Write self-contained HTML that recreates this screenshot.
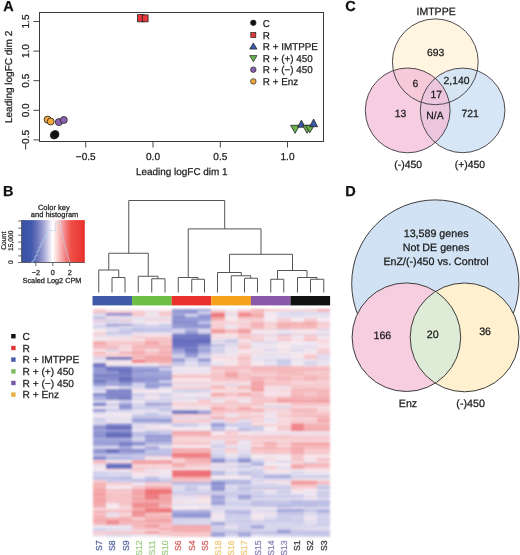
<!DOCTYPE html>
<html><head><meta charset="utf-8">
<style>
html,body{margin:0;padding:0;background:#fff;}
svg{filter:blur(0.4px);text-rendering:geometricPrecision;display:block;font-family:"Liberation Sans",sans-serif;will-change:transform;}
text{stroke-width:0.25px;}
</style></head><body>
<svg width="520" height="555" viewBox="0 0 520 555">
<rect width="520" height="555" fill="#fff"/>
<!-- ===== Panel A ===== -->
<g id="panelA">
<text x="3.2" y="10.6" font-size="14.5" font-weight="bold" fill="#111" stroke="#111">A</text>
<rect x="39.5" y="12.5" width="284" height="129" fill="none" stroke="#3a3a3a" stroke-width="1"/>
<g stroke="#444" stroke-width="1">
<line x1="33.5" y1="21.5" x2="39.5" y2="21.5"/>
<line x1="33.5" y1="51.1" x2="39.5" y2="51.1"/>
<line x1="33.5" y1="80.7" x2="39.5" y2="80.7"/>
<line x1="33.5" y1="110.3" x2="39.5" y2="110.3"/>
<line x1="33.5" y1="139.9" x2="39.5" y2="139.9"/>
<line x1="85.75" y1="141" x2="85.75" y2="147.5"/>
<line x1="153" y1="141" x2="153" y2="147.5"/>
<line x1="220.3" y1="141" x2="220.3" y2="147.5"/>
<line x1="287.5" y1="141" x2="287.5" y2="147.5"/>
</g>
<g font-size="10.1" fill="#222" text-anchor="middle" stroke="#222">
<text transform="translate(28.7,21.5) rotate(-90)">1.5</text>
<text transform="translate(28.7,51.1) rotate(-90)">1.0</text>
<text transform="translate(28.7,80.7) rotate(-90)">0.5</text>
<text transform="translate(28.7,110.3) rotate(-90)">0.0</text>
<text transform="translate(28.7,139.9) rotate(-90)">−0.5</text>
<text x="85.75" y="160">−0.5</text>
<text x="153" y="160">0.0</text>
<text x="220.3" y="160">0.5</text>
<text x="287.5" y="160">1.0</text>
</g>
<text x="181.8" y="174.5" font-size="9.95" fill="#222" text-anchor="middle" stroke="#222">Leading logFC dim 1</text>
<text transform="translate(12.1,76.9) rotate(-90)" font-size="10" fill="#222" text-anchor="middle" stroke="#222">Leading logFC dim 2</text>
<!-- points -->
<g stroke="#222" stroke-width="0.8">
<rect x="137.6" y="14.6" width="6.6" height="7.2" fill="#e8353a"/>
<rect x="142.3" y="14.9" width="5.8" height="6.9" fill="#e8353a"/>
<circle cx="47.6" cy="119.6" r="3.5" fill="#f2a83a"/>
<circle cx="50.7" cy="121.5" r="3.5" fill="#f2a83a"/>
<circle cx="58.8" cy="122.1" r="3.5" fill="#8a60b0"/>
<circle cx="63.8" cy="120" r="3.5" fill="#8a60b0"/>
<circle cx="54.1" cy="135.2" r="3.8" fill="#111"/>
<circle cx="55.2" cy="134.3" r="3.8" fill="#111"/>
<polygon points="290.6,125.3 299.6,125.3 295.1,133.3" fill="#6ab04c"/>
<polygon points="297.6,127.2 305.2,127.2 301.4,120.2" fill="#3a5aa8"/>
<polygon points="302.6,125.3 311.4,125.3 307,133.3" fill="#6ab04c"/>
<polygon points="305.4,125.3 314.2,125.3 309.8,132.8" fill="#6ab04c"/>
<polygon points="309.6,126.7 317.6,126.7 313.6,119" fill="#3a5aa8"/>
</g>
<!-- legend -->
<g stroke="#222" stroke-width="0.7">
<circle cx="253.3" cy="22.8" r="2.75" fill="#111"/>
<rect x="250.8" y="32.6" width="5" height="5" fill="#e0383a"/>
<polygon points="249.7,49.1 257,49.1 253.35,42.9" fill="#3a5aa8"/>
<polygon points="249.7,55.6 257,55.6 253.35,61.8" fill="#6ab04c"/>
<circle cx="253.3" cy="69.7" r="2.75" fill="#8a60b0"/>
<circle cx="253.3" cy="81.4" r="2.75" fill="#f2a83a"/>
</g>
<g font-size="9.9" fill="#222" stroke="#222">
<text x="262.8" y="26.6">C</text>
<text x="262.8" y="38.7">R</text>
<text x="262.8" y="49.9">R + IMTPPE</text>
<text x="262.8" y="62.1">R + (+) 450</text>
<text x="262.8" y="73.3">R + (−) 450</text>
<text x="262.8" y="85.1">R + Enz</text>
</g>
</g>

<!-- ===== Panel C ===== -->
<g id="panelC">
<text x="345.3" y="10.6" font-size="14.5" font-weight="bold" fill="#111" stroke="#111">C</text>
<text x="436.1" y="15.4" font-size="10.5" fill="#1a1a1a" text-anchor="middle" stroke="#1a1a1a">IMTPPE</text>
<circle cx="435.3" cy="61.8" r="42.9" fill="#fff5e0"/>
<circle cx="462.6" cy="110.4" r="42.3" fill="#d0e2f4" fill-opacity="0.85"/>
<circle cx="407.7" cy="110.4" r="42.4" fill="#f4bad5" fill-opacity="0.72"/>
<g fill="none" stroke="#454048" stroke-width="0.95">
<circle cx="435.3" cy="61.8" r="42.9"/>
<circle cx="462.6" cy="110.4" r="42.3"/>
<circle cx="407.7" cy="110.4" r="42.4"/>
</g>
<g font-size="10.4" fill="#1a1a1a" text-anchor="middle" stroke="#1a1a1a">
<text x="435.6" y="55.8">693</text>
<text x="415.4" y="87.3">6</text>
<text x="456.6" y="84">2,140</text>
<text x="436.2" y="97.6">17</text>
<text x="400.5" y="116.5">13</text>
<text x="435" y="118.5">N/A</text>
<text x="470.2" y="116.5">721</text>
<text x="408.2" y="168">(-)450</text>
<text x="469.9" y="168">(+)450</text>
</g>
</g>

<!-- ===== Panel D ===== -->
<g id="panelD">
<defs><clipPath id="clipP"><circle cx="406.4" cy="337.2" r="54.3"/></clipPath></defs>
<text x="345.3" y="195.8" font-size="14.5" font-weight="bold" fill="#111" stroke="#111">D</text>
<circle cx="435.3" cy="283.5" r="83.6" fill="#d0e2f3" stroke="#3d3d3d" stroke-width="1"/>
<circle cx="406.4" cy="337.2" r="54.3" fill="#f7cde0"/>
<circle cx="464.6" cy="337.4" r="54.4" fill="#fff0cf"/>
<circle cx="464.6" cy="337.4" r="54.4" fill="#deebd6" clip-path="url(#clipP)"/>
<circle cx="406.4" cy="337.2" r="54.3" fill="none" stroke="#3d3d3d" stroke-width="1"/>
<circle cx="464.6" cy="337.4" r="54.4" fill="none" stroke="#3d3d3d" stroke-width="1"/>
<g font-size="10.7" fill="#1a1a1a" text-anchor="middle" stroke="#1a1a1a">
<text x="436.1" y="237.3">13,589 genes</text>
<text x="436" y="251.2">Not DE genes</text>
<text x="436" y="265">EnZ/(-)450 vs. Control</text>
<text x="382.4" y="338.5">166</text>
<text x="432.7" y="337.7">20</text>
<text x="485.1" y="334.6">36</text>
<text x="408" y="407.1">Enz</text>
<text x="470.6" y="407.2">(-)450</text>
</g>
</g>

<!-- ===== Panel B ===== -->
<g id="panelB">
<text x="3.0" y="195.8" font-size="14.5" font-weight="bold" fill="#111" stroke="#111">B</text>
<!-- color key -->
<defs>
<linearGradient id="ck" x1="0" x2="1" y1="0" y2="0">
<stop offset="0" stop-color="#3a52a6"/>
<stop offset="0.15" stop-color="#4058a9"/>
<stop offset="0.25" stop-color="#6c76bc"/>
<stop offset="0.35" stop-color="#a4a6d6"/>
<stop offset="0.43" stop-color="#dcd8ee"/>
<stop offset="0.49" stop-color="#ffffff"/>
<stop offset="0.55" stop-color="#fcdcdc"/>
<stop offset="0.62" stop-color="#f8b0b0"/>
<stop offset="0.70" stop-color="#f27c7c"/>
<stop offset="0.78" stop-color="#ee5048"/>
<stop offset="1" stop-color="#e8302a"/>
</linearGradient>
<filter id="hblur" x="-2%" y="-2%" width="104%" height="104%"><feGaussianBlur stdDeviation="0.8"/></filter>
</defs>
<rect x="21.6" y="220.1" width="63.2" height="42.4" fill="url(#ck)"/>
<path d="M21.6,220.1 V262.5 H84.8" fill="none" stroke="#444" stroke-width="0.8"/>
<polyline points="31,262.3 33,262.3 33,260 35,260 35,256 37,256 37,251 39,251 39,247 41,247 41,243 43,243 43,239 45,239 45,236 47,236 47,230.5 55.6,230.5 55.6,222.8 60.6,222.8 61.5,231 63,238 65,246 67,253 69,260 70,262.3" fill="none" stroke="#b4dcee" stroke-width="0.6"/>
<g stroke="#444" stroke-width="0.8">
<line x1="18.2" y1="221" x2="21.6" y2="221"/>
<line x1="18.2" y1="228.2" x2="21.6" y2="228.2"/>
<line x1="18.2" y1="235.2" x2="21.6" y2="235.2"/>
<line x1="18.2" y1="242.1" x2="21.6" y2="242.1"/>
<line x1="18.2" y1="249" x2="21.6" y2="249"/>
<line x1="18.2" y1="255.9" x2="21.6" y2="255.9"/>
<line x1="18.2" y1="262.5" x2="21.6" y2="262.5"/>
<line x1="35.8" y1="262.5" x2="35.8" y2="266"/>
<line x1="52.8" y1="262.5" x2="52.8" y2="266"/>
<line x1="69.7" y1="262.5" x2="69.7" y2="266"/>
</g>
<g font-size="7.3" fill="#222" text-anchor="middle" stroke="#222">
<text x="53.8" y="209.5" font-size="7.5">Color key</text>
<text x="54.6" y="217" font-size="7.5">and histogram</text>
<text x="35.8" y="274.5">−2</text>
<text x="52.8" y="274.5">0</text>
<text x="69.7" y="274.5">2</text>
<text x="52" y="282.5">Scaled Log2 CPM</text>
<text transform="translate(12.8,262.2) rotate(-90)" font-size="6.7">0</text>
<text transform="translate(12.8,240.8) rotate(-90)" font-size="6.7">15,000</text>
<text transform="translate(5.6,240.8) rotate(-90)" font-size="6.8">Count</text>
</g>
<!-- legend -->
<g>
<rect x="11.2" y="334" width="4.4" height="4.4" fill="#111"/>
<rect x="11.2" y="345.8" width="4.4" height="4.4" fill="#e0383a"/>
<rect x="11.2" y="357.4" width="4.4" height="4.4" fill="#4a5ca8"/>
<rect x="11.2" y="369.2" width="4.4" height="4.4" fill="#7cbc64"/>
<rect x="11.2" y="380.8" width="4.4" height="4.4" fill="#7a5aa8"/>
<rect x="11.2" y="392.4" width="4.4" height="4.4" fill="#e8b040"/>
</g>
<g font-size="10.2" fill="#222" stroke="#222">
<text x="22.5" y="339.8">C</text>
<text x="22.5" y="351.6">R</text>
<text x="22.5" y="363.2">R + IMTPPE</text>
<text x="22.5" y="375">R + (+) 450</text>
<text x="22.5" y="386.6">R + (−) 450</text>
<text x="22.5" y="398.2">R + Enz</text>
</g>
<!-- dendrogram -->
<g fill="none" stroke="#555" stroke-width="1">
<path d="M128.75,253.25 V200.5 H224.7 V228.9"/>
<path d="M108.75,270 V253.25 H148.25 V276.25"/>
<path d="M98.75,292.5 V270 H118.75 V277.5"/>
<path d="M112,292.5 V277.5 H125 V292.5"/>
<path d="M138.25,292.5 V276.25 H158 V278.75"/>
<path d="M151.75,292.5 V278.75 H165 V292.5"/>
<path d="M188.25,277.5 V228.9 H261 V254.3"/>
<path d="M178.25,292.5 V277.5 H198 V279.25"/>
<path d="M191.75,292.5 V279.25 H204.5 V292.5"/>
<path d="M229.5,272.5 V254.3 H292.5 V270.5"/>
<path d="M217.5,292.5 V272.5 H241.25 V275.75"/>
<path d="M231.25,292.5 V275.75 H250.75 V278.25"/>
<path d="M244.5,292.5 V278.25 H257.5 V292.5"/>
<path d="M277.5,279.25 V270.5 H307 V277.5"/>
<path d="M270.75,292.5 V279.25 H283.75 V292.5"/>
<path d="M297.5,292.5 V277.5 H317 V279.25"/>
<path d="M310.5,292.5 V279.25 H323.75 V292.5"/>
</g>
<!-- group color bar -->
<rect x="92.5" y="296" width="39.6" height="9.4" fill="#3f5aa8"/>
<rect x="132.1" y="296" width="39.6" height="9.4" fill="#6cbe45"/>
<rect x="171.7" y="296" width="39.6" height="9.4" fill="#e8312a"/>
<rect x="211.3" y="296" width="39.6" height="9.4" fill="#f7a21b"/>
<rect x="250.9" y="296" width="39.6" height="9.4" fill="#8a5aa8"/>
<rect x="290.5" y="296" width="39.6" height="9.4" fill="#111"/>
<!-- heatmap -->
<g id="heat" shape-rendering="crispEdges" filter="url(#hblur)">
<rect x="92.5" y="309.00" width="13.25" height="1.05" fill="#f6ccd0"/>
<rect x="105.7" y="309.00" width="13.25" height="1.05" fill="#f6ebf1"/>
<rect x="118.9" y="309.00" width="13.25" height="1.05" fill="#f5ebf2"/>
<rect x="132.1" y="309.00" width="13.25" height="1.05" fill="#f6ebf1"/>
<rect x="145.3" y="309.00" width="13.25" height="1.05" fill="#f5ebf2"/>
<rect x="158.5" y="309.00" width="13.25" height="1.05" fill="#f6ebf1"/>
<rect x="92.5" y="310.00" width="13.25" height="1.05" fill="#f6c6ca"/>
<rect x="105.7" y="310.00" width="13.25" height="1.05" fill="#f6eaf0"/>
<rect x="118.9" y="310.00" width="13.25" height="1.05" fill="#f6e3e8"/>
<rect x="132.1" y="310.00" width="13.25" height="1.05" fill="#f6e3e9"/>
<rect x="145.3" y="310.00" width="13.25" height="1.05" fill="#f6eaf0"/>
<rect x="158.5" y="310.00" width="13.25" height="1.05" fill="#f6eaf0"/>
<rect x="92.5" y="311.00" width="13.25" height="1.20" fill="#f6d7dc"/>
<rect x="105.7" y="311.00" width="13.25" height="1.20" fill="#f6d8dd"/>
<rect x="118.9" y="311.00" width="13.25" height="1.20" fill="#f6d6db"/>
<rect x="132.1" y="311.00" width="13.25" height="1.20" fill="#f6d8dd"/>
<rect x="145.3" y="311.00" width="13.25" height="1.20" fill="#eae3f0"/>
<rect x="158.5" y="311.00" width="13.25" height="1.20" fill="#f6dbe0"/>
<rect x="92.5" y="312.15" width="13.25" height="1.20" fill="#f4b3b5"/>
<rect x="105.7" y="312.15" width="13.25" height="1.20" fill="#f5b8bb"/>
<rect x="118.9" y="312.15" width="13.25" height="1.20" fill="#f5b8bb"/>
<rect x="132.1" y="312.15" width="13.25" height="1.20" fill="#f5bbbf"/>
<rect x="145.3" y="312.15" width="13.25" height="1.20" fill="#f6d8dd"/>
<rect x="158.5" y="312.15" width="13.25" height="1.20" fill="#f5babd"/>
<rect x="92.5" y="313.30" width="13.25" height="1.40" fill="#d8d6ed"/>
<rect x="105.7" y="313.30" width="13.25" height="1.40" fill="#9195d2"/>
<rect x="118.9" y="313.30" width="13.25" height="1.40" fill="#8a8fcf"/>
<rect x="132.1" y="313.30" width="13.25" height="1.40" fill="#f6ced2"/>
<rect x="145.3" y="313.30" width="13.25" height="1.40" fill="#efe7f1"/>
<rect x="158.5" y="313.30" width="13.25" height="1.40" fill="#f6cfd3"/>
<rect x="92.5" y="314.65" width="13.25" height="1.40" fill="#e8e2f0"/>
<rect x="105.7" y="314.65" width="13.25" height="1.40" fill="#9ca0d8"/>
<rect x="118.9" y="314.65" width="13.25" height="1.40" fill="#999dd7"/>
<rect x="132.1" y="314.65" width="13.25" height="1.40" fill="#f5bbbe"/>
<rect x="145.3" y="314.65" width="13.25" height="1.40" fill="#f6dee3"/>
<rect x="158.5" y="314.65" width="13.25" height="1.40" fill="#f5b8bc"/>
<rect x="92.5" y="316.00" width="13.25" height="1.30" fill="#e1ddef"/>
<rect x="105.7" y="316.00" width="13.25" height="1.30" fill="#f6dde2"/>
<rect x="118.9" y="316.00" width="13.25" height="1.30" fill="#f6dee3"/>
<rect x="132.1" y="316.00" width="13.25" height="1.30" fill="#f6e8ee"/>
<rect x="145.3" y="316.00" width="13.25" height="1.30" fill="#f6ecf2"/>
<rect x="158.5" y="316.00" width="13.25" height="1.30" fill="#f6ebf1"/>
<rect x="92.5" y="317.25" width="13.25" height="1.30" fill="#b1b4e0"/>
<rect x="105.7" y="317.25" width="13.25" height="1.30" fill="#e6e0ef"/>
<rect x="118.9" y="317.25" width="13.25" height="1.30" fill="#dbd8ee"/>
<rect x="132.1" y="317.25" width="13.25" height="1.30" fill="#e0dcee"/>
<rect x="145.3" y="317.25" width="13.25" height="1.30" fill="#e4dfef"/>
<rect x="158.5" y="317.25" width="13.25" height="1.30" fill="#e1dcee"/>
<rect x="92.5" y="318.50" width="13.25" height="1.45" fill="#f5ebf2"/>
<rect x="105.7" y="318.50" width="13.25" height="1.45" fill="#ceceeb"/>
<rect x="118.9" y="318.50" width="13.25" height="1.45" fill="#f0e8f1"/>
<rect x="132.1" y="318.50" width="13.25" height="1.45" fill="#eae3f0"/>
<rect x="145.3" y="318.50" width="13.25" height="1.45" fill="#f6dadf"/>
<rect x="158.5" y="318.50" width="13.25" height="1.45" fill="#f6dadf"/>
<rect x="92.5" y="319.90" width="13.25" height="1.45" fill="#f5bdc0"/>
<rect x="105.7" y="319.90" width="13.25" height="1.45" fill="#f6dbe0"/>
<rect x="118.9" y="319.90" width="13.25" height="1.45" fill="#f5bdc0"/>
<rect x="132.1" y="319.90" width="13.25" height="1.45" fill="#f6eaf0"/>
<rect x="145.3" y="319.90" width="13.25" height="1.45" fill="#f6cdd1"/>
<rect x="158.5" y="319.90" width="13.25" height="1.45" fill="#f6ced2"/>
<rect x="92.5" y="321.30" width="13.25" height="1.20" fill="#cbcceb"/>
<rect x="105.7" y="321.30" width="13.25" height="1.20" fill="#c0c2e6"/>
<rect x="118.9" y="321.30" width="13.25" height="1.20" fill="#c7c8e9"/>
<rect x="132.1" y="321.30" width="13.25" height="1.20" fill="#e1ddef"/>
<rect x="145.3" y="321.30" width="13.25" height="1.20" fill="#ebe4f0"/>
<rect x="158.5" y="321.30" width="13.25" height="1.20" fill="#e8e1f0"/>
<rect x="92.5" y="322.45" width="13.25" height="1.20" fill="#e8e1f0"/>
<rect x="105.7" y="322.45" width="13.25" height="1.20" fill="#e6e0ef"/>
<rect x="118.9" y="322.45" width="13.25" height="1.20" fill="#e9e3f0"/>
<rect x="132.1" y="322.45" width="13.25" height="1.20" fill="#f1e8f1"/>
<rect x="145.3" y="322.45" width="13.25" height="1.20" fill="#f6ecf2"/>
<rect x="158.5" y="322.45" width="13.25" height="1.20" fill="#f2e9f1"/>
<rect x="92.5" y="323.60" width="13.25" height="1.25" fill="#e5dfef"/>
<rect x="105.7" y="323.60" width="13.25" height="1.25" fill="#9296d3"/>
<rect x="118.9" y="323.60" width="13.25" height="1.25" fill="#8f93d1"/>
<rect x="132.1" y="323.60" width="13.25" height="1.25" fill="#bfc1e6"/>
<rect x="145.3" y="323.60" width="13.25" height="1.25" fill="#d8d6ed"/>
<rect x="158.5" y="323.60" width="13.25" height="1.25" fill="#c6c7e8"/>
<rect x="92.5" y="324.80" width="13.25" height="1.25" fill="#dcd9ee"/>
<rect x="105.7" y="324.80" width="13.25" height="1.25" fill="#9195d2"/>
<rect x="118.9" y="324.80" width="13.25" height="1.25" fill="#9599d5"/>
<rect x="132.1" y="324.80" width="13.25" height="1.25" fill="#cbcceb"/>
<rect x="145.3" y="324.80" width="13.25" height="1.25" fill="#e1dcee"/>
<rect x="158.5" y="324.80" width="13.25" height="1.25" fill="#c8c9e9"/>
<rect x="92.5" y="326.00" width="13.25" height="1.15" fill="#d3d2ec"/>
<rect x="105.7" y="326.00" width="13.25" height="1.15" fill="#d5d3ec"/>
<rect x="118.9" y="326.00" width="13.25" height="1.15" fill="#ede5f0"/>
<rect x="132.1" y="326.00" width="13.25" height="1.15" fill="#d3d2ec"/>
<rect x="145.3" y="326.00" width="13.25" height="1.15" fill="#d2d1ec"/>
<rect x="158.5" y="326.00" width="13.25" height="1.15" fill="#d7d5ed"/>
<rect x="92.5" y="327.10" width="13.25" height="1.15" fill="#cecfeb"/>
<rect x="105.7" y="327.10" width="13.25" height="1.15" fill="#cfd0ec"/>
<rect x="118.9" y="327.10" width="13.25" height="1.15" fill="#eae3f0"/>
<rect x="132.1" y="327.10" width="13.25" height="1.15" fill="#d1d1ec"/>
<rect x="145.3" y="327.10" width="13.25" height="1.15" fill="#d6d5ed"/>
<rect x="158.5" y="327.10" width="13.25" height="1.15" fill="#c6c8e9"/>
<rect x="92.5" y="328.20" width="13.25" height="1.32" fill="#ede5f0"/>
<rect x="105.7" y="328.20" width="13.25" height="1.32" fill="#d9d7ed"/>
<rect x="118.9" y="328.20" width="13.25" height="1.32" fill="#bdbfe5"/>
<rect x="132.1" y="328.20" width="13.25" height="1.32" fill="#c3c5e8"/>
<rect x="145.3" y="328.20" width="13.25" height="1.32" fill="#c0c2e6"/>
<rect x="158.5" y="328.20" width="13.25" height="1.32" fill="#cccdeb"/>
<rect x="92.5" y="329.47" width="13.25" height="1.32" fill="#f6eaf0"/>
<rect x="105.7" y="329.47" width="13.25" height="1.32" fill="#e5e0ef"/>
<rect x="118.9" y="329.47" width="13.25" height="1.32" fill="#cfcfeb"/>
<rect x="132.1" y="329.47" width="13.25" height="1.32" fill="#bdbfe5"/>
<rect x="145.3" y="329.47" width="13.25" height="1.32" fill="#c3c5e7"/>
<rect x="158.5" y="329.47" width="13.25" height="1.32" fill="#babce4"/>
<rect x="92.5" y="330.73" width="13.25" height="1.32" fill="#f6e3e9"/>
<rect x="105.7" y="330.73" width="13.25" height="1.32" fill="#efe7f1"/>
<rect x="118.9" y="330.73" width="13.25" height="1.32" fill="#ceceeb"/>
<rect x="132.1" y="330.73" width="13.25" height="1.32" fill="#c9cbea"/>
<rect x="145.3" y="330.73" width="13.25" height="1.32" fill="#cdceeb"/>
<rect x="158.5" y="330.73" width="13.25" height="1.32" fill="#cfcfeb"/>
<rect x="92.5" y="332.00" width="13.25" height="1.12" fill="#f6e7ed"/>
<rect x="105.7" y="332.00" width="13.25" height="1.12" fill="#b0b3e0"/>
<rect x="118.9" y="332.00" width="13.25" height="1.12" fill="#a7aadc"/>
<rect x="132.1" y="332.00" width="13.25" height="1.12" fill="#dbd8ee"/>
<rect x="145.3" y="332.00" width="13.25" height="1.12" fill="#d7d5ed"/>
<rect x="158.5" y="332.00" width="13.25" height="1.12" fill="#d8d6ed"/>
<rect x="92.5" y="333.07" width="13.25" height="1.12" fill="#f6c2c6"/>
<rect x="105.7" y="333.07" width="13.25" height="1.12" fill="#dedaee"/>
<rect x="118.9" y="333.07" width="13.25" height="1.12" fill="#ddd9ee"/>
<rect x="132.1" y="333.07" width="13.25" height="1.12" fill="#f6dbe0"/>
<rect x="145.3" y="333.07" width="13.25" height="1.12" fill="#f6e6ec"/>
<rect x="158.5" y="333.07" width="13.25" height="1.12" fill="#f6e1e6"/>
<rect x="92.5" y="334.13" width="13.25" height="1.12" fill="#f6ccd0"/>
<rect x="105.7" y="334.13" width="13.25" height="1.12" fill="#cccdeb"/>
<rect x="118.9" y="334.13" width="13.25" height="1.12" fill="#ceceeb"/>
<rect x="132.1" y="334.13" width="13.25" height="1.12" fill="#e6e0ef"/>
<rect x="145.3" y="334.13" width="13.25" height="1.12" fill="#ede6f1"/>
<rect x="158.5" y="334.13" width="13.25" height="1.12" fill="#e8e2f0"/>
<rect x="92.5" y="335.20" width="13.25" height="1.55" fill="#e6e0ef"/>
<rect x="105.7" y="335.20" width="13.25" height="1.55" fill="#e4dfef"/>
<rect x="118.9" y="335.20" width="13.25" height="1.55" fill="#e7e1ef"/>
<rect x="132.1" y="335.20" width="13.25" height="1.55" fill="#f6dce1"/>
<rect x="145.3" y="335.20" width="13.25" height="1.55" fill="#f6dfe4"/>
<rect x="158.5" y="335.20" width="13.25" height="1.55" fill="#f6dadf"/>
<rect x="92.5" y="336.70" width="13.25" height="1.55" fill="#f6d9de"/>
<rect x="105.7" y="336.70" width="13.25" height="1.55" fill="#f6dbe0"/>
<rect x="118.9" y="336.70" width="13.25" height="1.55" fill="#f6dee4"/>
<rect x="132.1" y="336.70" width="13.25" height="1.55" fill="#f5c1c5"/>
<rect x="145.3" y="336.70" width="13.25" height="1.55" fill="#f6c5c9"/>
<rect x="158.5" y="336.70" width="13.25" height="1.55" fill="#f6c7cb"/>
<rect x="92.5" y="338.20" width="13.25" height="1.60" fill="#f2e9f1"/>
<rect x="105.7" y="338.20" width="13.25" height="1.60" fill="#f6e7ec"/>
<rect x="118.9" y="338.20" width="13.25" height="1.60" fill="#f6e0e6"/>
<rect x="132.1" y="338.20" width="13.25" height="1.60" fill="#f6dadf"/>
<rect x="145.3" y="338.20" width="13.25" height="1.60" fill="#f5c0c3"/>
<rect x="158.5" y="338.20" width="13.25" height="1.60" fill="#f5c1c5"/>
<rect x="92.5" y="339.75" width="13.25" height="1.60" fill="#f3eaf2"/>
<rect x="105.7" y="339.75" width="13.25" height="1.60" fill="#f6dae0"/>
<rect x="118.9" y="339.75" width="13.25" height="1.60" fill="#f6dfe5"/>
<rect x="132.1" y="339.75" width="13.25" height="1.60" fill="#f5ebf2"/>
<rect x="145.3" y="339.75" width="13.25" height="1.60" fill="#f6d2d7"/>
<rect x="158.5" y="339.75" width="13.25" height="1.60" fill="#f6cbcf"/>
<rect x="92.5" y="341.30" width="13.25" height="1.35" fill="#f4afb1"/>
<rect x="105.7" y="341.30" width="13.25" height="1.35" fill="#f6c9cd"/>
<rect x="118.9" y="341.30" width="13.25" height="1.35" fill="#f6cbcf"/>
<rect x="132.1" y="341.30" width="13.25" height="1.35" fill="#f5c1c5"/>
<rect x="145.3" y="341.30" width="13.25" height="1.35" fill="#f3a0a2"/>
<rect x="158.5" y="341.30" width="13.25" height="1.35" fill="#f5bdc0"/>
<rect x="92.5" y="342.60" width="13.25" height="1.35" fill="#f29c9e"/>
<rect x="105.7" y="342.60" width="13.25" height="1.35" fill="#f6c3c7"/>
<rect x="118.9" y="342.60" width="13.25" height="1.35" fill="#f5c1c5"/>
<rect x="132.1" y="342.60" width="13.25" height="1.35" fill="#f5c2c5"/>
<rect x="145.3" y="342.60" width="13.25" height="1.35" fill="#f4acae"/>
<rect x="158.5" y="342.60" width="13.25" height="1.35" fill="#f6c5c9"/>
<rect x="92.5" y="343.90" width="13.25" height="1.35" fill="#f4b3b6"/>
<rect x="105.7" y="343.90" width="13.25" height="1.35" fill="#f6cdd1"/>
<rect x="118.9" y="343.90" width="13.25" height="1.35" fill="#f6c9cd"/>
<rect x="132.1" y="343.90" width="13.25" height="1.35" fill="#f6ccd0"/>
<rect x="145.3" y="343.90" width="13.25" height="1.35" fill="#f4aeb0"/>
<rect x="158.5" y="343.90" width="13.25" height="1.35" fill="#f6ced2"/>
<rect x="92.5" y="345.20" width="13.25" height="1.42" fill="#f5bcc0"/>
<rect x="105.7" y="345.20" width="13.25" height="1.42" fill="#f6c4c8"/>
<rect x="118.9" y="345.20" width="13.25" height="1.42" fill="#f6dee3"/>
<rect x="132.1" y="345.20" width="13.25" height="1.42" fill="#f4b5b8"/>
<rect x="145.3" y="345.20" width="13.25" height="1.42" fill="#f5b7ba"/>
<rect x="158.5" y="345.20" width="13.25" height="1.42" fill="#f4b5b8"/>
<rect x="92.5" y="346.57" width="13.25" height="1.42" fill="#f5b8bb"/>
<rect x="105.7" y="346.57" width="13.25" height="1.42" fill="#f4b5b8"/>
<rect x="118.9" y="346.57" width="13.25" height="1.42" fill="#f6ced2"/>
<rect x="132.1" y="346.57" width="13.25" height="1.42" fill="#f4b3b5"/>
<rect x="145.3" y="346.57" width="13.25" height="1.42" fill="#f4b2b5"/>
<rect x="158.5" y="346.57" width="13.25" height="1.42" fill="#f4b4b7"/>
<rect x="92.5" y="347.93" width="13.25" height="1.42" fill="#f4b5b8"/>
<rect x="105.7" y="347.93" width="13.25" height="1.42" fill="#f5bdc1"/>
<rect x="118.9" y="347.93" width="13.25" height="1.42" fill="#f6d2d7"/>
<rect x="132.1" y="347.93" width="13.25" height="1.42" fill="#f5b9bc"/>
<rect x="145.3" y="347.93" width="13.25" height="1.42" fill="#f4b1b4"/>
<rect x="158.5" y="347.93" width="13.25" height="1.42" fill="#f4b4b7"/>
<rect x="92.5" y="349.30" width="13.25" height="1.48" fill="#f6e8ed"/>
<rect x="105.7" y="349.30" width="13.25" height="1.48" fill="#d5d4ec"/>
<rect x="118.9" y="349.30" width="13.25" height="1.48" fill="#f6e6ec"/>
<rect x="132.1" y="349.30" width="13.25" height="1.48" fill="#f5c1c5"/>
<rect x="145.3" y="349.30" width="13.25" height="1.48" fill="#f6dfe4"/>
<rect x="158.5" y="349.30" width="13.25" height="1.48" fill="#f5bfc3"/>
<rect x="92.5" y="350.73" width="13.25" height="1.48" fill="#f6c8cc"/>
<rect x="105.7" y="350.73" width="13.25" height="1.48" fill="#f6dee3"/>
<rect x="118.9" y="350.73" width="13.25" height="1.48" fill="#f5bec2"/>
<rect x="132.1" y="350.73" width="13.25" height="1.48" fill="#f4abad"/>
<rect x="145.3" y="350.73" width="13.25" height="1.48" fill="#f5c0c4"/>
<rect x="158.5" y="350.73" width="13.25" height="1.48" fill="#f4aeb1"/>
<rect x="92.5" y="352.17" width="13.25" height="1.48" fill="#f5bcbf"/>
<rect x="105.7" y="352.17" width="13.25" height="1.48" fill="#f6d6db"/>
<rect x="118.9" y="352.17" width="13.25" height="1.48" fill="#f4b4b7"/>
<rect x="132.1" y="352.17" width="13.25" height="1.48" fill="#f3a9ab"/>
<rect x="145.3" y="352.17" width="13.25" height="1.48" fill="#f6c5c8"/>
<rect x="158.5" y="352.17" width="13.25" height="1.48" fill="#f4adaf"/>
<rect x="92.5" y="353.60" width="13.25" height="1.18" fill="#f6c9cd"/>
<rect x="105.7" y="353.60" width="13.25" height="1.18" fill="#f6cbcf"/>
<rect x="118.9" y="353.60" width="13.25" height="1.18" fill="#f6ccd0"/>
<rect x="132.1" y="353.60" width="13.25" height="1.18" fill="#f5b6b9"/>
<rect x="145.3" y="353.60" width="13.25" height="1.18" fill="#f4b3b5"/>
<rect x="158.5" y="353.60" width="13.25" height="1.18" fill="#f4b5b8"/>
<rect x="92.5" y="354.73" width="13.25" height="1.18" fill="#f6d2d6"/>
<rect x="105.7" y="354.73" width="13.25" height="1.18" fill="#f6d6db"/>
<rect x="118.9" y="354.73" width="13.25" height="1.18" fill="#f6d8dc"/>
<rect x="132.1" y="354.73" width="13.25" height="1.18" fill="#f6c4c8"/>
<rect x="145.3" y="354.73" width="13.25" height="1.18" fill="#f6c5c8"/>
<rect x="158.5" y="354.73" width="13.25" height="1.18" fill="#f5c1c5"/>
<rect x="92.5" y="355.87" width="13.25" height="1.18" fill="#f6c6ca"/>
<rect x="105.7" y="355.87" width="13.25" height="1.18" fill="#f6cdd1"/>
<rect x="118.9" y="355.87" width="13.25" height="1.18" fill="#f6c4c8"/>
<rect x="132.1" y="355.87" width="13.25" height="1.18" fill="#f4aaad"/>
<rect x="145.3" y="355.87" width="13.25" height="1.18" fill="#f3a5a7"/>
<rect x="158.5" y="355.87" width="13.25" height="1.18" fill="#f3a3a5"/>
<rect x="92.5" y="357.00" width="13.25" height="1.45" fill="#d0d0ec"/>
<rect x="105.7" y="357.00" width="13.25" height="1.45" fill="#6068b8"/>
<rect x="118.9" y="357.00" width="13.25" height="1.45" fill="#6068b8"/>
<rect x="132.1" y="357.00" width="13.25" height="1.45" fill="#f5bdc0"/>
<rect x="145.3" y="357.00" width="13.25" height="1.45" fill="#f29ea0"/>
<rect x="158.5" y="357.00" width="13.25" height="1.45" fill="#f3a6a8"/>
<rect x="92.5" y="358.40" width="13.25" height="1.45" fill="#e2ddef"/>
<rect x="105.7" y="358.40" width="13.25" height="1.45" fill="#7076c2"/>
<rect x="118.9" y="358.40" width="13.25" height="1.45" fill="#6d74c0"/>
<rect x="132.1" y="358.40" width="13.25" height="1.45" fill="#f5c1c5"/>
<rect x="145.3" y="358.40" width="13.25" height="1.45" fill="#f3a8aa"/>
<rect x="158.5" y="358.40" width="13.25" height="1.45" fill="#f3a4a6"/>
<rect x="92.5" y="359.80" width="13.25" height="1.55" fill="#e5e0ef"/>
<rect x="105.7" y="359.80" width="13.25" height="1.55" fill="#f6e8ee"/>
<rect x="118.9" y="359.80" width="13.25" height="1.55" fill="#f6e7ec"/>
<rect x="132.1" y="359.80" width="13.25" height="1.55" fill="#f08084"/>
<rect x="145.3" y="359.80" width="13.25" height="1.55" fill="#f4adaf"/>
<rect x="158.5" y="359.80" width="13.25" height="1.55" fill="#f4aeb1"/>
<rect x="92.5" y="361.30" width="13.25" height="1.55" fill="#ede5f0"/>
<rect x="105.7" y="361.30" width="13.25" height="1.55" fill="#f6e3e9"/>
<rect x="118.9" y="361.30" width="13.25" height="1.55" fill="#f6e1e7"/>
<rect x="132.1" y="361.30" width="13.25" height="1.55" fill="#ef797c"/>
<rect x="145.3" y="361.30" width="13.25" height="1.55" fill="#f3a7a9"/>
<rect x="158.5" y="361.30" width="13.25" height="1.55" fill="#f3a6a8"/>
<rect x="92.5" y="362.80" width="13.25" height="1.12" fill="#6a71be"/>
<rect x="105.7" y="362.80" width="13.25" height="1.12" fill="#f2e9f1"/>
<rect x="118.9" y="362.80" width="13.25" height="1.12" fill="#f0e8f1"/>
<rect x="132.1" y="362.80" width="13.25" height="1.12" fill="#f6ebf1"/>
<rect x="145.3" y="362.80" width="13.25" height="1.12" fill="#f2e9f1"/>
<rect x="158.5" y="362.80" width="13.25" height="1.12" fill="#f6d4d8"/>
<rect x="92.5" y="363.87" width="13.25" height="1.12" fill="#6e74c1"/>
<rect x="105.7" y="363.87" width="13.25" height="1.12" fill="#efe7f1"/>
<rect x="118.9" y="363.87" width="13.25" height="1.12" fill="#eae3f0"/>
<rect x="132.1" y="363.87" width="13.25" height="1.12" fill="#f6ebf1"/>
<rect x="145.3" y="363.87" width="13.25" height="1.12" fill="#f1e8f1"/>
<rect x="158.5" y="363.87" width="13.25" height="1.12" fill="#f6d5d9"/>
<rect x="92.5" y="364.93" width="13.25" height="1.12" fill="#6c73c0"/>
<rect x="105.7" y="364.93" width="13.25" height="1.12" fill="#f2e9f1"/>
<rect x="118.9" y="364.93" width="13.25" height="1.12" fill="#f6ebf1"/>
<rect x="132.1" y="364.93" width="13.25" height="1.12" fill="#f3eaf1"/>
<rect x="145.3" y="364.93" width="13.25" height="1.12" fill="#f5ebf2"/>
<rect x="158.5" y="364.93" width="13.25" height="1.12" fill="#f6cbcf"/>
<rect x="92.5" y="366.00" width="13.25" height="1.20" fill="#7e84c9"/>
<rect x="105.7" y="366.00" width="13.25" height="1.20" fill="#8186cb"/>
<rect x="118.9" y="366.00" width="13.25" height="1.20" fill="#8489cc"/>
<rect x="132.1" y="366.00" width="13.25" height="1.20" fill="#a9acdd"/>
<rect x="145.3" y="366.00" width="13.25" height="1.20" fill="#a7aadc"/>
<rect x="158.5" y="366.00" width="13.25" height="1.20" fill="#a9acdd"/>
<rect x="92.5" y="367.15" width="13.25" height="1.20" fill="#8186ca"/>
<rect x="105.7" y="367.15" width="13.25" height="1.20" fill="#7c81c8"/>
<rect x="118.9" y="367.15" width="13.25" height="1.20" fill="#7d82c9"/>
<rect x="132.1" y="367.15" width="13.25" height="1.20" fill="#a8abdc"/>
<rect x="145.3" y="367.15" width="13.25" height="1.20" fill="#adafde"/>
<rect x="158.5" y="367.15" width="13.25" height="1.20" fill="#adb0de"/>
<rect x="92.5" y="368.30" width="13.25" height="1.20" fill="#9296d3"/>
<rect x="105.7" y="368.30" width="13.25" height="1.20" fill="#6b72bf"/>
<rect x="118.9" y="368.30" width="13.25" height="1.20" fill="#6d74c0"/>
<rect x="132.1" y="368.30" width="13.25" height="1.20" fill="#9ea2d9"/>
<rect x="145.3" y="368.30" width="13.25" height="1.20" fill="#a2a5da"/>
<rect x="158.5" y="368.30" width="13.25" height="1.20" fill="#d5d4ec"/>
<rect x="92.5" y="369.45" width="13.25" height="1.20" fill="#9b9ed7"/>
<rect x="105.7" y="369.45" width="13.25" height="1.20" fill="#757bc4"/>
<rect x="118.9" y="369.45" width="13.25" height="1.20" fill="#7076c2"/>
<rect x="132.1" y="369.45" width="13.25" height="1.20" fill="#979bd5"/>
<rect x="145.3" y="369.45" width="13.25" height="1.20" fill="#9296d3"/>
<rect x="158.5" y="369.45" width="13.25" height="1.20" fill="#cbcceb"/>
<rect x="92.5" y="370.60" width="13.25" height="1.60" fill="#7e83c9"/>
<rect x="105.7" y="370.60" width="13.25" height="1.60" fill="#7e83c9"/>
<rect x="118.9" y="370.60" width="13.25" height="1.60" fill="#6068b8"/>
<rect x="132.1" y="370.60" width="13.25" height="1.60" fill="#7a7fc7"/>
<rect x="145.3" y="370.60" width="13.25" height="1.60" fill="#8489cc"/>
<rect x="158.5" y="370.60" width="13.25" height="1.60" fill="#8085ca"/>
<rect x="92.5" y="372.15" width="13.25" height="1.60" fill="#a1a5da"/>
<rect x="105.7" y="372.15" width="13.25" height="1.60" fill="#9b9ed7"/>
<rect x="118.9" y="372.15" width="13.25" height="1.60" fill="#7a80c7"/>
<rect x="132.1" y="372.15" width="13.25" height="1.60" fill="#a8acdd"/>
<rect x="145.3" y="372.15" width="13.25" height="1.60" fill="#b0b3e0"/>
<rect x="158.5" y="372.15" width="13.25" height="1.60" fill="#b3b5e1"/>
<rect x="92.5" y="373.70" width="13.25" height="1.60" fill="#6068b8"/>
<rect x="105.7" y="373.70" width="13.25" height="1.60" fill="#6068b8"/>
<rect x="118.9" y="373.70" width="13.25" height="1.60" fill="#6068b8"/>
<rect x="132.1" y="373.70" width="13.25" height="1.60" fill="#8489cc"/>
<rect x="145.3" y="373.70" width="13.25" height="1.60" fill="#858acd"/>
<rect x="158.5" y="373.70" width="13.25" height="1.60" fill="#858acd"/>
<rect x="92.5" y="375.25" width="13.25" height="1.60" fill="#858acc"/>
<rect x="105.7" y="375.25" width="13.25" height="1.60" fill="#878cce"/>
<rect x="118.9" y="375.25" width="13.25" height="1.60" fill="#868bcd"/>
<rect x="132.1" y="375.25" width="13.25" height="1.60" fill="#a7aadc"/>
<rect x="145.3" y="375.25" width="13.25" height="1.60" fill="#a7aadc"/>
<rect x="158.5" y="375.25" width="13.25" height="1.60" fill="#a9acdd"/>
<rect x="92.5" y="376.80" width="13.25" height="1.55" fill="#7d83c9"/>
<rect x="105.7" y="376.80" width="13.25" height="1.55" fill="#7d82c8"/>
<rect x="118.9" y="376.80" width="13.25" height="1.55" fill="#6068b8"/>
<rect x="132.1" y="376.80" width="13.25" height="1.55" fill="#8287cb"/>
<rect x="145.3" y="376.80" width="13.25" height="1.55" fill="#878ccd"/>
<rect x="158.5" y="376.80" width="13.25" height="1.55" fill="#868bcd"/>
<rect x="92.5" y="378.30" width="13.25" height="1.55" fill="#9297d3"/>
<rect x="105.7" y="378.30" width="13.25" height="1.55" fill="#8a8fcf"/>
<rect x="118.9" y="378.30" width="13.25" height="1.55" fill="#6970be"/>
<rect x="132.1" y="378.30" width="13.25" height="1.55" fill="#9297d3"/>
<rect x="145.3" y="378.30" width="13.25" height="1.55" fill="#989cd6"/>
<rect x="158.5" y="378.30" width="13.25" height="1.55" fill="#989cd6"/>
<rect x="92.5" y="379.80" width="13.25" height="1.60" fill="#6169b8"/>
<rect x="105.7" y="379.80" width="13.25" height="1.60" fill="#878cce"/>
<rect x="118.9" y="379.80" width="13.25" height="1.60" fill="#636bba"/>
<rect x="132.1" y="379.80" width="13.25" height="1.60" fill="#858acc"/>
<rect x="145.3" y="379.80" width="13.25" height="1.60" fill="#878ccd"/>
<rect x="158.5" y="379.80" width="13.25" height="1.60" fill="#b9bbe3"/>
<rect x="92.5" y="381.35" width="13.25" height="1.60" fill="#787ec6"/>
<rect x="105.7" y="381.35" width="13.25" height="1.60" fill="#a0a4d9"/>
<rect x="118.9" y="381.35" width="13.25" height="1.60" fill="#797fc7"/>
<rect x="132.1" y="381.35" width="13.25" height="1.60" fill="#999dd6"/>
<rect x="145.3" y="381.35" width="13.25" height="1.60" fill="#9da1d8"/>
<rect x="158.5" y="381.35" width="13.25" height="1.60" fill="#d1d1ec"/>
<rect x="92.5" y="382.90" width="13.25" height="1.60" fill="#9ca0d8"/>
<rect x="105.7" y="382.90" width="13.25" height="1.60" fill="#a7abdc"/>
<rect x="118.9" y="382.90" width="13.25" height="1.60" fill="#9ca0d8"/>
<rect x="132.1" y="382.90" width="13.25" height="1.60" fill="#d7d5ed"/>
<rect x="145.3" y="382.90" width="13.25" height="1.60" fill="#a7aadc"/>
<rect x="158.5" y="382.90" width="13.25" height="1.60" fill="#989cd6"/>
<rect x="92.5" y="384.45" width="13.25" height="1.60" fill="#9297d3"/>
<rect x="105.7" y="384.45" width="13.25" height="1.60" fill="#989cd6"/>
<rect x="118.9" y="384.45" width="13.25" height="1.60" fill="#9196d3"/>
<rect x="132.1" y="384.45" width="13.25" height="1.60" fill="#cfcfec"/>
<rect x="145.3" y="384.45" width="13.25" height="1.60" fill="#9a9ed7"/>
<rect x="158.5" y="384.45" width="13.25" height="1.60" fill="#989cd6"/>
<rect x="92.5" y="386.00" width="13.25" height="1.55" fill="#cccdeb"/>
<rect x="105.7" y="386.00" width="13.25" height="1.55" fill="#eae3f0"/>
<rect x="118.9" y="386.00" width="13.25" height="1.55" fill="#cccdeb"/>
<rect x="132.1" y="386.00" width="13.25" height="1.55" fill="#d5d4ec"/>
<rect x="145.3" y="386.00" width="13.25" height="1.55" fill="#979bd5"/>
<rect x="158.5" y="386.00" width="13.25" height="1.55" fill="#ceceeb"/>
<rect x="92.5" y="387.50" width="13.25" height="1.55" fill="#dad7ed"/>
<rect x="105.7" y="387.50" width="13.25" height="1.55" fill="#f5ebf2"/>
<rect x="118.9" y="387.50" width="13.25" height="1.55" fill="#dfdbee"/>
<rect x="132.1" y="387.50" width="13.25" height="1.55" fill="#dfdbee"/>
<rect x="145.3" y="387.50" width="13.25" height="1.55" fill="#b7b9e3"/>
<rect x="158.5" y="387.50" width="13.25" height="1.55" fill="#e7e1ef"/>
<rect x="92.5" y="389.00" width="13.25" height="1.35" fill="#cfcfeb"/>
<rect x="105.7" y="389.00" width="13.25" height="1.35" fill="#767cc5"/>
<rect x="118.9" y="389.00" width="13.25" height="1.35" fill="#7076c2"/>
<rect x="132.1" y="389.00" width="13.25" height="1.35" fill="#e8e2f0"/>
<rect x="145.3" y="389.00" width="13.25" height="1.35" fill="#e7e1f0"/>
<rect x="158.5" y="389.00" width="13.25" height="1.35" fill="#ece5f0"/>
<rect x="92.5" y="390.30" width="13.25" height="1.35" fill="#ddd9ee"/>
<rect x="105.7" y="390.30" width="13.25" height="1.35" fill="#8388cb"/>
<rect x="118.9" y="390.30" width="13.25" height="1.35" fill="#8085ca"/>
<rect x="132.1" y="390.30" width="13.25" height="1.35" fill="#f6e6ec"/>
<rect x="145.3" y="390.30" width="13.25" height="1.35" fill="#f6e7ed"/>
<rect x="158.5" y="390.30" width="13.25" height="1.35" fill="#f6ecf2"/>
<rect x="92.5" y="391.60" width="13.25" height="1.35" fill="#eee6f1"/>
<rect x="105.7" y="391.60" width="13.25" height="1.35" fill="#898ecf"/>
<rect x="118.9" y="391.60" width="13.25" height="1.35" fill="#8b90d0"/>
<rect x="132.1" y="391.60" width="13.25" height="1.35" fill="#f6e6ec"/>
<rect x="145.3" y="391.60" width="13.25" height="1.35" fill="#f6e7ed"/>
<rect x="158.5" y="391.60" width="13.25" height="1.35" fill="#f3eaf1"/>
<rect x="92.5" y="392.90" width="13.25" height="1.60" fill="#8085ca"/>
<rect x="105.7" y="392.90" width="13.25" height="1.60" fill="#7b80c7"/>
<rect x="118.9" y="392.90" width="13.25" height="1.60" fill="#7c81c8"/>
<rect x="132.1" y="392.90" width="13.25" height="1.60" fill="#d0d0ec"/>
<rect x="145.3" y="392.90" width="13.25" height="1.60" fill="#e0dbee"/>
<rect x="158.5" y="392.90" width="13.25" height="1.60" fill="#d0d0ec"/>
<rect x="92.5" y="394.45" width="13.25" height="1.60" fill="#878cce"/>
<rect x="105.7" y="394.45" width="13.25" height="1.60" fill="#888dce"/>
<rect x="118.9" y="394.45" width="13.25" height="1.60" fill="#868acd"/>
<rect x="132.1" y="394.45" width="13.25" height="1.60" fill="#ceceeb"/>
<rect x="145.3" y="394.45" width="13.25" height="1.60" fill="#dfdbee"/>
<rect x="158.5" y="394.45" width="13.25" height="1.60" fill="#d3d2ec"/>
<rect x="92.5" y="396.00" width="13.25" height="1.32" fill="#a1a5da"/>
<rect x="105.7" y="396.00" width="13.25" height="1.32" fill="#767cc5"/>
<rect x="118.9" y="396.00" width="13.25" height="1.32" fill="#767bc5"/>
<rect x="132.1" y="396.00" width="13.25" height="1.32" fill="#d7d5ed"/>
<rect x="145.3" y="396.00" width="13.25" height="1.32" fill="#eee6f1"/>
<rect x="158.5" y="396.00" width="13.25" height="1.32" fill="#d7d5ed"/>
<rect x="92.5" y="397.27" width="13.25" height="1.32" fill="#b3b6e1"/>
<rect x="105.7" y="397.27" width="13.25" height="1.32" fill="#8e92d1"/>
<rect x="118.9" y="397.27" width="13.25" height="1.32" fill="#7f84c9"/>
<rect x="132.1" y="397.27" width="13.25" height="1.32" fill="#e6e0ef"/>
<rect x="145.3" y="397.27" width="13.25" height="1.32" fill="#f6e6ec"/>
<rect x="158.5" y="397.27" width="13.25" height="1.32" fill="#e7e1ef"/>
<rect x="92.5" y="398.53" width="13.25" height="1.32" fill="#989cd6"/>
<rect x="105.7" y="398.53" width="13.25" height="1.32" fill="#7278c3"/>
<rect x="118.9" y="398.53" width="13.25" height="1.32" fill="#6b71bf"/>
<rect x="132.1" y="398.53" width="13.25" height="1.32" fill="#c4c5e8"/>
<rect x="145.3" y="398.53" width="13.25" height="1.32" fill="#d9d7ed"/>
<rect x="158.5" y="398.53" width="13.25" height="1.32" fill="#c0c1e6"/>
<rect x="92.5" y="399.80" width="13.25" height="1.60" fill="#d4d3ec"/>
<rect x="105.7" y="399.80" width="13.25" height="1.60" fill="#ece4f0"/>
<rect x="118.9" y="399.80" width="13.25" height="1.60" fill="#d3d2ec"/>
<rect x="132.1" y="399.80" width="13.25" height="1.60" fill="#f0e8f1"/>
<rect x="145.3" y="399.80" width="13.25" height="1.60" fill="#d4d3ec"/>
<rect x="158.5" y="399.80" width="13.25" height="1.60" fill="#d9d7ed"/>
<rect x="92.5" y="401.35" width="13.25" height="1.60" fill="#d0d0ec"/>
<rect x="105.7" y="401.35" width="13.25" height="1.60" fill="#eae3f0"/>
<rect x="118.9" y="401.35" width="13.25" height="1.60" fill="#ceceeb"/>
<rect x="132.1" y="401.35" width="13.25" height="1.60" fill="#f5ebf2"/>
<rect x="145.3" y="401.35" width="13.25" height="1.60" fill="#d6d4ed"/>
<rect x="158.5" y="401.35" width="13.25" height="1.60" fill="#d8d6ed"/>
<rect x="92.5" y="402.90" width="13.25" height="1.60" fill="#787ec6"/>
<rect x="105.7" y="402.90" width="13.25" height="1.60" fill="#d9d7ed"/>
<rect x="118.9" y="402.90" width="13.25" height="1.60" fill="#9fa2d9"/>
<rect x="132.1" y="402.90" width="13.25" height="1.60" fill="#cccdeb"/>
<rect x="145.3" y="402.90" width="13.25" height="1.60" fill="#9095d2"/>
<rect x="158.5" y="402.90" width="13.25" height="1.60" fill="#9c9fd7"/>
<rect x="92.5" y="404.45" width="13.25" height="1.60" fill="#7379c3"/>
<rect x="105.7" y="404.45" width="13.25" height="1.60" fill="#ceceeb"/>
<rect x="118.9" y="404.45" width="13.25" height="1.60" fill="#9a9ed7"/>
<rect x="132.1" y="404.45" width="13.25" height="1.60" fill="#d7d5ed"/>
<rect x="145.3" y="404.45" width="13.25" height="1.60" fill="#a8abdc"/>
<rect x="158.5" y="404.45" width="13.25" height="1.60" fill="#afb2df"/>
<rect x="92.5" y="406.00" width="13.25" height="1.60" fill="#e6e0ef"/>
<rect x="105.7" y="406.00" width="13.25" height="1.60" fill="#e6e0ef"/>
<rect x="118.9" y="406.00" width="13.25" height="1.60" fill="#8c91d0"/>
<rect x="132.1" y="406.00" width="13.25" height="1.60" fill="#d3d2ec"/>
<rect x="145.3" y="406.00" width="13.25" height="1.60" fill="#d2d2ec"/>
<rect x="158.5" y="406.00" width="13.25" height="1.60" fill="#d9d7ed"/>
<rect x="92.5" y="407.55" width="13.25" height="1.60" fill="#efe7f1"/>
<rect x="105.7" y="407.55" width="13.25" height="1.60" fill="#efe7f1"/>
<rect x="118.9" y="407.55" width="13.25" height="1.60" fill="#8a8fcf"/>
<rect x="132.1" y="407.55" width="13.25" height="1.60" fill="#bfc0e6"/>
<rect x="145.3" y="407.55" width="13.25" height="1.60" fill="#bec0e6"/>
<rect x="158.5" y="407.55" width="13.25" height="1.60" fill="#b8bae3"/>
<rect x="92.5" y="409.10" width="13.25" height="1.60" fill="#9498d4"/>
<rect x="105.7" y="409.10" width="13.25" height="1.60" fill="#c7c8e9"/>
<rect x="118.9" y="409.10" width="13.25" height="1.60" fill="#c7c8e9"/>
<rect x="132.1" y="409.10" width="13.25" height="1.60" fill="#e4dfef"/>
<rect x="145.3" y="409.10" width="13.25" height="1.60" fill="#e5e0ef"/>
<rect x="158.5" y="409.10" width="13.25" height="1.60" fill="#c7c8e9"/>
<rect x="92.5" y="410.65" width="13.25" height="1.60" fill="#a0a3d9"/>
<rect x="105.7" y="410.65" width="13.25" height="1.60" fill="#d7d5ed"/>
<rect x="118.9" y="410.65" width="13.25" height="1.60" fill="#d9d7ed"/>
<rect x="132.1" y="410.65" width="13.25" height="1.60" fill="#ede6f1"/>
<rect x="145.3" y="410.65" width="13.25" height="1.60" fill="#eee6f1"/>
<rect x="158.5" y="410.65" width="13.25" height="1.60" fill="#d1d1ec"/>
<rect x="92.5" y="412.20" width="13.25" height="1.55" fill="#e2deef"/>
<rect x="105.7" y="412.20" width="13.25" height="1.55" fill="#f0e8f1"/>
<rect x="118.9" y="412.20" width="13.25" height="1.55" fill="#ede6f1"/>
<rect x="132.1" y="412.20" width="13.25" height="1.55" fill="#e7e1ef"/>
<rect x="145.3" y="412.20" width="13.25" height="1.55" fill="#cdceeb"/>
<rect x="158.5" y="412.20" width="13.25" height="1.55" fill="#e9e2f0"/>
<rect x="92.5" y="413.70" width="13.25" height="1.55" fill="#e0dbee"/>
<rect x="105.7" y="413.70" width="13.25" height="1.55" fill="#ece4f0"/>
<rect x="118.9" y="413.70" width="13.25" height="1.55" fill="#efe7f1"/>
<rect x="132.1" y="413.70" width="13.25" height="1.55" fill="#e4dfef"/>
<rect x="145.3" y="413.70" width="13.25" height="1.55" fill="#c9cbea"/>
<rect x="158.5" y="413.70" width="13.25" height="1.55" fill="#e3deef"/>
<rect x="92.5" y="415.20" width="13.25" height="1.60" fill="#f6ebf1"/>
<rect x="105.7" y="415.20" width="13.25" height="1.60" fill="#efe7f1"/>
<rect x="118.9" y="415.20" width="13.25" height="1.60" fill="#f6e9ef"/>
<rect x="132.1" y="415.20" width="13.25" height="1.60" fill="#bfc1e6"/>
<rect x="145.3" y="415.20" width="13.25" height="1.60" fill="#c0c2e6"/>
<rect x="158.5" y="415.20" width="13.25" height="1.60" fill="#c4c5e8"/>
<rect x="92.5" y="416.75" width="13.25" height="1.60" fill="#dddaee"/>
<rect x="105.7" y="416.75" width="13.25" height="1.60" fill="#dedaee"/>
<rect x="118.9" y="416.75" width="13.25" height="1.60" fill="#dddaee"/>
<rect x="132.1" y="416.75" width="13.25" height="1.60" fill="#d0d0ec"/>
<rect x="145.3" y="416.75" width="13.25" height="1.60" fill="#d0d0ec"/>
<rect x="158.5" y="416.75" width="13.25" height="1.60" fill="#d2d2ec"/>
<rect x="92.5" y="418.30" width="13.25" height="1.22" fill="#d9d7ed"/>
<rect x="105.7" y="418.30" width="13.25" height="1.22" fill="#f3eaf2"/>
<rect x="118.9" y="418.30" width="13.25" height="1.22" fill="#e9e2f0"/>
<rect x="132.1" y="418.30" width="13.25" height="1.22" fill="#a3a6da"/>
<rect x="145.3" y="418.30" width="13.25" height="1.22" fill="#a8abdc"/>
<rect x="158.5" y="418.30" width="13.25" height="1.22" fill="#adb0df"/>
<rect x="92.5" y="419.48" width="13.25" height="1.22" fill="#caccea"/>
<rect x="105.7" y="419.48" width="13.25" height="1.22" fill="#e1dcee"/>
<rect x="118.9" y="419.48" width="13.25" height="1.22" fill="#e1ddef"/>
<rect x="132.1" y="419.48" width="13.25" height="1.22" fill="#9da1d8"/>
<rect x="145.3" y="419.48" width="13.25" height="1.22" fill="#9da1d8"/>
<rect x="158.5" y="419.48" width="13.25" height="1.22" fill="#9ca0d8"/>
<rect x="92.5" y="420.65" width="13.25" height="1.22" fill="#dcd9ee"/>
<rect x="105.7" y="420.65" width="13.25" height="1.22" fill="#f6ecf2"/>
<rect x="118.9" y="420.65" width="13.25" height="1.22" fill="#f3eaf2"/>
<rect x="132.1" y="420.65" width="13.25" height="1.22" fill="#a3a7db"/>
<rect x="145.3" y="420.65" width="13.25" height="1.22" fill="#9fa3d9"/>
<rect x="158.5" y="420.65" width="13.25" height="1.22" fill="#999dd7"/>
<rect x="92.5" y="421.82" width="13.25" height="1.22" fill="#d9d6ed"/>
<rect x="105.7" y="421.82" width="13.25" height="1.22" fill="#f6e8ee"/>
<rect x="118.9" y="421.82" width="13.25" height="1.22" fill="#f6ecf2"/>
<rect x="132.1" y="421.82" width="13.25" height="1.22" fill="#b1b3e0"/>
<rect x="145.3" y="421.82" width="13.25" height="1.22" fill="#afb2df"/>
<rect x="158.5" y="421.82" width="13.25" height="1.22" fill="#a9acdd"/>
<rect x="92.5" y="423.00" width="13.25" height="1.20" fill="#dad7ed"/>
<rect x="105.7" y="423.00" width="13.25" height="1.20" fill="#a9acdd"/>
<rect x="118.9" y="423.00" width="13.25" height="1.20" fill="#a8abdc"/>
<rect x="132.1" y="423.00" width="13.25" height="1.20" fill="#dddaee"/>
<rect x="145.3" y="423.00" width="13.25" height="1.20" fill="#dedbee"/>
<rect x="158.5" y="423.00" width="13.25" height="1.20" fill="#d7d5ed"/>
<rect x="92.5" y="424.15" width="13.25" height="1.20" fill="#d2d1ec"/>
<rect x="105.7" y="424.15" width="13.25" height="1.20" fill="#969ad5"/>
<rect x="118.9" y="424.15" width="13.25" height="1.20" fill="#979bd5"/>
<rect x="132.1" y="424.15" width="13.25" height="1.20" fill="#d2d1ec"/>
<rect x="145.3" y="424.15" width="13.25" height="1.20" fill="#d5d4ed"/>
<rect x="158.5" y="424.15" width="13.25" height="1.20" fill="#d8d6ed"/>
<rect x="92.5" y="425.30" width="13.25" height="1.20" fill="#9fa3d9"/>
<rect x="105.7" y="425.30" width="13.25" height="1.20" fill="#797ec6"/>
<rect x="118.9" y="425.30" width="13.25" height="1.20" fill="#787dc6"/>
<rect x="132.1" y="425.30" width="13.25" height="1.20" fill="#eae3f0"/>
<rect x="145.3" y="425.30" width="13.25" height="1.20" fill="#f6e2e8"/>
<rect x="158.5" y="425.30" width="13.25" height="1.20" fill="#f6ebf1"/>
<rect x="92.5" y="426.45" width="13.25" height="1.20" fill="#9195d2"/>
<rect x="105.7" y="426.45" width="13.25" height="1.20" fill="#6e74c1"/>
<rect x="118.9" y="426.45" width="13.25" height="1.20" fill="#6e75c1"/>
<rect x="132.1" y="426.45" width="13.25" height="1.20" fill="#dedaee"/>
<rect x="145.3" y="426.45" width="13.25" height="1.20" fill="#eae3f0"/>
<rect x="158.5" y="426.45" width="13.25" height="1.20" fill="#f2e9f1"/>
<rect x="92.5" y="427.60" width="13.25" height="1.20" fill="#8085ca"/>
<rect x="105.7" y="427.60" width="13.25" height="1.20" fill="#6068b8"/>
<rect x="118.9" y="427.60" width="13.25" height="1.20" fill="#6068b8"/>
<rect x="132.1" y="427.60" width="13.25" height="1.20" fill="#d1d1ec"/>
<rect x="145.3" y="427.60" width="13.25" height="1.20" fill="#e7e1ef"/>
<rect x="158.5" y="427.60" width="13.25" height="1.20" fill="#eae3f0"/>
<rect x="92.5" y="428.75" width="13.25" height="1.20" fill="#a0a4d9"/>
<rect x="105.7" y="428.75" width="13.25" height="1.20" fill="#7379c4"/>
<rect x="118.9" y="428.75" width="13.25" height="1.20" fill="#6f75c1"/>
<rect x="132.1" y="428.75" width="13.25" height="1.20" fill="#f6e7ec"/>
<rect x="145.3" y="428.75" width="13.25" height="1.20" fill="#f6e2e8"/>
<rect x="158.5" y="428.75" width="13.25" height="1.20" fill="#f6dde2"/>
<rect x="92.5" y="429.90" width="13.25" height="1.20" fill="#a9acdd"/>
<rect x="105.7" y="429.90" width="13.25" height="1.20" fill="#a5a8db"/>
<rect x="118.9" y="429.90" width="13.25" height="1.20" fill="#a2a5da"/>
<rect x="132.1" y="429.90" width="13.25" height="1.20" fill="#efe7f1"/>
<rect x="145.3" y="429.90" width="13.25" height="1.20" fill="#d0d0ec"/>
<rect x="158.5" y="429.90" width="13.25" height="1.20" fill="#d1d0ec"/>
<rect x="92.5" y="431.05" width="13.25" height="1.20" fill="#8b90d0"/>
<rect x="105.7" y="431.05" width="13.25" height="1.20" fill="#8b8fcf"/>
<rect x="118.9" y="431.05" width="13.25" height="1.20" fill="#8e92d1"/>
<rect x="132.1" y="431.05" width="13.25" height="1.20" fill="#dedaee"/>
<rect x="145.3" y="431.05" width="13.25" height="1.20" fill="#c7c8e9"/>
<rect x="158.5" y="431.05" width="13.25" height="1.20" fill="#c9caea"/>
<rect x="92.5" y="432.20" width="13.25" height="1.60" fill="#9297d3"/>
<rect x="105.7" y="432.20" width="13.25" height="1.60" fill="#6d73c0"/>
<rect x="118.9" y="432.20" width="13.25" height="1.60" fill="#6e74c1"/>
<rect x="132.1" y="432.20" width="13.25" height="1.60" fill="#bcbee5"/>
<rect x="145.3" y="432.20" width="13.25" height="1.60" fill="#b4b6e1"/>
<rect x="158.5" y="432.20" width="13.25" height="1.60" fill="#c6c7e9"/>
<rect x="92.5" y="433.75" width="13.25" height="1.60" fill="#9195d2"/>
<rect x="105.7" y="433.75" width="13.25" height="1.60" fill="#656dbb"/>
<rect x="118.9" y="433.75" width="13.25" height="1.60" fill="#6a71be"/>
<rect x="132.1" y="433.75" width="13.25" height="1.60" fill="#bbbde4"/>
<rect x="145.3" y="433.75" width="13.25" height="1.60" fill="#c4c6e8"/>
<rect x="158.5" y="433.75" width="13.25" height="1.60" fill="#c8c9e9"/>
<rect x="92.5" y="435.30" width="13.25" height="1.60" fill="#878cce"/>
<rect x="105.7" y="435.30" width="13.25" height="1.60" fill="#636bba"/>
<rect x="118.9" y="435.30" width="13.25" height="1.60" fill="#636bba"/>
<rect x="132.1" y="435.30" width="13.25" height="1.60" fill="#bbbde4"/>
<rect x="145.3" y="435.30" width="13.25" height="1.60" fill="#8c91d0"/>
<rect x="158.5" y="435.30" width="13.25" height="1.60" fill="#888dce"/>
<rect x="92.5" y="436.85" width="13.25" height="1.60" fill="#9da0d8"/>
<rect x="105.7" y="436.85" width="13.25" height="1.60" fill="#797fc7"/>
<rect x="118.9" y="436.85" width="13.25" height="1.60" fill="#757bc5"/>
<rect x="132.1" y="436.85" width="13.25" height="1.60" fill="#d2d2ec"/>
<rect x="145.3" y="436.85" width="13.25" height="1.60" fill="#9fa2d9"/>
<rect x="158.5" y="436.85" width="13.25" height="1.60" fill="#a3a6da"/>
<rect x="92.5" y="438.40" width="13.25" height="1.32" fill="#acafde"/>
<rect x="105.7" y="438.40" width="13.25" height="1.32" fill="#aaaddd"/>
<rect x="118.9" y="438.40" width="13.25" height="1.32" fill="#b0b2e0"/>
<rect x="132.1" y="438.40" width="13.25" height="1.32" fill="#d6d4ed"/>
<rect x="145.3" y="438.40" width="13.25" height="1.32" fill="#a7aadc"/>
<rect x="158.5" y="438.40" width="13.25" height="1.32" fill="#a4a7db"/>
<rect x="92.5" y="439.67" width="13.25" height="1.32" fill="#9095d2"/>
<rect x="105.7" y="439.67" width="13.25" height="1.32" fill="#9397d4"/>
<rect x="118.9" y="439.67" width="13.25" height="1.32" fill="#9297d3"/>
<rect x="132.1" y="439.67" width="13.25" height="1.32" fill="#c3c4e7"/>
<rect x="145.3" y="439.67" width="13.25" height="1.32" fill="#8e92d1"/>
<rect x="158.5" y="439.67" width="13.25" height="1.32" fill="#8a8fcf"/>
<rect x="92.5" y="440.93" width="13.25" height="1.32" fill="#a0a4d9"/>
<rect x="105.7" y="440.93" width="13.25" height="1.32" fill="#a5a8db"/>
<rect x="118.9" y="440.93" width="13.25" height="1.32" fill="#a7aadc"/>
<rect x="132.1" y="440.93" width="13.25" height="1.32" fill="#d5d4ec"/>
<rect x="145.3" y="440.93" width="13.25" height="1.32" fill="#9b9fd7"/>
<rect x="158.5" y="440.93" width="13.25" height="1.32" fill="#a8abdd"/>
<rect x="92.5" y="442.20" width="13.25" height="1.32" fill="#979bd6"/>
<rect x="105.7" y="442.20" width="13.25" height="1.32" fill="#9da1d8"/>
<rect x="118.9" y="442.20" width="13.25" height="1.32" fill="#787ec6"/>
<rect x="132.1" y="442.20" width="13.25" height="1.32" fill="#8187cb"/>
<rect x="145.3" y="442.20" width="13.25" height="1.32" fill="#b5b7e2"/>
<rect x="158.5" y="442.20" width="13.25" height="1.32" fill="#b3b5e1"/>
<rect x="92.5" y="443.47" width="13.25" height="1.32" fill="#9fa2d9"/>
<rect x="105.7" y="443.47" width="13.25" height="1.32" fill="#989cd6"/>
<rect x="118.9" y="443.47" width="13.25" height="1.32" fill="#787dc6"/>
<rect x="132.1" y="443.47" width="13.25" height="1.32" fill="#898ecf"/>
<rect x="145.3" y="443.47" width="13.25" height="1.32" fill="#b4b7e1"/>
<rect x="158.5" y="443.47" width="13.25" height="1.32" fill="#b7bae3"/>
<rect x="92.5" y="444.73" width="13.25" height="1.32" fill="#a7aadc"/>
<rect x="105.7" y="444.73" width="13.25" height="1.32" fill="#a6a9db"/>
<rect x="118.9" y="444.73" width="13.25" height="1.32" fill="#8489cc"/>
<rect x="132.1" y="444.73" width="13.25" height="1.32" fill="#aeb1df"/>
<rect x="145.3" y="444.73" width="13.25" height="1.32" fill="#e6e0ef"/>
<rect x="158.5" y="444.73" width="13.25" height="1.32" fill="#e4dfef"/>
<rect x="92.5" y="446.00" width="13.25" height="1.12" fill="#c6c7e9"/>
<rect x="105.7" y="446.00" width="13.25" height="1.12" fill="#cbcceb"/>
<rect x="118.9" y="446.00" width="13.25" height="1.12" fill="#9599d4"/>
<rect x="132.1" y="446.00" width="13.25" height="1.12" fill="#d4d3ec"/>
<rect x="145.3" y="446.00" width="13.25" height="1.12" fill="#aaaddd"/>
<rect x="158.5" y="446.00" width="13.25" height="1.12" fill="#dddaee"/>
<rect x="92.5" y="447.07" width="13.25" height="1.12" fill="#e7e1f0"/>
<rect x="105.7" y="447.07" width="13.25" height="1.12" fill="#e8e2f0"/>
<rect x="118.9" y="447.07" width="13.25" height="1.12" fill="#bcbee5"/>
<rect x="132.1" y="447.07" width="13.25" height="1.12" fill="#efe7f1"/>
<rect x="145.3" y="447.07" width="13.25" height="1.12" fill="#b9bbe3"/>
<rect x="158.5" y="447.07" width="13.25" height="1.12" fill="#ece5f0"/>
<rect x="92.5" y="448.13" width="13.25" height="1.12" fill="#c5c6e8"/>
<rect x="105.7" y="448.13" width="13.25" height="1.12" fill="#c1c3e7"/>
<rect x="118.9" y="448.13" width="13.25" height="1.12" fill="#969ad5"/>
<rect x="132.1" y="448.13" width="13.25" height="1.12" fill="#c6c8e9"/>
<rect x="145.3" y="448.13" width="13.25" height="1.12" fill="#9498d4"/>
<rect x="158.5" y="448.13" width="13.25" height="1.12" fill="#cdceeb"/>
<rect x="92.5" y="449.20" width="13.25" height="1.32" fill="#8d92d1"/>
<rect x="105.7" y="449.20" width="13.25" height="1.32" fill="#676fbd"/>
<rect x="118.9" y="449.20" width="13.25" height="1.32" fill="#8b8fcf"/>
<rect x="132.1" y="449.20" width="13.25" height="1.32" fill="#8489cc"/>
<rect x="145.3" y="449.20" width="13.25" height="1.32" fill="#b0b3e0"/>
<rect x="158.5" y="449.20" width="13.25" height="1.32" fill="#afb2df"/>
<rect x="92.5" y="450.47" width="13.25" height="1.32" fill="#9599d4"/>
<rect x="105.7" y="450.47" width="13.25" height="1.32" fill="#6c72bf"/>
<rect x="118.9" y="450.47" width="13.25" height="1.32" fill="#9498d4"/>
<rect x="132.1" y="450.47" width="13.25" height="1.32" fill="#8f94d2"/>
<rect x="145.3" y="450.47" width="13.25" height="1.32" fill="#c1c2e6"/>
<rect x="158.5" y="450.47" width="13.25" height="1.32" fill="#c8c9e9"/>
<rect x="92.5" y="451.73" width="13.25" height="1.32" fill="#898ece"/>
<rect x="105.7" y="451.73" width="13.25" height="1.32" fill="#676fbd"/>
<rect x="118.9" y="451.73" width="13.25" height="1.32" fill="#9195d2"/>
<rect x="132.1" y="451.73" width="13.25" height="1.32" fill="#878cce"/>
<rect x="145.3" y="451.73" width="13.25" height="1.32" fill="#bcbee5"/>
<rect x="158.5" y="451.73" width="13.25" height="1.32" fill="#bcbee5"/>
<rect x="92.5" y="453.00" width="13.25" height="1.60" fill="#afb2df"/>
<rect x="105.7" y="453.00" width="13.25" height="1.60" fill="#adb0de"/>
<rect x="118.9" y="453.00" width="13.25" height="1.60" fill="#afb2df"/>
<rect x="132.1" y="453.00" width="13.25" height="1.60" fill="#bcbee5"/>
<rect x="145.3" y="453.00" width="13.25" height="1.60" fill="#bdbfe5"/>
<rect x="158.5" y="453.00" width="13.25" height="1.60" fill="#bcbee4"/>
<rect x="92.5" y="454.55" width="13.25" height="1.60" fill="#c9caea"/>
<rect x="105.7" y="454.55" width="13.25" height="1.60" fill="#c9caea"/>
<rect x="118.9" y="454.55" width="13.25" height="1.60" fill="#c9caea"/>
<rect x="132.1" y="454.55" width="13.25" height="1.60" fill="#bbbde4"/>
<rect x="145.3" y="454.55" width="13.25" height="1.60" fill="#bdbee5"/>
<rect x="158.5" y="454.55" width="13.25" height="1.60" fill="#b9bbe3"/>
<rect x="92.5" y="456.10" width="13.25" height="1.32" fill="#9b9fd7"/>
<rect x="105.7" y="456.10" width="13.25" height="1.32" fill="#d8d6ed"/>
<rect x="118.9" y="456.10" width="13.25" height="1.32" fill="#c7c9e9"/>
<rect x="132.1" y="456.10" width="13.25" height="1.32" fill="#dddaee"/>
<rect x="145.3" y="456.10" width="13.25" height="1.32" fill="#f6cace"/>
<rect x="158.5" y="456.10" width="13.25" height="1.32" fill="#f6c5c9"/>
<rect x="92.5" y="457.37" width="13.25" height="1.32" fill="#7c82c8"/>
<rect x="105.7" y="457.37" width="13.25" height="1.32" fill="#a7aadc"/>
<rect x="118.9" y="457.37" width="13.25" height="1.32" fill="#abaede"/>
<rect x="132.1" y="457.37" width="13.25" height="1.32" fill="#b6b8e2"/>
<rect x="145.3" y="457.37" width="13.25" height="1.32" fill="#efe7f1"/>
<rect x="158.5" y="457.37" width="13.25" height="1.32" fill="#eee6f1"/>
<rect x="92.5" y="458.63" width="13.25" height="1.32" fill="#9397d4"/>
<rect x="105.7" y="458.63" width="13.25" height="1.32" fill="#cbcceb"/>
<rect x="118.9" y="458.63" width="13.25" height="1.32" fill="#c8caea"/>
<rect x="132.1" y="458.63" width="13.25" height="1.32" fill="#d0d0ec"/>
<rect x="145.3" y="458.63" width="13.25" height="1.32" fill="#f6dde3"/>
<rect x="158.5" y="458.63" width="13.25" height="1.32" fill="#f6dce1"/>
<rect x="92.5" y="459.90" width="13.25" height="1.60" fill="#f6d3d8"/>
<rect x="105.7" y="459.90" width="13.25" height="1.60" fill="#ede6f1"/>
<rect x="118.9" y="459.90" width="13.25" height="1.60" fill="#f1e8f1"/>
<rect x="132.1" y="459.90" width="13.25" height="1.60" fill="#f4b0b3"/>
<rect x="145.3" y="459.90" width="13.25" height="1.60" fill="#f4b3b6"/>
<rect x="158.5" y="459.90" width="13.25" height="1.60" fill="#f4abad"/>
<rect x="92.5" y="461.45" width="13.25" height="1.60" fill="#f4b4b7"/>
<rect x="105.7" y="461.45" width="13.25" height="1.60" fill="#f6d6db"/>
<rect x="118.9" y="461.45" width="13.25" height="1.60" fill="#f6d7dc"/>
<rect x="132.1" y="461.45" width="13.25" height="1.60" fill="#f2999b"/>
<rect x="145.3" y="461.45" width="13.25" height="1.60" fill="#f29c9f"/>
<rect x="158.5" y="461.45" width="13.25" height="1.60" fill="#f2999b"/>
<rect x="92.5" y="463.00" width="13.25" height="1.29" fill="#f6c7cb"/>
<rect x="105.7" y="463.00" width="13.25" height="1.29" fill="#979bd6"/>
<rect x="118.9" y="463.00" width="13.25" height="1.29" fill="#9b9fd7"/>
<rect x="132.1" y="463.00" width="13.25" height="1.29" fill="#f4b1b4"/>
<rect x="145.3" y="463.00" width="13.25" height="1.29" fill="#f4b5b8"/>
<rect x="158.5" y="463.00" width="13.25" height="1.29" fill="#f5b8bb"/>
<rect x="92.5" y="464.24" width="13.25" height="1.29" fill="#f6dfe4"/>
<rect x="105.7" y="464.24" width="13.25" height="1.29" fill="#7c82c8"/>
<rect x="118.9" y="464.24" width="13.25" height="1.29" fill="#7b81c8"/>
<rect x="132.1" y="464.24" width="13.25" height="1.29" fill="#f5bec1"/>
<rect x="145.3" y="464.24" width="13.25" height="1.29" fill="#f5c1c5"/>
<rect x="158.5" y="464.24" width="13.25" height="1.29" fill="#f6c2c6"/>
<rect x="92.5" y="465.48" width="13.25" height="1.29" fill="#e3deef"/>
<rect x="105.7" y="465.48" width="13.25" height="1.29" fill="#6068b8"/>
<rect x="118.9" y="465.48" width="13.25" height="1.29" fill="#6269b9"/>
<rect x="132.1" y="465.48" width="13.25" height="1.29" fill="#f6dbe0"/>
<rect x="145.3" y="465.48" width="13.25" height="1.29" fill="#f6dbe0"/>
<rect x="158.5" y="465.48" width="13.25" height="1.29" fill="#f6dfe4"/>
<rect x="92.5" y="466.72" width="13.25" height="1.29" fill="#f6e8ee"/>
<rect x="105.7" y="466.72" width="13.25" height="1.29" fill="#7076c2"/>
<rect x="118.9" y="466.72" width="13.25" height="1.29" fill="#7076c2"/>
<rect x="132.1" y="466.72" width="13.25" height="1.29" fill="#f6c8cc"/>
<rect x="145.3" y="466.72" width="13.25" height="1.29" fill="#f6c6ca"/>
<rect x="158.5" y="466.72" width="13.25" height="1.29" fill="#f6c7cb"/>
<rect x="92.5" y="467.96" width="13.25" height="1.29" fill="#f6e2e8"/>
<rect x="105.7" y="467.96" width="13.25" height="1.29" fill="#797fc7"/>
<rect x="118.9" y="467.96" width="13.25" height="1.29" fill="#787dc6"/>
<rect x="132.1" y="467.96" width="13.25" height="1.29" fill="#f6c9cd"/>
<rect x="145.3" y="467.96" width="13.25" height="1.29" fill="#f6c9cd"/>
<rect x="158.5" y="467.96" width="13.25" height="1.29" fill="#f6ced2"/>
<rect x="92.5" y="469.20" width="13.25" height="1.55" fill="#f6ecf2"/>
<rect x="105.7" y="469.20" width="13.25" height="1.55" fill="#f6dadf"/>
<rect x="118.9" y="469.20" width="13.25" height="1.55" fill="#f6e1e7"/>
<rect x="132.1" y="469.20" width="13.25" height="1.55" fill="#f6c8cc"/>
<rect x="145.3" y="469.20" width="13.25" height="1.55" fill="#ede5f1"/>
<rect x="158.5" y="469.20" width="13.25" height="1.55" fill="#f6e7ed"/>
<rect x="92.5" y="470.70" width="13.25" height="1.55" fill="#d6d4ed"/>
<rect x="105.7" y="470.70" width="13.25" height="1.55" fill="#e8e2f0"/>
<rect x="118.9" y="470.70" width="13.25" height="1.55" fill="#f0e8f1"/>
<rect x="132.1" y="470.70" width="13.25" height="1.55" fill="#f6d8dd"/>
<rect x="145.3" y="470.70" width="13.25" height="1.55" fill="#dedaee"/>
<rect x="158.5" y="470.70" width="13.25" height="1.55" fill="#ede6f1"/>
<rect x="92.5" y="472.20" width="13.25" height="1.35" fill="#d0d0ec"/>
<rect x="105.7" y="472.20" width="13.25" height="1.35" fill="#d4d3ec"/>
<rect x="118.9" y="472.20" width="13.25" height="1.35" fill="#d1d0ec"/>
<rect x="132.1" y="472.20" width="13.25" height="1.35" fill="#f6dfe5"/>
<rect x="145.3" y="472.20" width="13.25" height="1.35" fill="#f6dee4"/>
<rect x="158.5" y="472.20" width="13.25" height="1.35" fill="#f1e8f1"/>
<rect x="92.5" y="473.50" width="13.25" height="1.35" fill="#d7d5ed"/>
<rect x="105.7" y="473.50" width="13.25" height="1.35" fill="#dbd8ee"/>
<rect x="118.9" y="473.50" width="13.25" height="1.35" fill="#dcd9ee"/>
<rect x="132.1" y="473.50" width="13.25" height="1.35" fill="#f6eaef"/>
<rect x="145.3" y="473.50" width="13.25" height="1.35" fill="#f6e6ec"/>
<rect x="158.5" y="473.50" width="13.25" height="1.35" fill="#eee6f1"/>
<rect x="92.5" y="474.80" width="13.25" height="1.35" fill="#d3d2ec"/>
<rect x="105.7" y="474.80" width="13.25" height="1.35" fill="#dfdbee"/>
<rect x="118.9" y="474.80" width="13.25" height="1.35" fill="#d8d6ed"/>
<rect x="132.1" y="474.80" width="13.25" height="1.35" fill="#f6e7ed"/>
<rect x="145.3" y="474.80" width="13.25" height="1.35" fill="#f6e4e9"/>
<rect x="158.5" y="474.80" width="13.25" height="1.35" fill="#e9e3f0"/>
<rect x="92.5" y="476.10" width="13.25" height="1.35" fill="#d2d1ec"/>
<rect x="105.7" y="476.10" width="13.25" height="1.35" fill="#d3d2ec"/>
<rect x="118.9" y="476.10" width="13.25" height="1.35" fill="#cfcfec"/>
<rect x="132.1" y="476.10" width="13.25" height="1.35" fill="#ede5f0"/>
<rect x="145.3" y="476.10" width="13.25" height="1.35" fill="#d2d1ec"/>
<rect x="158.5" y="476.10" width="13.25" height="1.35" fill="#eee6f1"/>
<rect x="92.5" y="477.40" width="13.25" height="1.35" fill="#b9bbe3"/>
<rect x="105.7" y="477.40" width="13.25" height="1.35" fill="#bcbee5"/>
<rect x="118.9" y="477.40" width="13.25" height="1.35" fill="#b6b8e2"/>
<rect x="132.1" y="477.40" width="13.25" height="1.35" fill="#e0dbee"/>
<rect x="145.3" y="477.40" width="13.25" height="1.35" fill="#c4c6e8"/>
<rect x="158.5" y="477.40" width="13.25" height="1.35" fill="#dad7ed"/>
<rect x="92.5" y="478.70" width="13.25" height="1.35" fill="#cfcfeb"/>
<rect x="105.7" y="478.70" width="13.25" height="1.35" fill="#d1d1ec"/>
<rect x="118.9" y="478.70" width="13.25" height="1.35" fill="#cfcfeb"/>
<rect x="132.1" y="478.70" width="13.25" height="1.35" fill="#d8d6ed"/>
<rect x="145.3" y="478.70" width="13.25" height="1.35" fill="#babce4"/>
<rect x="158.5" y="478.70" width="13.25" height="1.35" fill="#dad7ed"/>
<rect x="92.5" y="480.00" width="13.25" height="1.85" fill="#f6cbcf"/>
<rect x="105.7" y="480.00" width="13.25" height="1.85" fill="#c2c3e7"/>
<rect x="118.9" y="480.00" width="13.25" height="1.85" fill="#c2c3e7"/>
<rect x="132.1" y="480.00" width="13.25" height="1.85" fill="#b0b3e0"/>
<rect x="145.3" y="480.00" width="13.25" height="1.85" fill="#b2b5e1"/>
<rect x="158.5" y="480.00" width="13.25" height="1.85" fill="#bcbee4"/>
<rect x="92.5" y="481.80" width="13.25" height="1.15" fill="#f6c4c8"/>
<rect x="105.7" y="481.80" width="13.25" height="1.15" fill="#f6dbe0"/>
<rect x="118.9" y="481.80" width="13.25" height="1.15" fill="#f6dfe4"/>
<rect x="132.1" y="481.80" width="13.25" height="1.15" fill="#efe7f1"/>
<rect x="145.3" y="481.80" width="13.25" height="1.15" fill="#f6d1d5"/>
<rect x="158.5" y="481.80" width="13.25" height="1.15" fill="#f6cfd3"/>
<rect x="92.5" y="482.90" width="13.25" height="1.15" fill="#f3a2a4"/>
<rect x="105.7" y="482.90" width="13.25" height="1.15" fill="#f5babe"/>
<rect x="118.9" y="482.90" width="13.25" height="1.15" fill="#f5bcbf"/>
<rect x="132.1" y="482.90" width="13.25" height="1.15" fill="#f6dfe5"/>
<rect x="145.3" y="482.90" width="13.25" height="1.15" fill="#f5c1c5"/>
<rect x="158.5" y="482.90" width="13.25" height="1.15" fill="#f5c2c6"/>
<rect x="92.5" y="484.00" width="13.25" height="1.15" fill="#f5bdc0"/>
<rect x="105.7" y="484.00" width="13.25" height="1.15" fill="#f6dde2"/>
<rect x="118.9" y="484.00" width="13.25" height="1.15" fill="#f6d5d9"/>
<rect x="132.1" y="484.00" width="13.25" height="1.15" fill="#f1e8f1"/>
<rect x="145.3" y="484.00" width="13.25" height="1.15" fill="#f6cace"/>
<rect x="158.5" y="484.00" width="13.25" height="1.15" fill="#f6ccd0"/>
<rect x="92.5" y="485.10" width="13.25" height="1.15" fill="#f5b7ba"/>
<rect x="105.7" y="485.10" width="13.25" height="1.15" fill="#f6d0d5"/>
<rect x="118.9" y="485.10" width="13.25" height="1.15" fill="#f6dadf"/>
<rect x="132.1" y="485.10" width="13.25" height="1.15" fill="#e5dfef"/>
<rect x="145.3" y="485.10" width="13.25" height="1.15" fill="#f6dde2"/>
<rect x="158.5" y="485.10" width="13.25" height="1.15" fill="#f6dde2"/>
<rect x="92.5" y="486.20" width="13.25" height="1.55" fill="#f4afb2"/>
<rect x="105.7" y="486.20" width="13.25" height="1.55" fill="#f6ebf1"/>
<rect x="118.9" y="486.20" width="13.25" height="1.55" fill="#f6e8ee"/>
<rect x="132.1" y="486.20" width="13.25" height="1.55" fill="#f6c2c6"/>
<rect x="145.3" y="486.20" width="13.25" height="1.55" fill="#f3a6a8"/>
<rect x="158.5" y="486.20" width="13.25" height="1.55" fill="#f3a7a9"/>
<rect x="92.5" y="487.70" width="13.25" height="1.55" fill="#f4b6b9"/>
<rect x="105.7" y="487.70" width="13.25" height="1.55" fill="#efe7f1"/>
<rect x="118.9" y="487.70" width="13.25" height="1.55" fill="#ede5f1"/>
<rect x="132.1" y="487.70" width="13.25" height="1.55" fill="#f6d0d5"/>
<rect x="145.3" y="487.70" width="13.25" height="1.55" fill="#f5babd"/>
<rect x="158.5" y="487.70" width="13.25" height="1.55" fill="#f4b6b9"/>
<rect x="92.5" y="489.20" width="13.25" height="1.20" fill="#f3a0a2"/>
<rect x="105.7" y="489.20" width="13.25" height="1.20" fill="#f6c4c8"/>
<rect x="118.9" y="489.20" width="13.25" height="1.20" fill="#f5bec1"/>
<rect x="132.1" y="489.20" width="13.25" height="1.20" fill="#f3a6a8"/>
<rect x="145.3" y="489.20" width="13.25" height="1.20" fill="#ee6f73"/>
<rect x="158.5" y="489.20" width="13.25" height="1.20" fill="#ee7579"/>
<rect x="92.5" y="490.35" width="13.25" height="1.20" fill="#f3a5a7"/>
<rect x="105.7" y="490.35" width="13.25" height="1.20" fill="#f5c1c4"/>
<rect x="118.9" y="490.35" width="13.25" height="1.20" fill="#f6c2c6"/>
<rect x="132.1" y="490.35" width="13.25" height="1.20" fill="#f3a0a2"/>
<rect x="145.3" y="490.35" width="13.25" height="1.20" fill="#ed6d71"/>
<rect x="158.5" y="490.35" width="13.25" height="1.20" fill="#ee6f73"/>
<rect x="92.5" y="491.50" width="13.25" height="1.20" fill="#f5b8bb"/>
<rect x="105.7" y="491.50" width="13.25" height="1.20" fill="#f6d8dd"/>
<rect x="118.9" y="491.50" width="13.25" height="1.20" fill="#f6dde3"/>
<rect x="132.1" y="491.50" width="13.25" height="1.20" fill="#f4abad"/>
<rect x="145.3" y="491.50" width="13.25" height="1.20" fill="#ef7c80"/>
<rect x="158.5" y="491.50" width="13.25" height="1.20" fill="#f08588"/>
<rect x="92.5" y="492.65" width="13.25" height="1.20" fill="#f19395"/>
<rect x="105.7" y="492.65" width="13.25" height="1.20" fill="#f5bcc0"/>
<rect x="118.9" y="492.65" width="13.25" height="1.20" fill="#f5babd"/>
<rect x="132.1" y="492.65" width="13.25" height="1.20" fill="#f3a3a5"/>
<rect x="145.3" y="492.65" width="13.25" height="1.20" fill="#ed6c71"/>
<rect x="158.5" y="492.65" width="13.25" height="1.20" fill="#ed6d71"/>
<rect x="92.5" y="493.80" width="13.25" height="1.22" fill="#f2979a"/>
<rect x="105.7" y="493.80" width="13.25" height="1.22" fill="#f5bbbe"/>
<rect x="118.9" y="493.80" width="13.25" height="1.22" fill="#f5b8bb"/>
<rect x="132.1" y="493.80" width="13.25" height="1.22" fill="#f3a4a6"/>
<rect x="145.3" y="493.80" width="13.25" height="1.22" fill="#ee7074"/>
<rect x="158.5" y="493.80" width="13.25" height="1.22" fill="#f3a0a2"/>
<rect x="92.5" y="494.98" width="13.25" height="1.22" fill="#f4b1b4"/>
<rect x="105.7" y="494.98" width="13.25" height="1.22" fill="#f6cdd1"/>
<rect x="118.9" y="494.98" width="13.25" height="1.22" fill="#f6cbd0"/>
<rect x="132.1" y="494.98" width="13.25" height="1.22" fill="#f4afb1"/>
<rect x="145.3" y="494.98" width="13.25" height="1.22" fill="#f0888b"/>
<rect x="158.5" y="494.98" width="13.25" height="1.22" fill="#f3a8ab"/>
<rect x="92.5" y="496.15" width="13.25" height="1.22" fill="#f4acaf"/>
<rect x="105.7" y="496.15" width="13.25" height="1.22" fill="#f6c5c9"/>
<rect x="118.9" y="496.15" width="13.25" height="1.22" fill="#f6c4c8"/>
<rect x="132.1" y="496.15" width="13.25" height="1.22" fill="#f5b7ba"/>
<rect x="145.3" y="496.15" width="13.25" height="1.22" fill="#f18b8e"/>
<rect x="158.5" y="496.15" width="13.25" height="1.22" fill="#f4b2b5"/>
<rect x="92.5" y="497.32" width="13.25" height="1.22" fill="#f3a6a8"/>
<rect x="105.7" y="497.32" width="13.25" height="1.22" fill="#f5bec1"/>
<rect x="118.9" y="497.32" width="13.25" height="1.22" fill="#f5bcc0"/>
<rect x="132.1" y="497.32" width="13.25" height="1.22" fill="#f29fa1"/>
<rect x="145.3" y="497.32" width="13.25" height="1.22" fill="#ec6a6e"/>
<rect x="158.5" y="497.32" width="13.25" height="1.22" fill="#f29698"/>
<rect x="92.5" y="498.50" width="13.25" height="1.18" fill="#f4abad"/>
<rect x="105.7" y="498.50" width="13.25" height="1.18" fill="#f6c6ca"/>
<rect x="118.9" y="498.50" width="13.25" height="1.18" fill="#f6cace"/>
<rect x="132.1" y="498.50" width="13.25" height="1.18" fill="#f4b2b5"/>
<rect x="145.3" y="498.50" width="13.25" height="1.18" fill="#f4b1b4"/>
<rect x="158.5" y="498.50" width="13.25" height="1.18" fill="#f4b3b6"/>
<rect x="92.5" y="499.62" width="13.25" height="1.18" fill="#f3a9ab"/>
<rect x="105.7" y="499.62" width="13.25" height="1.18" fill="#f6c6ca"/>
<rect x="118.9" y="499.62" width="13.25" height="1.18" fill="#f6c4c7"/>
<rect x="132.1" y="499.62" width="13.25" height="1.18" fill="#f29a9d"/>
<rect x="145.3" y="499.62" width="13.25" height="1.18" fill="#f19193"/>
<rect x="158.5" y="499.62" width="13.25" height="1.18" fill="#f19396"/>
<rect x="92.5" y="500.75" width="13.25" height="1.18" fill="#f29b9e"/>
<rect x="105.7" y="500.75" width="13.25" height="1.18" fill="#f5c0c4"/>
<rect x="118.9" y="500.75" width="13.25" height="1.18" fill="#f5c0c4"/>
<rect x="132.1" y="500.75" width="13.25" height="1.18" fill="#f4abad"/>
<rect x="145.3" y="500.75" width="13.25" height="1.18" fill="#f3a8aa"/>
<rect x="158.5" y="500.75" width="13.25" height="1.18" fill="#f4aaad"/>
<rect x="92.5" y="501.88" width="13.25" height="1.18" fill="#f4abad"/>
<rect x="105.7" y="501.88" width="13.25" height="1.18" fill="#f6ccd0"/>
<rect x="118.9" y="501.88" width="13.25" height="1.18" fill="#f6c5c9"/>
<rect x="132.1" y="501.88" width="13.25" height="1.18" fill="#f4b0b2"/>
<rect x="145.3" y="501.88" width="13.25" height="1.18" fill="#f4afb1"/>
<rect x="158.5" y="501.88" width="13.25" height="1.18" fill="#f4afb1"/>
<rect x="92.5" y="503.00" width="13.25" height="1.22" fill="#f3a4a6"/>
<rect x="105.7" y="503.00" width="13.25" height="1.22" fill="#f6d9de"/>
<rect x="118.9" y="503.00" width="13.25" height="1.22" fill="#f5babd"/>
<rect x="132.1" y="503.00" width="13.25" height="1.22" fill="#f08285"/>
<rect x="145.3" y="503.00" width="13.25" height="1.22" fill="#ef7f82"/>
<rect x="158.5" y="503.00" width="13.25" height="1.22" fill="#f4abad"/>
<rect x="92.5" y="504.18" width="13.25" height="1.22" fill="#f4b3b6"/>
<rect x="105.7" y="504.18" width="13.25" height="1.22" fill="#f6e8ee"/>
<rect x="118.9" y="504.18" width="13.25" height="1.22" fill="#f6ced3"/>
<rect x="132.1" y="504.18" width="13.25" height="1.22" fill="#ef7d81"/>
<rect x="145.3" y="504.18" width="13.25" height="1.22" fill="#ef7b7f"/>
<rect x="158.5" y="504.18" width="13.25" height="1.22" fill="#f3a9ab"/>
<rect x="92.5" y="505.35" width="13.25" height="1.22" fill="#f4abae"/>
<rect x="105.7" y="505.35" width="13.25" height="1.22" fill="#f6e7ed"/>
<rect x="118.9" y="505.35" width="13.25" height="1.22" fill="#f6cace"/>
<rect x="132.1" y="505.35" width="13.25" height="1.22" fill="#f29c9e"/>
<rect x="145.3" y="505.35" width="13.25" height="1.22" fill="#f29c9e"/>
<rect x="158.5" y="505.35" width="13.25" height="1.22" fill="#f5c0c3"/>
<rect x="92.5" y="506.52" width="13.25" height="1.22" fill="#f4afb2"/>
<rect x="105.7" y="506.52" width="13.25" height="1.22" fill="#f6ecf2"/>
<rect x="118.9" y="506.52" width="13.25" height="1.22" fill="#f6d0d4"/>
<rect x="132.1" y="506.52" width="13.25" height="1.22" fill="#ee7377"/>
<rect x="145.3" y="506.52" width="13.25" height="1.22" fill="#ef777b"/>
<rect x="158.5" y="506.52" width="13.25" height="1.22" fill="#f3a9ab"/>
<rect x="92.5" y="507.70" width="13.25" height="1.20" fill="#f6e4ea"/>
<rect x="105.7" y="507.70" width="13.25" height="1.20" fill="#f6e7ed"/>
<rect x="118.9" y="507.70" width="13.25" height="1.20" fill="#f6e5eb"/>
<rect x="132.1" y="507.70" width="13.25" height="1.20" fill="#f5c1c4"/>
<rect x="145.3" y="507.70" width="13.25" height="1.20" fill="#f3a5a7"/>
<rect x="158.5" y="507.70" width="13.25" height="1.20" fill="#f39fa1"/>
<rect x="92.5" y="508.85" width="13.25" height="1.20" fill="#f6cdd1"/>
<rect x="105.7" y="508.85" width="13.25" height="1.20" fill="#f6d0d4"/>
<rect x="118.9" y="508.85" width="13.25" height="1.20" fill="#f6ccd0"/>
<rect x="132.1" y="508.85" width="13.25" height="1.20" fill="#f3a6a9"/>
<rect x="145.3" y="508.85" width="13.25" height="1.20" fill="#ef7d80"/>
<rect x="158.5" y="508.85" width="13.25" height="1.20" fill="#ee6f73"/>
<rect x="92.5" y="510.00" width="13.25" height="1.20" fill="#f6c3c7"/>
<rect x="105.7" y="510.00" width="13.25" height="1.20" fill="#f5bdc0"/>
<rect x="118.9" y="510.00" width="13.25" height="1.20" fill="#f5babd"/>
<rect x="132.1" y="510.00" width="13.25" height="1.20" fill="#f39fa1"/>
<rect x="145.3" y="510.00" width="13.25" height="1.20" fill="#ee6f73"/>
<rect x="158.5" y="510.00" width="13.25" height="1.20" fill="#ee7074"/>
<rect x="92.5" y="511.15" width="13.25" height="1.20" fill="#f5bbbe"/>
<rect x="105.7" y="511.15" width="13.25" height="1.20" fill="#f5bfc3"/>
<rect x="118.9" y="511.15" width="13.25" height="1.20" fill="#f5b9bc"/>
<rect x="132.1" y="511.15" width="13.25" height="1.20" fill="#f3a5a7"/>
<rect x="145.3" y="511.15" width="13.25" height="1.20" fill="#ef787b"/>
<rect x="158.5" y="511.15" width="13.25" height="1.20" fill="#ee7276"/>
<rect x="92.5" y="512.30" width="13.25" height="1.23" fill="#f3a4a6"/>
<rect x="105.7" y="512.30" width="13.25" height="1.23" fill="#f6dbe0"/>
<rect x="118.9" y="512.30" width="13.25" height="1.23" fill="#f6c3c7"/>
<rect x="132.1" y="512.30" width="13.25" height="1.23" fill="#ed6c71"/>
<rect x="145.3" y="512.30" width="13.25" height="1.23" fill="#f2999c"/>
<rect x="158.5" y="512.30" width="13.25" height="1.23" fill="#f29c9f"/>
<rect x="92.5" y="513.47" width="13.25" height="1.23" fill="#f6c3c7"/>
<rect x="105.7" y="513.47" width="13.25" height="1.23" fill="#e1dcee"/>
<rect x="118.9" y="513.47" width="13.25" height="1.23" fill="#f6d9de"/>
<rect x="132.1" y="513.47" width="13.25" height="1.23" fill="#f29b9e"/>
<rect x="145.3" y="513.47" width="13.25" height="1.23" fill="#f5bfc3"/>
<rect x="158.5" y="513.47" width="13.25" height="1.23" fill="#f6c7ca"/>
<rect x="92.5" y="514.65" width="13.25" height="1.23" fill="#f5b8bb"/>
<rect x="105.7" y="514.65" width="13.25" height="1.23" fill="#eee6f1"/>
<rect x="118.9" y="514.65" width="13.25" height="1.23" fill="#f6d2d7"/>
<rect x="132.1" y="514.65" width="13.25" height="1.23" fill="#f29698"/>
<rect x="145.3" y="514.65" width="13.25" height="1.23" fill="#f5bec1"/>
<rect x="158.5" y="514.65" width="13.25" height="1.23" fill="#f5bec1"/>
<rect x="92.5" y="515.83" width="13.25" height="1.23" fill="#f4abae"/>
<rect x="105.7" y="515.83" width="13.25" height="1.23" fill="#f6e3e8"/>
<rect x="118.9" y="515.83" width="13.25" height="1.23" fill="#f6c9cd"/>
<rect x="132.1" y="515.83" width="13.25" height="1.23" fill="#ef7b7e"/>
<rect x="145.3" y="515.83" width="13.25" height="1.23" fill="#f4abad"/>
<rect x="158.5" y="515.83" width="13.25" height="1.23" fill="#f3a7a9"/>
<rect x="92.5" y="517.00" width="13.25" height="1.32" fill="#f5bbbe"/>
<rect x="105.7" y="517.00" width="13.25" height="1.32" fill="#f5bcbf"/>
<rect x="118.9" y="517.00" width="13.25" height="1.32" fill="#f4b4b7"/>
<rect x="132.1" y="517.00" width="13.25" height="1.32" fill="#f6d9de"/>
<rect x="145.3" y="517.00" width="13.25" height="1.32" fill="#f5bfc3"/>
<rect x="158.5" y="517.00" width="13.25" height="1.32" fill="#f5bdc0"/>
<rect x="92.5" y="518.27" width="13.25" height="1.32" fill="#f4afb1"/>
<rect x="105.7" y="518.27" width="13.25" height="1.32" fill="#f4b3b6"/>
<rect x="118.9" y="518.27" width="13.25" height="1.32" fill="#f4b3b6"/>
<rect x="132.1" y="518.27" width="13.25" height="1.32" fill="#f6c8cc"/>
<rect x="145.3" y="518.27" width="13.25" height="1.32" fill="#f4adb0"/>
<rect x="158.5" y="518.27" width="13.25" height="1.32" fill="#f4aeb0"/>
<rect x="92.5" y="519.53" width="13.25" height="1.32" fill="#f3a8aa"/>
<rect x="105.7" y="519.53" width="13.25" height="1.32" fill="#f3a3a5"/>
<rect x="118.9" y="519.53" width="13.25" height="1.32" fill="#f3a9ab"/>
<rect x="132.1" y="519.53" width="13.25" height="1.32" fill="#f5c0c4"/>
<rect x="145.3" y="519.53" width="13.25" height="1.32" fill="#f4aaad"/>
<rect x="158.5" y="519.53" width="13.25" height="1.32" fill="#f3a4a6"/>
<rect x="92.5" y="520.80" width="13.25" height="1.32" fill="#f3a5a8"/>
<rect x="105.7" y="520.80" width="13.25" height="1.32" fill="#ef777b"/>
<rect x="118.9" y="520.80" width="13.25" height="1.32" fill="#f3a8aa"/>
<rect x="132.1" y="520.80" width="13.25" height="1.32" fill="#f29b9e"/>
<rect x="145.3" y="520.80" width="13.25" height="1.32" fill="#f19194"/>
<rect x="158.5" y="520.80" width="13.25" height="1.32" fill="#f18d90"/>
<rect x="92.5" y="522.07" width="13.25" height="1.32" fill="#f6c7cb"/>
<rect x="105.7" y="522.07" width="13.25" height="1.32" fill="#f29d9f"/>
<rect x="118.9" y="522.07" width="13.25" height="1.32" fill="#f6c4c8"/>
<rect x="132.1" y="522.07" width="13.25" height="1.32" fill="#f5c2c5"/>
<rect x="145.3" y="522.07" width="13.25" height="1.32" fill="#f5c0c4"/>
<rect x="158.5" y="522.07" width="13.25" height="1.32" fill="#f6c3c6"/>
<rect x="92.5" y="523.33" width="13.25" height="1.32" fill="#f4b1b4"/>
<rect x="105.7" y="523.33" width="13.25" height="1.32" fill="#f18e91"/>
<rect x="118.9" y="523.33" width="13.25" height="1.32" fill="#f4b1b4"/>
<rect x="132.1" y="523.33" width="13.25" height="1.32" fill="#f5babe"/>
<rect x="145.3" y="523.33" width="13.25" height="1.32" fill="#f4b4b6"/>
<rect x="158.5" y="523.33" width="13.25" height="1.32" fill="#f5b9bc"/>
<rect x="92.5" y="524.60" width="13.25" height="1.60" fill="#e7e1ef"/>
<rect x="105.7" y="524.60" width="13.25" height="1.60" fill="#e4dfef"/>
<rect x="118.9" y="524.60" width="13.25" height="1.60" fill="#e7e1f0"/>
<rect x="132.1" y="524.60" width="13.25" height="1.60" fill="#f5b7ba"/>
<rect x="145.3" y="524.60" width="13.25" height="1.60" fill="#f19396"/>
<rect x="158.5" y="524.60" width="13.25" height="1.60" fill="#f5bbbe"/>
<rect x="92.5" y="526.15" width="13.25" height="1.60" fill="#f4eaf2"/>
<rect x="105.7" y="526.15" width="13.25" height="1.60" fill="#f0e7f1"/>
<rect x="118.9" y="526.15" width="13.25" height="1.60" fill="#ece5f0"/>
<rect x="132.1" y="526.15" width="13.25" height="1.60" fill="#f5bbbe"/>
<rect x="145.3" y="526.15" width="13.25" height="1.60" fill="#f3a5a7"/>
<rect x="158.5" y="526.15" width="13.25" height="1.60" fill="#f6c2c6"/>
<rect x="92.5" y="527.70" width="13.25" height="1.60" fill="#cfcfeb"/>
<rect x="105.7" y="527.70" width="13.25" height="1.60" fill="#e2ddef"/>
<rect x="118.9" y="527.70" width="13.25" height="1.60" fill="#e3deef"/>
<rect x="132.1" y="527.70" width="13.25" height="1.60" fill="#f6c2c6"/>
<rect x="145.3" y="527.70" width="13.25" height="1.60" fill="#f5bec1"/>
<rect x="158.5" y="527.70" width="13.25" height="1.60" fill="#f3a8ab"/>
<rect x="92.5" y="529.25" width="13.25" height="1.60" fill="#d0d0ec"/>
<rect x="105.7" y="529.25" width="13.25" height="1.60" fill="#e0dbee"/>
<rect x="118.9" y="529.25" width="13.25" height="1.60" fill="#e5e0ef"/>
<rect x="132.1" y="529.25" width="13.25" height="1.60" fill="#f6cfd3"/>
<rect x="145.3" y="529.25" width="13.25" height="1.60" fill="#f6cbcf"/>
<rect x="158.5" y="529.25" width="13.25" height="1.60" fill="#f4b2b5"/>
<rect x="92.5" y="530.80" width="13.25" height="1.55" fill="#f6dce1"/>
<rect x="105.7" y="530.80" width="13.25" height="1.55" fill="#f6d5d9"/>
<rect x="118.9" y="530.80" width="13.25" height="1.55" fill="#f6d7dc"/>
<rect x="132.1" y="530.80" width="13.25" height="1.55" fill="#f6dde3"/>
<rect x="145.3" y="530.80" width="13.25" height="1.55" fill="#f5bdc0"/>
<rect x="158.5" y="530.80" width="13.25" height="1.55" fill="#f6dde2"/>
<rect x="92.5" y="532.30" width="13.25" height="1.55" fill="#f6c8cc"/>
<rect x="105.7" y="532.30" width="13.25" height="1.55" fill="#f5c0c3"/>
<rect x="118.9" y="532.30" width="13.25" height="1.55" fill="#f6c3c7"/>
<rect x="132.1" y="532.30" width="13.25" height="1.55" fill="#f5bbbe"/>
<rect x="145.3" y="532.30" width="13.25" height="1.55" fill="#f29598"/>
<rect x="158.5" y="532.30" width="13.25" height="1.55" fill="#f5b8bb"/>
<rect x="92.5" y="533.80" width="13.25" height="1.12" fill="#f6e0e5"/>
<rect x="105.7" y="533.80" width="13.25" height="1.12" fill="#ebe4f0"/>
<rect x="118.9" y="533.80" width="13.25" height="1.12" fill="#eae3f0"/>
<rect x="132.1" y="533.80" width="13.25" height="1.12" fill="#f6e8ee"/>
<rect x="145.3" y="533.80" width="13.25" height="1.12" fill="#f4ebf2"/>
<rect x="158.5" y="533.80" width="13.25" height="1.12" fill="#f6d0d4"/>
<rect x="92.5" y="534.87" width="13.25" height="1.12" fill="#e5e0ef"/>
<rect x="105.7" y="534.87" width="13.25" height="1.12" fill="#d6d4ed"/>
<rect x="118.9" y="534.87" width="13.25" height="1.12" fill="#d4d3ec"/>
<rect x="132.1" y="534.87" width="13.25" height="1.12" fill="#e6e0ef"/>
<rect x="145.3" y="534.87" width="13.25" height="1.12" fill="#e9e2f0"/>
<rect x="158.5" y="534.87" width="13.25" height="1.12" fill="#f6dadf"/>
<rect x="92.5" y="535.93" width="13.25" height="1.12" fill="#f6e7ec"/>
<rect x="105.7" y="535.93" width="13.25" height="1.12" fill="#e1dcee"/>
<rect x="118.9" y="535.93" width="13.25" height="1.12" fill="#e6e0ef"/>
<rect x="132.1" y="535.93" width="13.25" height="1.12" fill="#f6ebf1"/>
<rect x="145.3" y="535.93" width="13.25" height="1.12" fill="#efe7f1"/>
<rect x="158.5" y="535.93" width="13.25" height="1.12" fill="#f6d1d5"/>
<rect x="171.7" y="309.00" width="13.25" height="1.55" fill="#969ad5"/>
<rect x="184.9" y="309.00" width="13.25" height="1.55" fill="#9195d3"/>
<rect x="198.1" y="309.00" width="13.25" height="1.55" fill="#969ad5"/>
<rect x="211.3" y="309.00" width="13.25" height="1.55" fill="#f6dce1"/>
<rect x="224.5" y="309.00" width="13.25" height="1.55" fill="#efe7f1"/>
<rect x="237.7" y="309.00" width="13.25" height="1.55" fill="#f6d5da"/>
<rect x="171.7" y="310.50" width="13.25" height="1.85" fill="#a3a6da"/>
<rect x="184.9" y="310.50" width="13.25" height="1.85" fill="#9c9fd7"/>
<rect x="198.1" y="310.50" width="13.25" height="1.85" fill="#d8d6ed"/>
<rect x="211.3" y="310.50" width="13.25" height="1.85" fill="#f6c6ca"/>
<rect x="224.5" y="310.50" width="13.25" height="1.85" fill="#f6e8ed"/>
<rect x="237.7" y="310.50" width="13.25" height="1.85" fill="#f6cfd3"/>
<rect x="171.7" y="312.30" width="13.25" height="1.35" fill="#8f93d1"/>
<rect x="184.9" y="312.30" width="13.25" height="1.35" fill="#8e93d1"/>
<rect x="198.1" y="312.30" width="13.25" height="1.35" fill="#c4c6e8"/>
<rect x="211.3" y="312.30" width="13.25" height="1.35" fill="#f29ea1"/>
<rect x="224.5" y="312.30" width="13.25" height="1.35" fill="#e6e0ef"/>
<rect x="237.7" y="312.30" width="13.25" height="1.35" fill="#f29c9e"/>
<rect x="171.7" y="313.60" width="13.25" height="1.60" fill="#b8bae3"/>
<rect x="184.9" y="313.60" width="13.25" height="1.60" fill="#e8e1f0"/>
<rect x="198.1" y="313.60" width="13.25" height="1.60" fill="#b7b9e3"/>
<rect x="211.3" y="313.60" width="13.25" height="1.60" fill="#e85a60"/>
<rect x="224.5" y="313.60" width="13.25" height="1.60" fill="#f6d4d8"/>
<rect x="237.7" y="313.60" width="13.25" height="1.60" fill="#ec696d"/>
<rect x="171.7" y="315.15" width="13.25" height="1.60" fill="#8d91d0"/>
<rect x="184.9" y="315.15" width="13.25" height="1.60" fill="#c9cbea"/>
<rect x="198.1" y="315.15" width="13.25" height="1.60" fill="#9195d2"/>
<rect x="211.3" y="315.15" width="13.25" height="1.60" fill="#ef777b"/>
<rect x="224.5" y="315.15" width="13.25" height="1.60" fill="#ece5f0"/>
<rect x="237.7" y="315.15" width="13.25" height="1.60" fill="#f29598"/>
<rect x="171.7" y="316.70" width="13.25" height="1.32" fill="#7d82c8"/>
<rect x="184.9" y="316.70" width="13.25" height="1.32" fill="#868bcd"/>
<rect x="198.1" y="316.70" width="13.25" height="1.32" fill="#8489cc"/>
<rect x="211.3" y="316.70" width="13.25" height="1.32" fill="#f4adaf"/>
<rect x="224.5" y="316.70" width="13.25" height="1.32" fill="#f6e8ee"/>
<rect x="237.7" y="316.70" width="13.25" height="1.32" fill="#f6c5c9"/>
<rect x="171.7" y="317.97" width="13.25" height="1.32" fill="#9a9ed7"/>
<rect x="184.9" y="317.97" width="13.25" height="1.32" fill="#999dd6"/>
<rect x="198.1" y="317.97" width="13.25" height="1.32" fill="#a2a5da"/>
<rect x="211.3" y="317.97" width="13.25" height="1.32" fill="#f3a3a5"/>
<rect x="224.5" y="317.97" width="13.25" height="1.32" fill="#f6e4ea"/>
<rect x="237.7" y="317.97" width="13.25" height="1.32" fill="#f6c5c8"/>
<rect x="171.7" y="319.23" width="13.25" height="1.32" fill="#8f93d1"/>
<rect x="184.9" y="319.23" width="13.25" height="1.32" fill="#9599d5"/>
<rect x="198.1" y="319.23" width="13.25" height="1.32" fill="#979bd5"/>
<rect x="211.3" y="319.23" width="13.25" height="1.32" fill="#f4b3b6"/>
<rect x="224.5" y="319.23" width="13.25" height="1.32" fill="#f6e9ef"/>
<rect x="237.7" y="319.23" width="13.25" height="1.32" fill="#f6d0d4"/>
<rect x="171.7" y="320.50" width="13.25" height="1.60" fill="#8b8fcf"/>
<rect x="184.9" y="320.50" width="13.25" height="1.60" fill="#8c91d0"/>
<rect x="198.1" y="320.50" width="13.25" height="1.60" fill="#b6b8e2"/>
<rect x="211.3" y="320.50" width="13.25" height="1.60" fill="#f6d9de"/>
<rect x="224.5" y="320.50" width="13.25" height="1.60" fill="#f6d1d5"/>
<rect x="237.7" y="320.50" width="13.25" height="1.60" fill="#f6d5da"/>
<rect x="171.7" y="322.05" width="13.25" height="1.60" fill="#858acc"/>
<rect x="184.9" y="322.05" width="13.25" height="1.60" fill="#8b8fcf"/>
<rect x="198.1" y="322.05" width="13.25" height="1.60" fill="#c0c2e6"/>
<rect x="211.3" y="322.05" width="13.25" height="1.60" fill="#f6d5da"/>
<rect x="224.5" y="322.05" width="13.25" height="1.60" fill="#f6d4d9"/>
<rect x="237.7" y="322.05" width="13.25" height="1.60" fill="#f6d8dd"/>
<rect x="171.7" y="323.60" width="13.25" height="1.40" fill="#a2a6da"/>
<rect x="184.9" y="323.60" width="13.25" height="1.40" fill="#979bd5"/>
<rect x="198.1" y="323.60" width="13.25" height="1.40" fill="#989cd6"/>
<rect x="211.3" y="323.60" width="13.25" height="1.40" fill="#f6c2c6"/>
<rect x="224.5" y="323.60" width="13.25" height="1.40" fill="#f6dde2"/>
<rect x="237.7" y="323.60" width="13.25" height="1.40" fill="#f5c0c4"/>
<rect x="171.7" y="324.95" width="13.25" height="1.40" fill="#9095d2"/>
<rect x="184.9" y="324.95" width="13.25" height="1.40" fill="#888cce"/>
<rect x="198.1" y="324.95" width="13.25" height="1.40" fill="#9398d4"/>
<rect x="211.3" y="324.95" width="13.25" height="1.40" fill="#f6d3d8"/>
<rect x="224.5" y="324.95" width="13.25" height="1.40" fill="#e6e0ef"/>
<rect x="237.7" y="324.95" width="13.25" height="1.40" fill="#f6d8dd"/>
<rect x="171.7" y="326.30" width="13.25" height="1.40" fill="#969ad5"/>
<rect x="184.9" y="326.30" width="13.25" height="1.40" fill="#979bd6"/>
<rect x="198.1" y="326.30" width="13.25" height="1.40" fill="#9498d4"/>
<rect x="211.3" y="326.30" width="13.25" height="1.40" fill="#f6d0d4"/>
<rect x="224.5" y="326.30" width="13.25" height="1.40" fill="#ede5f0"/>
<rect x="237.7" y="326.30" width="13.25" height="1.40" fill="#f6d2d7"/>
<rect x="171.7" y="327.65" width="13.25" height="1.40" fill="#afb2df"/>
<rect x="184.9" y="327.65" width="13.25" height="1.40" fill="#abaede"/>
<rect x="198.1" y="327.65" width="13.25" height="1.40" fill="#a7abdc"/>
<rect x="211.3" y="327.65" width="13.25" height="1.40" fill="#f6cdd1"/>
<rect x="224.5" y="327.65" width="13.25" height="1.40" fill="#f6e9ef"/>
<rect x="237.7" y="327.65" width="13.25" height="1.40" fill="#f6cbcf"/>
<rect x="171.7" y="329.00" width="13.25" height="1.20" fill="#e1ddef"/>
<rect x="184.9" y="329.00" width="13.25" height="1.20" fill="#bbbde4"/>
<rect x="198.1" y="329.00" width="13.25" height="1.20" fill="#e8e2f0"/>
<rect x="211.3" y="329.00" width="13.25" height="1.20" fill="#f29c9e"/>
<rect x="224.5" y="329.00" width="13.25" height="1.20" fill="#f5bec2"/>
<rect x="237.7" y="329.00" width="13.25" height="1.20" fill="#f29d9f"/>
<rect x="171.7" y="330.15" width="13.25" height="1.20" fill="#d0d0ec"/>
<rect x="184.9" y="330.15" width="13.25" height="1.20" fill="#a1a4da"/>
<rect x="198.1" y="330.15" width="13.25" height="1.20" fill="#d5d4ed"/>
<rect x="211.3" y="330.15" width="13.25" height="1.20" fill="#f29ea0"/>
<rect x="224.5" y="330.15" width="13.25" height="1.20" fill="#f5babe"/>
<rect x="237.7" y="330.15" width="13.25" height="1.20" fill="#f3a4a6"/>
<rect x="171.7" y="331.30" width="13.25" height="1.20" fill="#d7d5ed"/>
<rect x="184.9" y="331.30" width="13.25" height="1.20" fill="#a0a4d9"/>
<rect x="198.1" y="331.30" width="13.25" height="1.20" fill="#d5d4ed"/>
<rect x="211.3" y="331.30" width="13.25" height="1.20" fill="#f29d9f"/>
<rect x="224.5" y="331.30" width="13.25" height="1.20" fill="#f5b9bc"/>
<rect x="237.7" y="331.30" width="13.25" height="1.20" fill="#f2999c"/>
<rect x="171.7" y="332.45" width="13.25" height="1.20" fill="#c9caea"/>
<rect x="184.9" y="332.45" width="13.25" height="1.20" fill="#9599d4"/>
<rect x="198.1" y="332.45" width="13.25" height="1.20" fill="#cbcceb"/>
<rect x="211.3" y="332.45" width="13.25" height="1.20" fill="#f3a5a7"/>
<rect x="224.5" y="332.45" width="13.25" height="1.20" fill="#f6c8cc"/>
<rect x="237.7" y="332.45" width="13.25" height="1.20" fill="#f4abae"/>
<rect x="171.7" y="333.60" width="13.25" height="1.40" fill="#646bba"/>
<rect x="184.9" y="333.60" width="13.25" height="1.40" fill="#656cbb"/>
<rect x="198.1" y="333.60" width="13.25" height="1.40" fill="#6269b9"/>
<rect x="211.3" y="333.60" width="13.25" height="1.40" fill="#f6ecf2"/>
<rect x="224.5" y="333.60" width="13.25" height="1.40" fill="#f6e8ed"/>
<rect x="237.7" y="333.60" width="13.25" height="1.40" fill="#f6d3d8"/>
<rect x="171.7" y="334.95" width="13.25" height="1.40" fill="#7278c3"/>
<rect x="184.9" y="334.95" width="13.25" height="1.40" fill="#7479c4"/>
<rect x="198.1" y="334.95" width="13.25" height="1.40" fill="#7278c3"/>
<rect x="211.3" y="334.95" width="13.25" height="1.40" fill="#f3eaf1"/>
<rect x="224.5" y="334.95" width="13.25" height="1.40" fill="#f6ebf1"/>
<rect x="237.7" y="334.95" width="13.25" height="1.40" fill="#f6d2d6"/>
<rect x="171.7" y="336.30" width="13.25" height="1.40" fill="#797ec6"/>
<rect x="184.9" y="336.30" width="13.25" height="1.40" fill="#777cc5"/>
<rect x="198.1" y="336.30" width="13.25" height="1.40" fill="#787dc6"/>
<rect x="211.3" y="336.30" width="13.25" height="1.40" fill="#f6d4d9"/>
<rect x="224.5" y="336.30" width="13.25" height="1.40" fill="#f6dadf"/>
<rect x="237.7" y="336.30" width="13.25" height="1.40" fill="#f5b7ba"/>
<rect x="171.7" y="337.65" width="13.25" height="1.40" fill="#6068b8"/>
<rect x="184.9" y="337.65" width="13.25" height="1.40" fill="#6068b8"/>
<rect x="198.1" y="337.65" width="13.25" height="1.40" fill="#6068b8"/>
<rect x="211.3" y="337.65" width="13.25" height="1.40" fill="#efe7f1"/>
<rect x="224.5" y="337.65" width="13.25" height="1.40" fill="#e3deef"/>
<rect x="237.7" y="337.65" width="13.25" height="1.40" fill="#f6dce1"/>
<rect x="171.7" y="339.00" width="13.25" height="1.40" fill="#767cc5"/>
<rect x="184.9" y="339.00" width="13.25" height="1.40" fill="#797ec6"/>
<rect x="198.1" y="339.00" width="13.25" height="1.40" fill="#6f75c2"/>
<rect x="211.3" y="339.00" width="13.25" height="1.40" fill="#f6e7ed"/>
<rect x="224.5" y="339.00" width="13.25" height="1.40" fill="#ebe4f0"/>
<rect x="237.7" y="339.00" width="13.25" height="1.40" fill="#f6ccd0"/>
<rect x="171.7" y="340.35" width="13.25" height="1.40" fill="#6068b8"/>
<rect x="184.9" y="340.35" width="13.25" height="1.40" fill="#6068b8"/>
<rect x="198.1" y="340.35" width="13.25" height="1.40" fill="#6068b8"/>
<rect x="211.3" y="340.35" width="13.25" height="1.40" fill="#d2d1ec"/>
<rect x="224.5" y="340.35" width="13.25" height="1.40" fill="#babce4"/>
<rect x="237.7" y="340.35" width="13.25" height="1.40" fill="#f2e9f1"/>
<rect x="171.7" y="341.70" width="13.25" height="1.40" fill="#6c72bf"/>
<rect x="184.9" y="341.70" width="13.25" height="1.40" fill="#6b71bf"/>
<rect x="198.1" y="341.70" width="13.25" height="1.40" fill="#6c72bf"/>
<rect x="211.3" y="341.70" width="13.25" height="1.40" fill="#e9e2f0"/>
<rect x="224.5" y="341.70" width="13.25" height="1.40" fill="#d6d4ed"/>
<rect x="237.7" y="341.70" width="13.25" height="1.40" fill="#f6d7dc"/>
<rect x="171.7" y="343.05" width="13.25" height="1.40" fill="#6e75c1"/>
<rect x="184.9" y="343.05" width="13.25" height="1.40" fill="#6d73c0"/>
<rect x="198.1" y="343.05" width="13.25" height="1.40" fill="#757bc5"/>
<rect x="211.3" y="343.05" width="13.25" height="1.40" fill="#f6e7ed"/>
<rect x="224.5" y="343.05" width="13.25" height="1.40" fill="#efe7f1"/>
<rect x="237.7" y="343.05" width="13.25" height="1.40" fill="#f6c6c9"/>
<rect x="171.7" y="344.40" width="13.25" height="1.20" fill="#676ebc"/>
<rect x="184.9" y="344.40" width="13.25" height="1.20" fill="#6970be"/>
<rect x="198.1" y="344.40" width="13.25" height="1.20" fill="#8e92d1"/>
<rect x="211.3" y="344.40" width="13.25" height="1.20" fill="#b7bae3"/>
<rect x="224.5" y="344.40" width="13.25" height="1.20" fill="#d4d3ec"/>
<rect x="237.7" y="344.40" width="13.25" height="1.20" fill="#f6d7dc"/>
<rect x="171.7" y="345.55" width="13.25" height="1.20" fill="#6f75c1"/>
<rect x="184.9" y="345.55" width="13.25" height="1.20" fill="#6f75c1"/>
<rect x="198.1" y="345.55" width="13.25" height="1.20" fill="#989cd6"/>
<rect x="211.3" y="345.55" width="13.25" height="1.20" fill="#d6d4ed"/>
<rect x="224.5" y="345.55" width="13.25" height="1.20" fill="#eae3f0"/>
<rect x="237.7" y="345.55" width="13.25" height="1.20" fill="#f5c1c4"/>
<rect x="171.7" y="346.70" width="13.25" height="1.20" fill="#868bcd"/>
<rect x="184.9" y="346.70" width="13.25" height="1.20" fill="#8489cc"/>
<rect x="198.1" y="346.70" width="13.25" height="1.20" fill="#b3b5e1"/>
<rect x="211.3" y="346.70" width="13.25" height="1.20" fill="#e3deef"/>
<rect x="224.5" y="346.70" width="13.25" height="1.20" fill="#f6e5eb"/>
<rect x="237.7" y="346.70" width="13.25" height="1.20" fill="#f4b5b8"/>
<rect x="171.7" y="347.85" width="13.25" height="1.20" fill="#787dc6"/>
<rect x="184.9" y="347.85" width="13.25" height="1.20" fill="#777dc5"/>
<rect x="198.1" y="347.85" width="13.25" height="1.20" fill="#a2a5da"/>
<rect x="211.3" y="347.85" width="13.25" height="1.20" fill="#c5c6e8"/>
<rect x="224.5" y="347.85" width="13.25" height="1.20" fill="#ddd9ee"/>
<rect x="237.7" y="347.85" width="13.25" height="1.20" fill="#f6d4d8"/>
<rect x="171.7" y="349.00" width="13.25" height="1.20" fill="#9ca0d8"/>
<rect x="184.9" y="349.00" width="13.25" height="1.20" fill="#6c72bf"/>
<rect x="198.1" y="349.00" width="13.25" height="1.20" fill="#a3a7db"/>
<rect x="211.3" y="349.00" width="13.25" height="1.20" fill="#dedaee"/>
<rect x="224.5" y="349.00" width="13.25" height="1.20" fill="#f6ebf1"/>
<rect x="237.7" y="349.00" width="13.25" height="1.20" fill="#f6dbe0"/>
<rect x="171.7" y="350.15" width="13.25" height="1.20" fill="#9a9ed7"/>
<rect x="184.9" y="350.15" width="13.25" height="1.20" fill="#7076c2"/>
<rect x="198.1" y="350.15" width="13.25" height="1.20" fill="#9b9fd7"/>
<rect x="211.3" y="350.15" width="13.25" height="1.20" fill="#d2d2ec"/>
<rect x="224.5" y="350.15" width="13.25" height="1.20" fill="#e6e0ef"/>
<rect x="237.7" y="350.15" width="13.25" height="1.20" fill="#f6e7ed"/>
<rect x="171.7" y="351.30" width="13.25" height="1.20" fill="#999dd6"/>
<rect x="184.9" y="351.30" width="13.25" height="1.20" fill="#767bc5"/>
<rect x="198.1" y="351.30" width="13.25" height="1.20" fill="#a2a5da"/>
<rect x="211.3" y="351.30" width="13.25" height="1.20" fill="#d1d1ec"/>
<rect x="224.5" y="351.30" width="13.25" height="1.20" fill="#e8e2f0"/>
<rect x="237.7" y="351.30" width="13.25" height="1.20" fill="#f6e7ed"/>
<rect x="171.7" y="352.45" width="13.25" height="1.20" fill="#afb2df"/>
<rect x="184.9" y="352.45" width="13.25" height="1.20" fill="#8085ca"/>
<rect x="198.1" y="352.45" width="13.25" height="1.20" fill="#b1b4e0"/>
<rect x="211.3" y="352.45" width="13.25" height="1.20" fill="#d6d4ed"/>
<rect x="224.5" y="352.45" width="13.25" height="1.20" fill="#ede6f1"/>
<rect x="237.7" y="352.45" width="13.25" height="1.20" fill="#f6e2e7"/>
<rect x="171.7" y="353.60" width="13.25" height="1.20" fill="#cccdeb"/>
<rect x="184.9" y="353.60" width="13.25" height="1.20" fill="#9b9fd7"/>
<rect x="198.1" y="353.60" width="13.25" height="1.20" fill="#cbccea"/>
<rect x="211.3" y="353.60" width="13.25" height="1.20" fill="#f6e1e7"/>
<rect x="224.5" y="353.60" width="13.25" height="1.20" fill="#f6e3e8"/>
<rect x="237.7" y="353.60" width="13.25" height="1.20" fill="#f6c7cb"/>
<rect x="171.7" y="354.75" width="13.25" height="1.20" fill="#cccdeb"/>
<rect x="184.9" y="354.75" width="13.25" height="1.20" fill="#9397d3"/>
<rect x="198.1" y="354.75" width="13.25" height="1.20" fill="#cfcfeb"/>
<rect x="211.3" y="354.75" width="13.25" height="1.20" fill="#ece5f0"/>
<rect x="224.5" y="354.75" width="13.25" height="1.20" fill="#ede5f0"/>
<rect x="237.7" y="354.75" width="13.25" height="1.20" fill="#f6d3d7"/>
<rect x="171.7" y="355.90" width="13.25" height="1.20" fill="#c7c8e9"/>
<rect x="184.9" y="355.90" width="13.25" height="1.20" fill="#969ad5"/>
<rect x="198.1" y="355.90" width="13.25" height="1.20" fill="#d0d0ec"/>
<rect x="211.3" y="355.90" width="13.25" height="1.20" fill="#efe7f1"/>
<rect x="224.5" y="355.90" width="13.25" height="1.20" fill="#ebe4f0"/>
<rect x="237.7" y="355.90" width="13.25" height="1.20" fill="#f6d2d6"/>
<rect x="171.7" y="357.05" width="13.25" height="1.20" fill="#dad7ed"/>
<rect x="184.9" y="357.05" width="13.25" height="1.20" fill="#adb0de"/>
<rect x="198.1" y="357.05" width="13.25" height="1.20" fill="#e1ddef"/>
<rect x="211.3" y="357.05" width="13.25" height="1.20" fill="#f6d5da"/>
<rect x="224.5" y="357.05" width="13.25" height="1.20" fill="#f6dde2"/>
<rect x="237.7" y="357.05" width="13.25" height="1.20" fill="#f5bbbe"/>
<rect x="171.7" y="358.20" width="13.25" height="1.32" fill="#a9acdd"/>
<rect x="184.9" y="358.20" width="13.25" height="1.32" fill="#dfdbee"/>
<rect x="198.1" y="358.20" width="13.25" height="1.32" fill="#a8abdc"/>
<rect x="211.3" y="358.20" width="13.25" height="1.32" fill="#f6d6db"/>
<rect x="224.5" y="358.20" width="13.25" height="1.32" fill="#f6d8dd"/>
<rect x="237.7" y="358.20" width="13.25" height="1.32" fill="#f5b6ba"/>
<rect x="171.7" y="359.47" width="13.25" height="1.32" fill="#989cd6"/>
<rect x="184.9" y="359.47" width="13.25" height="1.32" fill="#cbccea"/>
<rect x="198.1" y="359.47" width="13.25" height="1.32" fill="#969ad5"/>
<rect x="211.3" y="359.47" width="13.25" height="1.32" fill="#f6eaf0"/>
<rect x="224.5" y="359.47" width="13.25" height="1.32" fill="#f6e5ea"/>
<rect x="237.7" y="359.47" width="13.25" height="1.32" fill="#f6cace"/>
<rect x="171.7" y="360.73" width="13.25" height="1.32" fill="#969ad5"/>
<rect x="184.9" y="360.73" width="13.25" height="1.32" fill="#d2d2ec"/>
<rect x="198.1" y="360.73" width="13.25" height="1.32" fill="#989cd6"/>
<rect x="211.3" y="360.73" width="13.25" height="1.32" fill="#f0e8f1"/>
<rect x="224.5" y="360.73" width="13.25" height="1.32" fill="#f2e9f1"/>
<rect x="237.7" y="360.73" width="13.25" height="1.32" fill="#f6d2d6"/>
<rect x="171.7" y="362.00" width="13.25" height="1.38" fill="#d6d4ed"/>
<rect x="184.9" y="362.00" width="13.25" height="1.38" fill="#ece5f0"/>
<rect x="198.1" y="362.00" width="13.25" height="1.38" fill="#d0d0ec"/>
<rect x="211.3" y="362.00" width="13.25" height="1.38" fill="#f3eaf1"/>
<rect x="224.5" y="362.00" width="13.25" height="1.38" fill="#f6dde2"/>
<rect x="237.7" y="362.00" width="13.25" height="1.38" fill="#f5c1c5"/>
<rect x="171.7" y="363.33" width="13.25" height="1.38" fill="#c2c3e7"/>
<rect x="184.9" y="363.33" width="13.25" height="1.38" fill="#e1ddef"/>
<rect x="198.1" y="363.33" width="13.25" height="1.38" fill="#cbccea"/>
<rect x="211.3" y="363.33" width="13.25" height="1.38" fill="#e7e1ef"/>
<rect x="224.5" y="363.33" width="13.25" height="1.38" fill="#f6e4e9"/>
<rect x="237.7" y="363.33" width="13.25" height="1.38" fill="#f6ced3"/>
<rect x="171.7" y="364.67" width="13.25" height="1.38" fill="#cacbea"/>
<rect x="184.9" y="364.67" width="13.25" height="1.38" fill="#dcd9ee"/>
<rect x="198.1" y="364.67" width="13.25" height="1.38" fill="#c0c1e6"/>
<rect x="211.3" y="364.67" width="13.25" height="1.38" fill="#e5dfef"/>
<rect x="224.5" y="364.67" width="13.25" height="1.38" fill="#f4ebf2"/>
<rect x="237.7" y="364.67" width="13.25" height="1.38" fill="#f6ccd0"/>
<rect x="171.7" y="366.00" width="13.25" height="1.20" fill="#e4dfef"/>
<rect x="184.9" y="366.00" width="13.25" height="1.20" fill="#e3deef"/>
<rect x="198.1" y="366.00" width="13.25" height="1.20" fill="#d9d7ed"/>
<rect x="211.3" y="366.00" width="13.25" height="1.20" fill="#f6c3c7"/>
<rect x="224.5" y="366.00" width="13.25" height="1.20" fill="#f5babe"/>
<rect x="237.7" y="366.00" width="13.25" height="1.20" fill="#f5bdc0"/>
<rect x="171.7" y="367.15" width="13.25" height="1.20" fill="#f6e5eb"/>
<rect x="184.9" y="367.15" width="13.25" height="1.20" fill="#f6e2e8"/>
<rect x="198.1" y="367.15" width="13.25" height="1.20" fill="#f6e7ed"/>
<rect x="211.3" y="367.15" width="13.25" height="1.20" fill="#f5b8bb"/>
<rect x="224.5" y="367.15" width="13.25" height="1.20" fill="#f5b7ba"/>
<rect x="237.7" y="367.15" width="13.25" height="1.20" fill="#f5babd"/>
<rect x="171.7" y="368.30" width="13.25" height="1.60" fill="#efe7f1"/>
<rect x="184.9" y="368.30" width="13.25" height="1.60" fill="#f4ebf2"/>
<rect x="198.1" y="368.30" width="13.25" height="1.60" fill="#eee6f1"/>
<rect x="211.3" y="368.30" width="13.25" height="1.60" fill="#f5c1c4"/>
<rect x="224.5" y="368.30" width="13.25" height="1.60" fill="#f5bdc1"/>
<rect x="237.7" y="368.30" width="13.25" height="1.60" fill="#f6c5c9"/>
<rect x="171.7" y="369.85" width="13.25" height="1.60" fill="#e5dfef"/>
<rect x="184.9" y="369.85" width="13.25" height="1.60" fill="#e5dfef"/>
<rect x="198.1" y="369.85" width="13.25" height="1.60" fill="#e5e0ef"/>
<rect x="211.3" y="369.85" width="13.25" height="1.60" fill="#f6d4d8"/>
<rect x="224.5" y="369.85" width="13.25" height="1.60" fill="#f6cfd3"/>
<rect x="237.7" y="369.85" width="13.25" height="1.60" fill="#f6cfd3"/>
<rect x="171.7" y="371.40" width="13.25" height="1.32" fill="#eae3f0"/>
<rect x="184.9" y="371.40" width="13.25" height="1.32" fill="#ede6f1"/>
<rect x="198.1" y="371.40" width="13.25" height="1.32" fill="#eae3f0"/>
<rect x="211.3" y="371.40" width="13.25" height="1.32" fill="#f6d0d4"/>
<rect x="224.5" y="371.40" width="13.25" height="1.32" fill="#f4b4b7"/>
<rect x="237.7" y="371.40" width="13.25" height="1.32" fill="#f6d1d6"/>
<rect x="171.7" y="372.67" width="13.25" height="1.32" fill="#f6e0e5"/>
<rect x="184.9" y="372.67" width="13.25" height="1.32" fill="#f6dce1"/>
<rect x="198.1" y="372.67" width="13.25" height="1.32" fill="#f6e1e6"/>
<rect x="211.3" y="372.67" width="13.25" height="1.32" fill="#f5bfc2"/>
<rect x="224.5" y="372.67" width="13.25" height="1.32" fill="#f3a1a3"/>
<rect x="237.7" y="372.67" width="13.25" height="1.32" fill="#f5c1c4"/>
<rect x="171.7" y="373.93" width="13.25" height="1.32" fill="#f6dee4"/>
<rect x="184.9" y="373.93" width="13.25" height="1.32" fill="#f6dde3"/>
<rect x="198.1" y="373.93" width="13.25" height="1.32" fill="#f6dfe4"/>
<rect x="211.3" y="373.93" width="13.25" height="1.32" fill="#f5c0c4"/>
<rect x="224.5" y="373.93" width="13.25" height="1.32" fill="#f3a4a6"/>
<rect x="237.7" y="373.93" width="13.25" height="1.32" fill="#f5bfc2"/>
<rect x="171.7" y="375.20" width="13.25" height="1.20" fill="#f5c2c6"/>
<rect x="184.9" y="375.20" width="13.25" height="1.20" fill="#f5bdc1"/>
<rect x="198.1" y="375.20" width="13.25" height="1.20" fill="#f5c1c4"/>
<rect x="211.3" y="375.20" width="13.25" height="1.20" fill="#f6cbcf"/>
<rect x="224.5" y="375.20" width="13.25" height="1.20" fill="#f4acae"/>
<rect x="237.7" y="375.20" width="13.25" height="1.20" fill="#f6cace"/>
<rect x="171.7" y="376.35" width="13.25" height="1.20" fill="#f5c2c5"/>
<rect x="184.9" y="376.35" width="13.25" height="1.20" fill="#f5c2c5"/>
<rect x="198.1" y="376.35" width="13.25" height="1.20" fill="#f6c4c8"/>
<rect x="211.3" y="376.35" width="13.25" height="1.20" fill="#f5bec1"/>
<rect x="224.5" y="376.35" width="13.25" height="1.20" fill="#f3a2a4"/>
<rect x="237.7" y="376.35" width="13.25" height="1.20" fill="#f5bdc1"/>
<rect x="171.7" y="377.50" width="13.25" height="1.60" fill="#f6e3e8"/>
<rect x="184.9" y="377.50" width="13.25" height="1.60" fill="#f6dde2"/>
<rect x="198.1" y="377.50" width="13.25" height="1.60" fill="#f6e1e6"/>
<rect x="211.3" y="377.50" width="13.25" height="1.60" fill="#f6cfd3"/>
<rect x="224.5" y="377.50" width="13.25" height="1.60" fill="#f6d3d8"/>
<rect x="237.7" y="377.50" width="13.25" height="1.60" fill="#f6ced3"/>
<rect x="171.7" y="379.05" width="13.25" height="1.60" fill="#f5ebf2"/>
<rect x="184.9" y="379.05" width="13.25" height="1.60" fill="#f5ebf2"/>
<rect x="198.1" y="379.05" width="13.25" height="1.60" fill="#f5ebf2"/>
<rect x="211.3" y="379.05" width="13.25" height="1.60" fill="#f5c0c4"/>
<rect x="224.5" y="379.05" width="13.25" height="1.60" fill="#f5bec1"/>
<rect x="237.7" y="379.05" width="13.25" height="1.60" fill="#f5bdc0"/>
<rect x="171.7" y="380.60" width="13.25" height="1.60" fill="#f6d3d8"/>
<rect x="184.9" y="380.60" width="13.25" height="1.60" fill="#f6d3d7"/>
<rect x="198.1" y="380.60" width="13.25" height="1.60" fill="#f6cdd2"/>
<rect x="211.3" y="380.60" width="13.25" height="1.60" fill="#f6dce1"/>
<rect x="224.5" y="380.60" width="13.25" height="1.60" fill="#f6e0e5"/>
<rect x="237.7" y="380.60" width="13.25" height="1.60" fill="#f6dbe0"/>
<rect x="171.7" y="382.15" width="13.25" height="1.60" fill="#f6dadf"/>
<rect x="184.9" y="382.15" width="13.25" height="1.60" fill="#f6d5d9"/>
<rect x="198.1" y="382.15" width="13.25" height="1.60" fill="#f6d7dc"/>
<rect x="211.3" y="382.15" width="13.25" height="1.60" fill="#f6d8dd"/>
<rect x="224.5" y="382.15" width="13.25" height="1.60" fill="#f6d7dc"/>
<rect x="237.7" y="382.15" width="13.25" height="1.60" fill="#f6dbe0"/>
<rect x="171.7" y="383.70" width="13.25" height="1.20" fill="#d5d4ec"/>
<rect x="184.9" y="383.70" width="13.25" height="1.20" fill="#d6d5ed"/>
<rect x="198.1" y="383.70" width="13.25" height="1.20" fill="#d9d7ed"/>
<rect x="211.3" y="383.70" width="13.25" height="1.20" fill="#ece5f0"/>
<rect x="224.5" y="383.70" width="13.25" height="1.20" fill="#c9caea"/>
<rect x="237.7" y="383.70" width="13.25" height="1.20" fill="#ebe4f0"/>
<rect x="171.7" y="384.85" width="13.25" height="1.20" fill="#f6eaf0"/>
<rect x="184.9" y="384.85" width="13.25" height="1.20" fill="#f6eaf0"/>
<rect x="198.1" y="384.85" width="13.25" height="1.20" fill="#f6e5eb"/>
<rect x="211.3" y="384.85" width="13.25" height="1.20" fill="#f6cace"/>
<rect x="224.5" y="384.85" width="13.25" height="1.20" fill="#f6e9ef"/>
<rect x="237.7" y="384.85" width="13.25" height="1.20" fill="#f6d1d6"/>
<rect x="171.7" y="386.00" width="13.25" height="1.55" fill="#f6d6db"/>
<rect x="184.9" y="386.00" width="13.25" height="1.55" fill="#f6d5da"/>
<rect x="198.1" y="386.00" width="13.25" height="1.55" fill="#f6d5da"/>
<rect x="211.3" y="386.00" width="13.25" height="1.55" fill="#f4b6b9"/>
<rect x="224.5" y="386.00" width="13.25" height="1.55" fill="#f6d2d7"/>
<rect x="237.7" y="386.00" width="13.25" height="1.55" fill="#f4b3b5"/>
<rect x="171.7" y="387.50" width="13.25" height="1.55" fill="#f6cfd3"/>
<rect x="184.9" y="387.50" width="13.25" height="1.55" fill="#f6c9cd"/>
<rect x="198.1" y="387.50" width="13.25" height="1.55" fill="#f6cbcf"/>
<rect x="211.3" y="387.50" width="13.25" height="1.55" fill="#f5bbbe"/>
<rect x="224.5" y="387.50" width="13.25" height="1.55" fill="#f6dadf"/>
<rect x="237.7" y="387.50" width="13.25" height="1.55" fill="#f5bec1"/>
<rect x="171.7" y="389.00" width="13.25" height="1.38" fill="#dad7ed"/>
<rect x="184.9" y="389.00" width="13.25" height="1.38" fill="#d2d1ec"/>
<rect x="198.1" y="389.00" width="13.25" height="1.38" fill="#c8caea"/>
<rect x="211.3" y="389.00" width="13.25" height="1.38" fill="#f6dfe5"/>
<rect x="224.5" y="389.00" width="13.25" height="1.38" fill="#f6dce1"/>
<rect x="237.7" y="389.00" width="13.25" height="1.38" fill="#f6dde2"/>
<rect x="171.7" y="390.33" width="13.25" height="1.38" fill="#d8d6ed"/>
<rect x="184.9" y="390.33" width="13.25" height="1.38" fill="#d0d0ec"/>
<rect x="198.1" y="390.33" width="13.25" height="1.38" fill="#dbd8ed"/>
<rect x="211.3" y="390.33" width="13.25" height="1.38" fill="#f6dce1"/>
<rect x="224.5" y="390.33" width="13.25" height="1.38" fill="#f6d6db"/>
<rect x="237.7" y="390.33" width="13.25" height="1.38" fill="#f6d7dc"/>
<rect x="171.7" y="391.67" width="13.25" height="1.38" fill="#d7d5ed"/>
<rect x="184.9" y="391.67" width="13.25" height="1.38" fill="#dad7ed"/>
<rect x="198.1" y="391.67" width="13.25" height="1.38" fill="#e1dcee"/>
<rect x="211.3" y="391.67" width="13.25" height="1.38" fill="#f6dce1"/>
<rect x="224.5" y="391.67" width="13.25" height="1.38" fill="#f6d7dc"/>
<rect x="237.7" y="391.67" width="13.25" height="1.38" fill="#f6d6da"/>
<rect x="171.7" y="393.00" width="13.25" height="1.55" fill="#ebe4f0"/>
<rect x="184.9" y="393.00" width="13.25" height="1.55" fill="#eee6f1"/>
<rect x="198.1" y="393.00" width="13.25" height="1.55" fill="#efe7f1"/>
<rect x="211.3" y="393.00" width="13.25" height="1.55" fill="#f3a6a8"/>
<rect x="224.5" y="393.00" width="13.25" height="1.55" fill="#f6c3c7"/>
<rect x="237.7" y="393.00" width="13.25" height="1.55" fill="#f3a5a7"/>
<rect x="171.7" y="394.50" width="13.25" height="1.55" fill="#f6dee4"/>
<rect x="184.9" y="394.50" width="13.25" height="1.55" fill="#f6eaf0"/>
<rect x="198.1" y="394.50" width="13.25" height="1.55" fill="#f6e0e5"/>
<rect x="211.3" y="394.50" width="13.25" height="1.55" fill="#f3a4a6"/>
<rect x="224.5" y="394.50" width="13.25" height="1.55" fill="#f5c0c4"/>
<rect x="237.7" y="394.50" width="13.25" height="1.55" fill="#f3a9ab"/>
<rect x="171.7" y="396.00" width="13.25" height="1.55" fill="#e8e1f0"/>
<rect x="184.9" y="396.00" width="13.25" height="1.55" fill="#e3deef"/>
<rect x="198.1" y="396.00" width="13.25" height="1.55" fill="#e2ddef"/>
<rect x="211.3" y="396.00" width="13.25" height="1.55" fill="#f6d0d4"/>
<rect x="224.5" y="396.00" width="13.25" height="1.55" fill="#f6d7dc"/>
<rect x="237.7" y="396.00" width="13.25" height="1.55" fill="#f6d8dc"/>
<rect x="171.7" y="397.50" width="13.25" height="1.55" fill="#d6d5ed"/>
<rect x="184.9" y="397.50" width="13.25" height="1.55" fill="#dddaee"/>
<rect x="198.1" y="397.50" width="13.25" height="1.55" fill="#dbd8ee"/>
<rect x="211.3" y="397.50" width="13.25" height="1.55" fill="#f6dadf"/>
<rect x="224.5" y="397.50" width="13.25" height="1.55" fill="#f6dfe4"/>
<rect x="237.7" y="397.50" width="13.25" height="1.55" fill="#f6dde2"/>
<rect x="171.7" y="399.00" width="13.25" height="1.38" fill="#e9e2f0"/>
<rect x="184.9" y="399.00" width="13.25" height="1.38" fill="#e8e2f0"/>
<rect x="198.1" y="399.00" width="13.25" height="1.38" fill="#f6d5d9"/>
<rect x="211.3" y="399.00" width="13.25" height="1.38" fill="#d9d7ed"/>
<rect x="224.5" y="399.00" width="13.25" height="1.38" fill="#f6e7ec"/>
<rect x="237.7" y="399.00" width="13.25" height="1.38" fill="#dad7ed"/>
<rect x="171.7" y="400.33" width="13.25" height="1.38" fill="#f6e3e9"/>
<rect x="184.9" y="400.33" width="13.25" height="1.38" fill="#f6e5ea"/>
<rect x="198.1" y="400.33" width="13.25" height="1.38" fill="#f6c3c7"/>
<rect x="211.3" y="400.33" width="13.25" height="1.38" fill="#f6e9ef"/>
<rect x="224.5" y="400.33" width="13.25" height="1.38" fill="#f6c6ca"/>
<rect x="237.7" y="400.33" width="13.25" height="1.38" fill="#f6e8ed"/>
<rect x="171.7" y="401.67" width="13.25" height="1.38" fill="#eae3f0"/>
<rect x="184.9" y="401.67" width="13.25" height="1.38" fill="#ebe4f0"/>
<rect x="198.1" y="401.67" width="13.25" height="1.38" fill="#f6dadf"/>
<rect x="211.3" y="401.67" width="13.25" height="1.38" fill="#e5dfef"/>
<rect x="224.5" y="401.67" width="13.25" height="1.38" fill="#f6d8dd"/>
<rect x="237.7" y="401.67" width="13.25" height="1.38" fill="#eae3f0"/>
<rect x="171.7" y="403.00" width="13.25" height="1.32" fill="#f4b4b7"/>
<rect x="184.9" y="403.00" width="13.25" height="1.32" fill="#f4b3b6"/>
<rect x="198.1" y="403.00" width="13.25" height="1.32" fill="#f4b5b7"/>
<rect x="211.3" y="403.00" width="13.25" height="1.32" fill="#f4b1b4"/>
<rect x="224.5" y="403.00" width="13.25" height="1.32" fill="#f4b5b8"/>
<rect x="237.7" y="403.00" width="13.25" height="1.32" fill="#f5bdc1"/>
<rect x="171.7" y="404.27" width="13.25" height="1.32" fill="#f6dfe4"/>
<rect x="184.9" y="404.27" width="13.25" height="1.32" fill="#f6e0e5"/>
<rect x="198.1" y="404.27" width="13.25" height="1.32" fill="#f6dfe5"/>
<rect x="211.3" y="404.27" width="13.25" height="1.32" fill="#f6d2d6"/>
<rect x="224.5" y="404.27" width="13.25" height="1.32" fill="#f6d2d7"/>
<rect x="237.7" y="404.27" width="13.25" height="1.32" fill="#f6cace"/>
<rect x="171.7" y="405.53" width="13.25" height="1.32" fill="#f6d2d7"/>
<rect x="184.9" y="405.53" width="13.25" height="1.32" fill="#f6d0d5"/>
<rect x="198.1" y="405.53" width="13.25" height="1.32" fill="#f6d3d8"/>
<rect x="211.3" y="405.53" width="13.25" height="1.32" fill="#f6c7cb"/>
<rect x="224.5" y="405.53" width="13.25" height="1.32" fill="#f6c5c8"/>
<rect x="237.7" y="405.53" width="13.25" height="1.32" fill="#f6c8cc"/>
<rect x="171.7" y="406.80" width="13.25" height="1.55" fill="#f1e8f1"/>
<rect x="184.9" y="406.80" width="13.25" height="1.55" fill="#e5dfef"/>
<rect x="198.1" y="406.80" width="13.25" height="1.55" fill="#ebe4f0"/>
<rect x="211.3" y="406.80" width="13.25" height="1.55" fill="#f4b4b7"/>
<rect x="224.5" y="406.80" width="13.25" height="1.55" fill="#f6d4d9"/>
<rect x="237.7" y="406.80" width="13.25" height="1.55" fill="#f4b5b8"/>
<rect x="171.7" y="408.30" width="13.25" height="1.55" fill="#f6e4e9"/>
<rect x="184.9" y="408.30" width="13.25" height="1.55" fill="#f6e3e8"/>
<rect x="198.1" y="408.30" width="13.25" height="1.55" fill="#f6e5eb"/>
<rect x="211.3" y="408.30" width="13.25" height="1.55" fill="#f3a8aa"/>
<rect x="224.5" y="408.30" width="13.25" height="1.55" fill="#f6c3c7"/>
<rect x="237.7" y="408.30" width="13.25" height="1.55" fill="#f3a3a5"/>
<rect x="171.7" y="409.80" width="13.25" height="1.35" fill="#7f84c9"/>
<rect x="184.9" y="409.80" width="13.25" height="1.35" fill="#7e83c9"/>
<rect x="198.1" y="409.80" width="13.25" height="1.35" fill="#acafde"/>
<rect x="211.3" y="409.80" width="13.25" height="1.35" fill="#f5bdc0"/>
<rect x="224.5" y="409.80" width="13.25" height="1.35" fill="#f5bfc2"/>
<rect x="237.7" y="409.80" width="13.25" height="1.35" fill="#f5c0c3"/>
<rect x="171.7" y="411.10" width="13.25" height="1.35" fill="#8489cc"/>
<rect x="184.9" y="411.10" width="13.25" height="1.35" fill="#8489cc"/>
<rect x="198.1" y="411.10" width="13.25" height="1.35" fill="#b1b3e0"/>
<rect x="211.3" y="411.10" width="13.25" height="1.35" fill="#f6cace"/>
<rect x="224.5" y="411.10" width="13.25" height="1.35" fill="#f6c3c6"/>
<rect x="237.7" y="411.10" width="13.25" height="1.35" fill="#f6c4c8"/>
<rect x="171.7" y="412.40" width="13.25" height="1.35" fill="#6970be"/>
<rect x="184.9" y="412.40" width="13.25" height="1.35" fill="#6169b9"/>
<rect x="198.1" y="412.40" width="13.25" height="1.35" fill="#9196d3"/>
<rect x="211.3" y="412.40" width="13.25" height="1.35" fill="#f6c7cb"/>
<rect x="224.5" y="412.40" width="13.25" height="1.35" fill="#f6d0d5"/>
<rect x="237.7" y="412.40" width="13.25" height="1.35" fill="#f6ced3"/>
<rect x="171.7" y="413.70" width="13.25" height="1.60" fill="#f6d1d5"/>
<rect x="184.9" y="413.70" width="13.25" height="1.60" fill="#f6d2d7"/>
<rect x="198.1" y="413.70" width="13.25" height="1.60" fill="#f6cdd1"/>
<rect x="211.3" y="413.70" width="13.25" height="1.60" fill="#f6d7dc"/>
<rect x="224.5" y="413.70" width="13.25" height="1.60" fill="#efe7f1"/>
<rect x="237.7" y="413.70" width="13.25" height="1.60" fill="#f6d7dc"/>
<rect x="171.7" y="415.25" width="13.25" height="1.60" fill="#f6cfd4"/>
<rect x="184.9" y="415.25" width="13.25" height="1.60" fill="#f6d2d7"/>
<rect x="198.1" y="415.25" width="13.25" height="1.60" fill="#f6cfd3"/>
<rect x="211.3" y="415.25" width="13.25" height="1.60" fill="#f6cdd1"/>
<rect x="224.5" y="415.25" width="13.25" height="1.60" fill="#eee6f1"/>
<rect x="237.7" y="415.25" width="13.25" height="1.60" fill="#f6cfd3"/>
<rect x="171.7" y="416.80" width="13.25" height="1.15" fill="#d8d6ed"/>
<rect x="184.9" y="416.80" width="13.25" height="1.15" fill="#dad7ed"/>
<rect x="198.1" y="416.80" width="13.25" height="1.15" fill="#dcd9ee"/>
<rect x="211.3" y="416.80" width="13.25" height="1.15" fill="#f4b0b2"/>
<rect x="224.5" y="416.80" width="13.25" height="1.15" fill="#f6c7cb"/>
<rect x="237.7" y="416.80" width="13.25" height="1.15" fill="#f6c8cc"/>
<rect x="171.7" y="417.90" width="13.25" height="1.15" fill="#eee6f1"/>
<rect x="184.9" y="417.90" width="13.25" height="1.15" fill="#eae3f0"/>
<rect x="198.1" y="417.90" width="13.25" height="1.15" fill="#ece5f0"/>
<rect x="211.3" y="417.90" width="13.25" height="1.15" fill="#f3a6a8"/>
<rect x="224.5" y="417.90" width="13.25" height="1.15" fill="#f5c1c5"/>
<rect x="237.7" y="417.90" width="13.25" height="1.15" fill="#f5c1c5"/>
<rect x="171.7" y="419.00" width="13.25" height="1.38" fill="#f6c4c8"/>
<rect x="184.9" y="419.00" width="13.25" height="1.38" fill="#f6cbcf"/>
<rect x="198.1" y="419.00" width="13.25" height="1.38" fill="#f6c4c8"/>
<rect x="211.3" y="419.00" width="13.25" height="1.38" fill="#dcd9ee"/>
<rect x="224.5" y="419.00" width="13.25" height="1.38" fill="#f6d3d8"/>
<rect x="237.7" y="419.00" width="13.25" height="1.38" fill="#dfdbee"/>
<rect x="171.7" y="420.33" width="13.25" height="1.38" fill="#f6cdd2"/>
<rect x="184.9" y="420.33" width="13.25" height="1.38" fill="#f6cfd3"/>
<rect x="198.1" y="420.33" width="13.25" height="1.38" fill="#f6c9cd"/>
<rect x="211.3" y="420.33" width="13.25" height="1.38" fill="#e5dfef"/>
<rect x="224.5" y="420.33" width="13.25" height="1.38" fill="#f6c8cc"/>
<rect x="237.7" y="420.33" width="13.25" height="1.38" fill="#e5dfef"/>
<rect x="171.7" y="421.67" width="13.25" height="1.38" fill="#f6ced2"/>
<rect x="184.9" y="421.67" width="13.25" height="1.38" fill="#f6cfd3"/>
<rect x="198.1" y="421.67" width="13.25" height="1.38" fill="#f6d3d8"/>
<rect x="211.3" y="421.67" width="13.25" height="1.38" fill="#d7d5ed"/>
<rect x="224.5" y="421.67" width="13.25" height="1.38" fill="#f6d9de"/>
<rect x="237.7" y="421.67" width="13.25" height="1.38" fill="#d7d5ed"/>
<rect x="171.7" y="423.00" width="13.25" height="1.32" fill="#d6d5ed"/>
<rect x="184.9" y="423.00" width="13.25" height="1.32" fill="#d6d4ed"/>
<rect x="198.1" y="423.00" width="13.25" height="1.32" fill="#ebe4f0"/>
<rect x="211.3" y="423.00" width="13.25" height="1.32" fill="#9c9fd7"/>
<rect x="224.5" y="423.00" width="13.25" height="1.32" fill="#d5d4ec"/>
<rect x="237.7" y="423.00" width="13.25" height="1.32" fill="#cfcfeb"/>
<rect x="171.7" y="424.27" width="13.25" height="1.32" fill="#c0c2e6"/>
<rect x="184.9" y="424.27" width="13.25" height="1.32" fill="#c9caea"/>
<rect x="198.1" y="424.27" width="13.25" height="1.32" fill="#dedbee"/>
<rect x="211.3" y="424.27" width="13.25" height="1.32" fill="#999dd7"/>
<rect x="224.5" y="424.27" width="13.25" height="1.32" fill="#c6c8e9"/>
<rect x="237.7" y="424.27" width="13.25" height="1.32" fill="#cccdeb"/>
<rect x="171.7" y="425.53" width="13.25" height="1.32" fill="#d3d2ec"/>
<rect x="184.9" y="425.53" width="13.25" height="1.32" fill="#d9d7ed"/>
<rect x="198.1" y="425.53" width="13.25" height="1.32" fill="#efe7f1"/>
<rect x="211.3" y="425.53" width="13.25" height="1.32" fill="#acafde"/>
<rect x="224.5" y="425.53" width="13.25" height="1.32" fill="#dcd9ee"/>
<rect x="237.7" y="425.53" width="13.25" height="1.32" fill="#e1ddef"/>
<rect x="171.7" y="426.80" width="13.25" height="1.35" fill="#f4ebf2"/>
<rect x="184.9" y="426.80" width="13.25" height="1.35" fill="#f2e9f1"/>
<rect x="198.1" y="426.80" width="13.25" height="1.35" fill="#f5ebf2"/>
<rect x="211.3" y="426.80" width="13.25" height="1.35" fill="#c0c1e6"/>
<rect x="224.5" y="426.80" width="13.25" height="1.35" fill="#eee6f1"/>
<rect x="237.7" y="426.80" width="13.25" height="1.35" fill="#c4c6e8"/>
<rect x="171.7" y="428.10" width="13.25" height="1.35" fill="#f6e8ee"/>
<rect x="184.9" y="428.10" width="13.25" height="1.35" fill="#f6e7ed"/>
<rect x="198.1" y="428.10" width="13.25" height="1.35" fill="#f6ecf2"/>
<rect x="211.3" y="428.10" width="13.25" height="1.35" fill="#c0c2e6"/>
<rect x="224.5" y="428.10" width="13.25" height="1.35" fill="#f4eaf2"/>
<rect x="237.7" y="428.10" width="13.25" height="1.35" fill="#c5c7e8"/>
<rect x="171.7" y="429.40" width="13.25" height="1.35" fill="#efe7f1"/>
<rect x="184.9" y="429.40" width="13.25" height="1.35" fill="#ede5f1"/>
<rect x="198.1" y="429.40" width="13.25" height="1.35" fill="#eee6f1"/>
<rect x="211.3" y="429.40" width="13.25" height="1.35" fill="#b9bbe3"/>
<rect x="224.5" y="429.40" width="13.25" height="1.35" fill="#e3deef"/>
<rect x="237.7" y="429.40" width="13.25" height="1.35" fill="#bbbde4"/>
<rect x="171.7" y="430.70" width="13.25" height="1.20" fill="#f29699"/>
<rect x="184.9" y="430.70" width="13.25" height="1.20" fill="#f2989b"/>
<rect x="198.1" y="430.70" width="13.25" height="1.20" fill="#f29699"/>
<rect x="211.3" y="430.70" width="13.25" height="1.20" fill="#f6d7dc"/>
<rect x="224.5" y="430.70" width="13.25" height="1.20" fill="#f5bbbe"/>
<rect x="237.7" y="430.70" width="13.25" height="1.20" fill="#f6d7dc"/>
<rect x="171.7" y="431.85" width="13.25" height="1.20" fill="#f4afb2"/>
<rect x="184.9" y="431.85" width="13.25" height="1.20" fill="#f4b2b5"/>
<rect x="198.1" y="431.85" width="13.25" height="1.20" fill="#f4aeb1"/>
<rect x="211.3" y="431.85" width="13.25" height="1.20" fill="#f6ebf1"/>
<rect x="224.5" y="431.85" width="13.25" height="1.20" fill="#f6cace"/>
<rect x="237.7" y="431.85" width="13.25" height="1.20" fill="#f6e6ec"/>
<rect x="171.7" y="433.00" width="13.25" height="1.20" fill="#f4b0b3"/>
<rect x="184.9" y="433.00" width="13.25" height="1.20" fill="#f4b4b7"/>
<rect x="198.1" y="433.00" width="13.25" height="1.20" fill="#f4b3b6"/>
<rect x="211.3" y="433.00" width="13.25" height="1.20" fill="#f3eaf2"/>
<rect x="224.5" y="433.00" width="13.25" height="1.20" fill="#f6d9de"/>
<rect x="237.7" y="433.00" width="13.25" height="1.20" fill="#ece5f0"/>
<rect x="171.7" y="434.15" width="13.25" height="1.20" fill="#f3a2a4"/>
<rect x="184.9" y="434.15" width="13.25" height="1.20" fill="#f3a1a3"/>
<rect x="198.1" y="434.15" width="13.25" height="1.20" fill="#f29da0"/>
<rect x="211.3" y="434.15" width="13.25" height="1.20" fill="#f6ebf1"/>
<rect x="224.5" y="434.15" width="13.25" height="1.20" fill="#f6ccd1"/>
<rect x="237.7" y="434.15" width="13.25" height="1.20" fill="#f4eaf2"/>
<rect x="171.7" y="435.30" width="13.25" height="1.20" fill="#f5c1c5"/>
<rect x="184.9" y="435.30" width="13.25" height="1.20" fill="#f5c0c4"/>
<rect x="198.1" y="435.30" width="13.25" height="1.20" fill="#f5bec1"/>
<rect x="211.3" y="435.30" width="13.25" height="1.20" fill="#f6c8cc"/>
<rect x="224.5" y="435.30" width="13.25" height="1.20" fill="#f6cace"/>
<rect x="237.7" y="435.30" width="13.25" height="1.20" fill="#f6c6c9"/>
<rect x="171.7" y="436.45" width="13.25" height="1.20" fill="#f6cdd1"/>
<rect x="184.9" y="436.45" width="13.25" height="1.20" fill="#f6cdd1"/>
<rect x="198.1" y="436.45" width="13.25" height="1.20" fill="#f6c9cd"/>
<rect x="211.3" y="436.45" width="13.25" height="1.20" fill="#f6ccd1"/>
<rect x="224.5" y="436.45" width="13.25" height="1.20" fill="#f6ced2"/>
<rect x="237.7" y="436.45" width="13.25" height="1.20" fill="#f6cdd1"/>
<rect x="171.7" y="437.60" width="13.25" height="1.20" fill="#f6c6ca"/>
<rect x="184.9" y="437.60" width="13.25" height="1.20" fill="#f6cace"/>
<rect x="198.1" y="437.60" width="13.25" height="1.20" fill="#f6c8cc"/>
<rect x="211.3" y="437.60" width="13.25" height="1.20" fill="#f6ced2"/>
<rect x="224.5" y="437.60" width="13.25" height="1.20" fill="#f6cacf"/>
<rect x="237.7" y="437.60" width="13.25" height="1.20" fill="#f6d0d4"/>
<rect x="171.7" y="438.75" width="13.25" height="1.20" fill="#f6e8ed"/>
<rect x="184.9" y="438.75" width="13.25" height="1.20" fill="#f6e8ee"/>
<rect x="198.1" y="438.75" width="13.25" height="1.20" fill="#f6e6ec"/>
<rect x="211.3" y="438.75" width="13.25" height="1.20" fill="#f6d5da"/>
<rect x="224.5" y="438.75" width="13.25" height="1.20" fill="#f6d9de"/>
<rect x="237.7" y="438.75" width="13.25" height="1.20" fill="#f6d9de"/>
<rect x="171.7" y="439.90" width="13.25" height="1.20" fill="#f6ccd1"/>
<rect x="184.9" y="439.90" width="13.25" height="1.20" fill="#f6cdd1"/>
<rect x="198.1" y="439.90" width="13.25" height="1.20" fill="#f6d6da"/>
<rect x="211.3" y="439.90" width="13.25" height="1.20" fill="#e7e1ef"/>
<rect x="224.5" y="439.90" width="13.25" height="1.20" fill="#f6ccd1"/>
<rect x="237.7" y="439.90" width="13.25" height="1.20" fill="#ddd9ee"/>
<rect x="171.7" y="441.05" width="13.25" height="1.20" fill="#f6cbcf"/>
<rect x="184.9" y="441.05" width="13.25" height="1.20" fill="#f6ced2"/>
<rect x="198.1" y="441.05" width="13.25" height="1.20" fill="#f6ced3"/>
<rect x="211.3" y="441.05" width="13.25" height="1.20" fill="#e3deef"/>
<rect x="224.5" y="441.05" width="13.25" height="1.20" fill="#f6c6ca"/>
<rect x="237.7" y="441.05" width="13.25" height="1.20" fill="#e7e1f0"/>
<rect x="171.7" y="442.20" width="13.25" height="1.20" fill="#f6d1d6"/>
<rect x="184.9" y="442.20" width="13.25" height="1.20" fill="#f6cdd2"/>
<rect x="198.1" y="442.20" width="13.25" height="1.20" fill="#f6d3d8"/>
<rect x="211.3" y="442.20" width="13.25" height="1.20" fill="#f1e8f1"/>
<rect x="224.5" y="442.20" width="13.25" height="1.20" fill="#f5c1c5"/>
<rect x="237.7" y="442.20" width="13.25" height="1.20" fill="#f6ecf2"/>
<rect x="171.7" y="443.35" width="13.25" height="1.20" fill="#f6c4c8"/>
<rect x="184.9" y="443.35" width="13.25" height="1.20" fill="#f6c3c7"/>
<rect x="198.1" y="443.35" width="13.25" height="1.20" fill="#f6c3c7"/>
<rect x="211.3" y="443.35" width="13.25" height="1.20" fill="#dfdbee"/>
<rect x="224.5" y="443.35" width="13.25" height="1.20" fill="#f6c7cb"/>
<rect x="237.7" y="443.35" width="13.25" height="1.20" fill="#e8e2f0"/>
<rect x="171.7" y="444.50" width="13.25" height="1.60" fill="#f6ebf1"/>
<rect x="184.9" y="444.50" width="13.25" height="1.60" fill="#f6ecf2"/>
<rect x="198.1" y="444.50" width="13.25" height="1.60" fill="#f6ecf2"/>
<rect x="211.3" y="444.50" width="13.25" height="1.60" fill="#d1d1ec"/>
<rect x="224.5" y="444.50" width="13.25" height="1.60" fill="#efe7f1"/>
<rect x="237.7" y="444.50" width="13.25" height="1.60" fill="#eae3f0"/>
<rect x="171.7" y="446.05" width="13.25" height="1.60" fill="#f6e9ef"/>
<rect x="184.9" y="446.05" width="13.25" height="1.60" fill="#f6e6ec"/>
<rect x="198.1" y="446.05" width="13.25" height="1.60" fill="#f6e7ed"/>
<rect x="211.3" y="446.05" width="13.25" height="1.60" fill="#cdceeb"/>
<rect x="224.5" y="446.05" width="13.25" height="1.60" fill="#e2ddef"/>
<rect x="237.7" y="446.05" width="13.25" height="1.60" fill="#e9e2f0"/>
<rect x="171.7" y="447.60" width="13.25" height="1.40" fill="#f4b1b4"/>
<rect x="184.9" y="447.60" width="13.25" height="1.40" fill="#f5b7ba"/>
<rect x="198.1" y="447.60" width="13.25" height="1.40" fill="#f4b5b8"/>
<rect x="211.3" y="447.60" width="13.25" height="1.40" fill="#e3deef"/>
<rect x="224.5" y="447.60" width="13.25" height="1.40" fill="#f6d0d4"/>
<rect x="237.7" y="447.60" width="13.25" height="1.40" fill="#e5e0ef"/>
<rect x="171.7" y="448.95" width="13.25" height="1.40" fill="#f18e90"/>
<rect x="184.9" y="448.95" width="13.25" height="1.40" fill="#f29ea0"/>
<rect x="198.1" y="448.95" width="13.25" height="1.40" fill="#f18f92"/>
<rect x="211.3" y="448.95" width="13.25" height="1.40" fill="#f6e5ea"/>
<rect x="224.5" y="448.95" width="13.25" height="1.40" fill="#f5b7ba"/>
<rect x="237.7" y="448.95" width="13.25" height="1.40" fill="#f6e7ec"/>
<rect x="171.7" y="450.30" width="13.25" height="1.40" fill="#f5bbbe"/>
<rect x="184.9" y="450.30" width="13.25" height="1.40" fill="#f5bbbe"/>
<rect x="198.1" y="450.30" width="13.25" height="1.40" fill="#f5bfc3"/>
<rect x="211.3" y="450.30" width="13.25" height="1.40" fill="#d0d0ec"/>
<rect x="224.5" y="450.30" width="13.25" height="1.40" fill="#f6dfe4"/>
<rect x="237.7" y="450.30" width="13.25" height="1.40" fill="#d8d6ed"/>
<rect x="171.7" y="451.65" width="13.25" height="1.40" fill="#f3a9ab"/>
<rect x="184.9" y="451.65" width="13.25" height="1.40" fill="#f4aaac"/>
<rect x="198.1" y="451.65" width="13.25" height="1.40" fill="#f3a4a6"/>
<rect x="211.3" y="451.65" width="13.25" height="1.40" fill="#efe7f1"/>
<rect x="224.5" y="451.65" width="13.25" height="1.40" fill="#f5bec1"/>
<rect x="237.7" y="451.65" width="13.25" height="1.40" fill="#eee6f1"/>
<rect x="171.7" y="453.00" width="13.25" height="1.40" fill="#f08487"/>
<rect x="184.9" y="453.00" width="13.25" height="1.40" fill="#f08084"/>
<rect x="198.1" y="453.00" width="13.25" height="1.40" fill="#f08184"/>
<rect x="211.3" y="453.00" width="13.25" height="1.40" fill="#d9d7ed"/>
<rect x="224.5" y="453.00" width="13.25" height="1.40" fill="#f6eaf0"/>
<rect x="237.7" y="453.00" width="13.25" height="1.40" fill="#e0dcee"/>
<rect x="171.7" y="454.35" width="13.25" height="1.40" fill="#f08588"/>
<rect x="184.9" y="454.35" width="13.25" height="1.40" fill="#f08285"/>
<rect x="198.1" y="454.35" width="13.25" height="1.40" fill="#f0878a"/>
<rect x="211.3" y="454.35" width="13.25" height="1.40" fill="#cfcfec"/>
<rect x="224.5" y="454.35" width="13.25" height="1.40" fill="#eae3f0"/>
<rect x="237.7" y="454.35" width="13.25" height="1.40" fill="#d2d1ec"/>
<rect x="171.7" y="455.70" width="13.25" height="1.40" fill="#ef7c80"/>
<rect x="184.9" y="455.70" width="13.25" height="1.40" fill="#ef7d80"/>
<rect x="198.1" y="455.70" width="13.25" height="1.40" fill="#ef7a7e"/>
<rect x="211.3" y="455.70" width="13.25" height="1.40" fill="#cfcfeb"/>
<rect x="224.5" y="455.70" width="13.25" height="1.40" fill="#dedbee"/>
<rect x="237.7" y="455.70" width="13.25" height="1.40" fill="#cacbea"/>
<rect x="171.7" y="457.05" width="13.25" height="1.40" fill="#f08285"/>
<rect x="184.9" y="457.05" width="13.25" height="1.40" fill="#f0898c"/>
<rect x="198.1" y="457.05" width="13.25" height="1.40" fill="#f08285"/>
<rect x="211.3" y="457.05" width="13.25" height="1.40" fill="#d4d3ec"/>
<rect x="224.5" y="457.05" width="13.25" height="1.40" fill="#eee6f1"/>
<rect x="237.7" y="457.05" width="13.25" height="1.40" fill="#dad7ed"/>
<rect x="171.7" y="458.40" width="13.25" height="1.20" fill="#f6d0d5"/>
<rect x="184.9" y="458.40" width="13.25" height="1.20" fill="#f4b2b4"/>
<rect x="198.1" y="458.40" width="13.25" height="1.20" fill="#f4b3b6"/>
<rect x="211.3" y="458.40" width="13.25" height="1.20" fill="#989cd6"/>
<rect x="224.5" y="458.40" width="13.25" height="1.20" fill="#cfcfec"/>
<rect x="237.7" y="458.40" width="13.25" height="1.20" fill="#9599d5"/>
<rect x="171.7" y="459.55" width="13.25" height="1.20" fill="#f6c6ca"/>
<rect x="184.9" y="459.55" width="13.25" height="1.20" fill="#f4abae"/>
<rect x="198.1" y="459.55" width="13.25" height="1.20" fill="#f3a5a7"/>
<rect x="211.3" y="459.55" width="13.25" height="1.20" fill="#989cd6"/>
<rect x="224.5" y="459.55" width="13.25" height="1.20" fill="#c7c8e9"/>
<rect x="237.7" y="459.55" width="13.25" height="1.20" fill="#9b9fd7"/>
<rect x="171.7" y="460.70" width="13.25" height="1.20" fill="#f6ced2"/>
<rect x="184.9" y="460.70" width="13.25" height="1.20" fill="#f5b8bb"/>
<rect x="198.1" y="460.70" width="13.25" height="1.20" fill="#f4b1b4"/>
<rect x="211.3" y="460.70" width="13.25" height="1.20" fill="#8287cb"/>
<rect x="224.5" y="460.70" width="13.25" height="1.20" fill="#bcbee4"/>
<rect x="237.7" y="460.70" width="13.25" height="1.20" fill="#898ecf"/>
<rect x="171.7" y="461.85" width="13.25" height="1.20" fill="#f6dbe0"/>
<rect x="184.9" y="461.85" width="13.25" height="1.20" fill="#f5bfc2"/>
<rect x="198.1" y="461.85" width="13.25" height="1.20" fill="#f5bfc3"/>
<rect x="211.3" y="461.85" width="13.25" height="1.20" fill="#8e93d1"/>
<rect x="224.5" y="461.85" width="13.25" height="1.20" fill="#c7c8e9"/>
<rect x="237.7" y="461.85" width="13.25" height="1.20" fill="#9a9ed7"/>
<rect x="171.7" y="463.00" width="13.25" height="1.20" fill="#f3a2a4"/>
<rect x="184.9" y="463.00" width="13.25" height="1.20" fill="#f5bcc0"/>
<rect x="198.1" y="463.00" width="13.25" height="1.20" fill="#f5bbbe"/>
<rect x="211.3" y="463.00" width="13.25" height="1.20" fill="#f6eaf0"/>
<rect x="224.5" y="463.00" width="13.25" height="1.20" fill="#f6e6ec"/>
<rect x="237.7" y="463.00" width="13.25" height="1.20" fill="#e6e0ef"/>
<rect x="171.7" y="464.15" width="13.25" height="1.20" fill="#f19396"/>
<rect x="184.9" y="464.15" width="13.25" height="1.20" fill="#f4b3b6"/>
<rect x="198.1" y="464.15" width="13.25" height="1.20" fill="#f5b8bb"/>
<rect x="211.3" y="464.15" width="13.25" height="1.20" fill="#f6e5ea"/>
<rect x="224.5" y="464.15" width="13.25" height="1.20" fill="#f6e2e8"/>
<rect x="237.7" y="464.15" width="13.25" height="1.20" fill="#ece4f0"/>
<rect x="171.7" y="465.30" width="13.25" height="1.20" fill="#f5c1c4"/>
<rect x="184.9" y="465.30" width="13.25" height="1.20" fill="#f6d8dd"/>
<rect x="198.1" y="465.30" width="13.25" height="1.20" fill="#f6d9de"/>
<rect x="211.3" y="465.30" width="13.25" height="1.20" fill="#dad7ed"/>
<rect x="224.5" y="465.30" width="13.25" height="1.20" fill="#d1d1ec"/>
<rect x="237.7" y="465.30" width="13.25" height="1.20" fill="#bec0e5"/>
<rect x="171.7" y="466.45" width="13.25" height="1.20" fill="#f4adb0"/>
<rect x="184.9" y="466.45" width="13.25" height="1.20" fill="#f6c7cb"/>
<rect x="198.1" y="466.45" width="13.25" height="1.20" fill="#f6cdd2"/>
<rect x="211.3" y="466.45" width="13.25" height="1.20" fill="#dfdbee"/>
<rect x="224.5" y="466.45" width="13.25" height="1.20" fill="#e1dcee"/>
<rect x="237.7" y="466.45" width="13.25" height="1.20" fill="#cbcceb"/>
<rect x="171.7" y="467.60" width="13.25" height="1.20" fill="#f0e8f1"/>
<rect x="184.9" y="467.60" width="13.25" height="1.20" fill="#f6ecf2"/>
<rect x="198.1" y="467.60" width="13.25" height="1.20" fill="#f5ebf2"/>
<rect x="211.3" y="467.60" width="13.25" height="1.20" fill="#e5dfef"/>
<rect x="224.5" y="467.60" width="13.25" height="1.20" fill="#ddd9ee"/>
<rect x="237.7" y="467.60" width="13.25" height="1.20" fill="#dddaee"/>
<rect x="171.7" y="468.75" width="13.25" height="1.20" fill="#f6e4ea"/>
<rect x="184.9" y="468.75" width="13.25" height="1.20" fill="#f6e0e5"/>
<rect x="198.1" y="468.75" width="13.25" height="1.20" fill="#f6e3e8"/>
<rect x="211.3" y="468.75" width="13.25" height="1.20" fill="#f3eaf2"/>
<rect x="224.5" y="468.75" width="13.25" height="1.20" fill="#efe7f1"/>
<rect x="237.7" y="468.75" width="13.25" height="1.20" fill="#eee6f1"/>
<rect x="171.7" y="469.90" width="13.25" height="1.29" fill="#ee7175"/>
<rect x="184.9" y="469.90" width="13.25" height="1.29" fill="#ee7275"/>
<rect x="198.1" y="469.90" width="13.25" height="1.29" fill="#ee7377"/>
<rect x="211.3" y="469.90" width="13.25" height="1.29" fill="#cbcceb"/>
<rect x="224.5" y="469.90" width="13.25" height="1.29" fill="#e4dfef"/>
<rect x="237.7" y="469.90" width="13.25" height="1.29" fill="#d2d1ec"/>
<rect x="171.7" y="471.14" width="13.25" height="1.29" fill="#eb666b"/>
<rect x="184.9" y="471.14" width="13.25" height="1.29" fill="#ea6066"/>
<rect x="198.1" y="471.14" width="13.25" height="1.29" fill="#e95e64"/>
<rect x="211.3" y="471.14" width="13.25" height="1.29" fill="#c6c8e9"/>
<rect x="224.5" y="471.14" width="13.25" height="1.29" fill="#e2ddef"/>
<rect x="237.7" y="471.14" width="13.25" height="1.29" fill="#d1d1ec"/>
<rect x="171.7" y="472.38" width="13.25" height="1.29" fill="#ef8083"/>
<rect x="184.9" y="472.38" width="13.25" height="1.29" fill="#ef7d81"/>
<rect x="198.1" y="472.38" width="13.25" height="1.29" fill="#ef797c"/>
<rect x="211.3" y="472.38" width="13.25" height="1.29" fill="#b8bae3"/>
<rect x="224.5" y="472.38" width="13.25" height="1.29" fill="#dedaee"/>
<rect x="237.7" y="472.38" width="13.25" height="1.29" fill="#bdbfe5"/>
<rect x="171.7" y="473.62" width="13.25" height="1.29" fill="#ea6368"/>
<rect x="184.9" y="473.62" width="13.25" height="1.29" fill="#eb666b"/>
<rect x="198.1" y="473.62" width="13.25" height="1.29" fill="#eb6469"/>
<rect x="211.3" y="473.62" width="13.25" height="1.29" fill="#bcbee5"/>
<rect x="224.5" y="473.62" width="13.25" height="1.29" fill="#d9d6ed"/>
<rect x="237.7" y="473.62" width="13.25" height="1.29" fill="#c4c5e8"/>
<rect x="171.7" y="474.86" width="13.25" height="1.29" fill="#ea6166"/>
<rect x="184.9" y="474.86" width="13.25" height="1.29" fill="#ed6b70"/>
<rect x="198.1" y="474.86" width="13.25" height="1.29" fill="#ec686d"/>
<rect x="211.3" y="474.86" width="13.25" height="1.29" fill="#d5d4ec"/>
<rect x="224.5" y="474.86" width="13.25" height="1.29" fill="#e9e2f0"/>
<rect x="237.7" y="474.86" width="13.25" height="1.29" fill="#d4d3ec"/>
<rect x="171.7" y="476.10" width="13.25" height="1.35" fill="#f2989a"/>
<rect x="184.9" y="476.10" width="13.25" height="1.35" fill="#f19295"/>
<rect x="198.1" y="476.10" width="13.25" height="1.35" fill="#f29799"/>
<rect x="211.3" y="476.10" width="13.25" height="1.35" fill="#f6e6ec"/>
<rect x="224.5" y="476.10" width="13.25" height="1.35" fill="#f6e6eb"/>
<rect x="237.7" y="476.10" width="13.25" height="1.35" fill="#f6e7ed"/>
<rect x="171.7" y="477.40" width="13.25" height="1.35" fill="#f4abad"/>
<rect x="184.9" y="477.40" width="13.25" height="1.35" fill="#f3a5a7"/>
<rect x="198.1" y="477.40" width="13.25" height="1.35" fill="#f3a8aa"/>
<rect x="211.3" y="477.40" width="13.25" height="1.35" fill="#f5ebf2"/>
<rect x="224.5" y="477.40" width="13.25" height="1.35" fill="#f6eaf0"/>
<rect x="237.7" y="477.40" width="13.25" height="1.35" fill="#f6eaf0"/>
<rect x="171.7" y="478.70" width="13.25" height="1.35" fill="#f6d6da"/>
<rect x="184.9" y="478.70" width="13.25" height="1.35" fill="#f6cfd3"/>
<rect x="198.1" y="478.70" width="13.25" height="1.35" fill="#f6d8dd"/>
<rect x="211.3" y="478.70" width="13.25" height="1.35" fill="#ceceeb"/>
<rect x="224.5" y="478.70" width="13.25" height="1.35" fill="#cccdeb"/>
<rect x="237.7" y="478.70" width="13.25" height="1.35" fill="#cccdeb"/>
<rect x="171.7" y="480.00" width="13.25" height="1.20" fill="#f4b3b6"/>
<rect x="184.9" y="480.00" width="13.25" height="1.20" fill="#f4b3b6"/>
<rect x="198.1" y="480.00" width="13.25" height="1.20" fill="#f4b2b5"/>
<rect x="211.3" y="480.00" width="13.25" height="1.20" fill="#c3c4e7"/>
<rect x="224.5" y="480.00" width="13.25" height="1.20" fill="#c3c5e8"/>
<rect x="237.7" y="480.00" width="13.25" height="1.20" fill="#c7c9e9"/>
<rect x="171.7" y="481.15" width="13.25" height="1.20" fill="#f6c8cc"/>
<rect x="184.9" y="481.15" width="13.25" height="1.20" fill="#f6c8cc"/>
<rect x="198.1" y="481.15" width="13.25" height="1.20" fill="#f6c7cb"/>
<rect x="211.3" y="481.15" width="13.25" height="1.20" fill="#a0a4d9"/>
<rect x="224.5" y="481.15" width="13.25" height="1.20" fill="#a1a4da"/>
<rect x="237.7" y="481.15" width="13.25" height="1.20" fill="#a5a8db"/>
<rect x="171.7" y="482.30" width="13.25" height="1.35" fill="#b1b3e0"/>
<rect x="184.9" y="482.30" width="13.25" height="1.35" fill="#b1b3e0"/>
<rect x="198.1" y="482.30" width="13.25" height="1.35" fill="#b3b6e1"/>
<rect x="211.3" y="482.30" width="13.25" height="1.35" fill="#8489cc"/>
<rect x="224.5" y="482.30" width="13.25" height="1.35" fill="#bbbde4"/>
<rect x="237.7" y="482.30" width="13.25" height="1.35" fill="#b8bae3"/>
<rect x="171.7" y="483.60" width="13.25" height="1.35" fill="#cccdeb"/>
<rect x="184.9" y="483.60" width="13.25" height="1.35" fill="#cbccea"/>
<rect x="198.1" y="483.60" width="13.25" height="1.35" fill="#cccdeb"/>
<rect x="211.3" y="483.60" width="13.25" height="1.35" fill="#8d91d0"/>
<rect x="224.5" y="483.60" width="13.25" height="1.35" fill="#bec0e5"/>
<rect x="237.7" y="483.60" width="13.25" height="1.35" fill="#c2c3e7"/>
<rect x="171.7" y="484.90" width="13.25" height="1.35" fill="#d3d2ec"/>
<rect x="184.9" y="484.90" width="13.25" height="1.35" fill="#cdceeb"/>
<rect x="198.1" y="484.90" width="13.25" height="1.35" fill="#ceceeb"/>
<rect x="211.3" y="484.90" width="13.25" height="1.35" fill="#9da1d8"/>
<rect x="224.5" y="484.90" width="13.25" height="1.35" fill="#d6d4ed"/>
<rect x="237.7" y="484.90" width="13.25" height="1.35" fill="#d0d0ec"/>
<rect x="171.7" y="486.20" width="13.25" height="1.20" fill="#e5e0ef"/>
<rect x="184.9" y="486.20" width="13.25" height="1.20" fill="#cfcfeb"/>
<rect x="198.1" y="486.20" width="13.25" height="1.20" fill="#e9e2f0"/>
<rect x="211.3" y="486.20" width="13.25" height="1.20" fill="#a2a5da"/>
<rect x="224.5" y="486.20" width="13.25" height="1.20" fill="#ede6f1"/>
<rect x="237.7" y="486.20" width="13.25" height="1.20" fill="#d5d4ec"/>
<rect x="171.7" y="487.35" width="13.25" height="1.20" fill="#dfdbee"/>
<rect x="184.9" y="487.35" width="13.25" height="1.20" fill="#c6c7e8"/>
<rect x="198.1" y="487.35" width="13.25" height="1.20" fill="#e1ddef"/>
<rect x="211.3" y="487.35" width="13.25" height="1.20" fill="#898ece"/>
<rect x="224.5" y="487.35" width="13.25" height="1.20" fill="#d5d3ec"/>
<rect x="237.7" y="487.35" width="13.25" height="1.20" fill="#bbbde4"/>
<rect x="171.7" y="488.50" width="13.25" height="1.20" fill="#dedbee"/>
<rect x="184.9" y="488.50" width="13.25" height="1.20" fill="#c1c3e7"/>
<rect x="198.1" y="488.50" width="13.25" height="1.20" fill="#e0dcee"/>
<rect x="211.3" y="488.50" width="13.25" height="1.20" fill="#9498d4"/>
<rect x="224.5" y="488.50" width="13.25" height="1.20" fill="#d6d4ed"/>
<rect x="237.7" y="488.50" width="13.25" height="1.20" fill="#c4c6e8"/>
<rect x="171.7" y="489.65" width="13.25" height="1.20" fill="#d8d6ed"/>
<rect x="184.9" y="489.65" width="13.25" height="1.20" fill="#c0c2e6"/>
<rect x="198.1" y="489.65" width="13.25" height="1.20" fill="#dad7ed"/>
<rect x="211.3" y="489.65" width="13.25" height="1.20" fill="#9397d3"/>
<rect x="224.5" y="489.65" width="13.25" height="1.20" fill="#e0dbee"/>
<rect x="237.7" y="489.65" width="13.25" height="1.20" fill="#c3c5e7"/>
<rect x="171.7" y="490.80" width="13.25" height="1.32" fill="#d7d5ed"/>
<rect x="184.9" y="490.80" width="13.25" height="1.32" fill="#d5d4ed"/>
<rect x="198.1" y="490.80" width="13.25" height="1.32" fill="#d9d6ed"/>
<rect x="211.3" y="490.80" width="13.25" height="1.32" fill="#dbd8ee"/>
<rect x="224.5" y="490.80" width="13.25" height="1.32" fill="#d9d7ed"/>
<rect x="237.7" y="490.80" width="13.25" height="1.32" fill="#d6d4ed"/>
<rect x="171.7" y="492.07" width="13.25" height="1.32" fill="#d0d0ec"/>
<rect x="184.9" y="492.07" width="13.25" height="1.32" fill="#d2d2ec"/>
<rect x="198.1" y="492.07" width="13.25" height="1.32" fill="#d3d2ec"/>
<rect x="211.3" y="492.07" width="13.25" height="1.32" fill="#c1c2e6"/>
<rect x="224.5" y="492.07" width="13.25" height="1.32" fill="#caccea"/>
<rect x="237.7" y="492.07" width="13.25" height="1.32" fill="#cbccea"/>
<rect x="171.7" y="493.33" width="13.25" height="1.32" fill="#cfcfec"/>
<rect x="184.9" y="493.33" width="13.25" height="1.32" fill="#cacbea"/>
<rect x="198.1" y="493.33" width="13.25" height="1.32" fill="#c8caea"/>
<rect x="211.3" y="493.33" width="13.25" height="1.32" fill="#cdcdeb"/>
<rect x="224.5" y="493.33" width="13.25" height="1.32" fill="#c7c8e9"/>
<rect x="237.7" y="493.33" width="13.25" height="1.32" fill="#c7c8e9"/>
<rect x="171.7" y="494.60" width="13.25" height="1.40" fill="#f6dce1"/>
<rect x="184.9" y="494.60" width="13.25" height="1.40" fill="#f6dbe0"/>
<rect x="198.1" y="494.60" width="13.25" height="1.40" fill="#f6cdd1"/>
<rect x="211.3" y="494.60" width="13.25" height="1.40" fill="#aeb1df"/>
<rect x="224.5" y="494.60" width="13.25" height="1.40" fill="#e0dcee"/>
<rect x="237.7" y="494.60" width="13.25" height="1.40" fill="#abaede"/>
<rect x="171.7" y="495.95" width="13.25" height="1.40" fill="#d9d7ed"/>
<rect x="184.9" y="495.95" width="13.25" height="1.40" fill="#d3d2ec"/>
<rect x="198.1" y="495.95" width="13.25" height="1.40" fill="#e8e2f0"/>
<rect x="211.3" y="495.95" width="13.25" height="1.40" fill="#868acd"/>
<rect x="224.5" y="495.95" width="13.25" height="1.40" fill="#bbbde4"/>
<rect x="237.7" y="495.95" width="13.25" height="1.40" fill="#868bcd"/>
<rect x="171.7" y="497.30" width="13.25" height="1.40" fill="#e9e3f0"/>
<rect x="184.9" y="497.30" width="13.25" height="1.40" fill="#ebe4f0"/>
<rect x="198.1" y="497.30" width="13.25" height="1.40" fill="#f6dadf"/>
<rect x="211.3" y="497.30" width="13.25" height="1.40" fill="#aaaddd"/>
<rect x="224.5" y="497.30" width="13.25" height="1.40" fill="#dcd9ee"/>
<rect x="237.7" y="497.30" width="13.25" height="1.40" fill="#abaede"/>
<rect x="171.7" y="498.65" width="13.25" height="1.40" fill="#e8e2f0"/>
<rect x="184.9" y="498.65" width="13.25" height="1.40" fill="#e2ddef"/>
<rect x="198.1" y="498.65" width="13.25" height="1.40" fill="#f6e8ee"/>
<rect x="211.3" y="498.65" width="13.25" height="1.40" fill="#9fa2d9"/>
<rect x="224.5" y="498.65" width="13.25" height="1.40" fill="#dbd8ee"/>
<rect x="237.7" y="498.65" width="13.25" height="1.40" fill="#abaddd"/>
<rect x="171.7" y="500.00" width="13.25" height="1.20" fill="#f6e3e8"/>
<rect x="184.9" y="500.00" width="13.25" height="1.20" fill="#f6e6ec"/>
<rect x="198.1" y="500.00" width="13.25" height="1.20" fill="#f6e4ea"/>
<rect x="211.3" y="500.00" width="13.25" height="1.20" fill="#b8bbe3"/>
<rect x="224.5" y="500.00" width="13.25" height="1.20" fill="#dedaee"/>
<rect x="237.7" y="500.00" width="13.25" height="1.20" fill="#e6e0ef"/>
<rect x="171.7" y="501.15" width="13.25" height="1.20" fill="#f6e2e8"/>
<rect x="184.9" y="501.15" width="13.25" height="1.20" fill="#f2e9f1"/>
<rect x="198.1" y="501.15" width="13.25" height="1.20" fill="#f6e9ee"/>
<rect x="211.3" y="501.15" width="13.25" height="1.20" fill="#a9acdd"/>
<rect x="224.5" y="501.15" width="13.25" height="1.20" fill="#dbd8ed"/>
<rect x="237.7" y="501.15" width="13.25" height="1.20" fill="#dcd9ee"/>
<rect x="171.7" y="502.30" width="13.25" height="1.20" fill="#f6e0e5"/>
<rect x="184.9" y="502.30" width="13.25" height="1.20" fill="#f6e2e8"/>
<rect x="198.1" y="502.30" width="13.25" height="1.20" fill="#f6e3e8"/>
<rect x="211.3" y="502.30" width="13.25" height="1.20" fill="#979bd6"/>
<rect x="224.5" y="502.30" width="13.25" height="1.20" fill="#cacbea"/>
<rect x="237.7" y="502.30" width="13.25" height="1.20" fill="#d5d4ec"/>
<rect x="171.7" y="503.45" width="13.25" height="1.20" fill="#e7e1ef"/>
<rect x="184.9" y="503.45" width="13.25" height="1.20" fill="#e6e0ef"/>
<rect x="198.1" y="503.45" width="13.25" height="1.20" fill="#e6e1ef"/>
<rect x="211.3" y="503.45" width="13.25" height="1.20" fill="#9fa2d9"/>
<rect x="224.5" y="503.45" width="13.25" height="1.20" fill="#d3d2ec"/>
<rect x="237.7" y="503.45" width="13.25" height="1.20" fill="#d1d1ec"/>
<rect x="171.7" y="504.60" width="13.25" height="1.40" fill="#e3deef"/>
<rect x="184.9" y="504.60" width="13.25" height="1.40" fill="#ece5f0"/>
<rect x="198.1" y="504.60" width="13.25" height="1.40" fill="#e4deef"/>
<rect x="211.3" y="504.60" width="13.25" height="1.40" fill="#cfcfeb"/>
<rect x="224.5" y="504.60" width="13.25" height="1.40" fill="#cbcceb"/>
<rect x="237.7" y="504.60" width="13.25" height="1.40" fill="#cbcceb"/>
<rect x="171.7" y="505.95" width="13.25" height="1.40" fill="#f5ebf2"/>
<rect x="184.9" y="505.95" width="13.25" height="1.40" fill="#f6ebf1"/>
<rect x="198.1" y="505.95" width="13.25" height="1.40" fill="#f6ecf2"/>
<rect x="211.3" y="505.95" width="13.25" height="1.40" fill="#dddaee"/>
<rect x="224.5" y="505.95" width="13.25" height="1.40" fill="#dfdbee"/>
<rect x="237.7" y="505.95" width="13.25" height="1.40" fill="#ddd9ee"/>
<rect x="171.7" y="507.30" width="13.25" height="1.40" fill="#f5ebf2"/>
<rect x="184.9" y="507.30" width="13.25" height="1.40" fill="#f6eaf0"/>
<rect x="198.1" y="507.30" width="13.25" height="1.40" fill="#f6e5ea"/>
<rect x="211.3" y="507.30" width="13.25" height="1.40" fill="#dedaee"/>
<rect x="224.5" y="507.30" width="13.25" height="1.40" fill="#e1ddef"/>
<rect x="237.7" y="507.30" width="13.25" height="1.40" fill="#e4deef"/>
<rect x="171.7" y="508.65" width="13.25" height="1.40" fill="#ebe4f0"/>
<rect x="184.9" y="508.65" width="13.25" height="1.40" fill="#e8e2f0"/>
<rect x="198.1" y="508.65" width="13.25" height="1.40" fill="#e4deef"/>
<rect x="211.3" y="508.65" width="13.25" height="1.40" fill="#d2d1ec"/>
<rect x="224.5" y="508.65" width="13.25" height="1.40" fill="#d2d2ec"/>
<rect x="237.7" y="508.65" width="13.25" height="1.40" fill="#d0d0ec"/>
<rect x="171.7" y="510.00" width="13.25" height="1.60" fill="#afb1df"/>
<rect x="184.9" y="510.00" width="13.25" height="1.60" fill="#acafde"/>
<rect x="198.1" y="510.00" width="13.25" height="1.60" fill="#a5a8db"/>
<rect x="211.3" y="510.00" width="13.25" height="1.60" fill="#eae3f0"/>
<rect x="224.5" y="510.00" width="13.25" height="1.60" fill="#bfc1e6"/>
<rect x="237.7" y="510.00" width="13.25" height="1.60" fill="#c4c6e8"/>
<rect x="171.7" y="511.55" width="13.25" height="1.60" fill="#b1b4e0"/>
<rect x="184.9" y="511.55" width="13.25" height="1.60" fill="#b7b9e2"/>
<rect x="198.1" y="511.55" width="13.25" height="1.60" fill="#b2b5e1"/>
<rect x="211.3" y="511.55" width="13.25" height="1.60" fill="#ddd9ee"/>
<rect x="224.5" y="511.55" width="13.25" height="1.60" fill="#acafde"/>
<rect x="237.7" y="511.55" width="13.25" height="1.60" fill="#a5a8db"/>
<rect x="171.7" y="513.10" width="13.25" height="1.20" fill="#8b90cf"/>
<rect x="184.9" y="513.10" width="13.25" height="1.20" fill="#858acc"/>
<rect x="198.1" y="513.10" width="13.25" height="1.20" fill="#888dce"/>
<rect x="211.3" y="513.10" width="13.25" height="1.20" fill="#e9e2f0"/>
<rect x="224.5" y="513.10" width="13.25" height="1.20" fill="#bebfe5"/>
<rect x="237.7" y="513.10" width="13.25" height="1.20" fill="#b3b6e1"/>
<rect x="171.7" y="514.25" width="13.25" height="1.20" fill="#9a9dd7"/>
<rect x="184.9" y="514.25" width="13.25" height="1.20" fill="#989cd6"/>
<rect x="198.1" y="514.25" width="13.25" height="1.20" fill="#989cd6"/>
<rect x="211.3" y="514.25" width="13.25" height="1.20" fill="#f2e9f1"/>
<rect x="224.5" y="514.25" width="13.25" height="1.20" fill="#d3d2ec"/>
<rect x="237.7" y="514.25" width="13.25" height="1.20" fill="#d1d0ec"/>
<rect x="171.7" y="515.40" width="13.25" height="1.20" fill="#9a9ed7"/>
<rect x="184.9" y="515.40" width="13.25" height="1.20" fill="#9498d4"/>
<rect x="198.1" y="515.40" width="13.25" height="1.20" fill="#979bd5"/>
<rect x="211.3" y="515.40" width="13.25" height="1.20" fill="#f6e5eb"/>
<rect x="224.5" y="515.40" width="13.25" height="1.20" fill="#cfcfeb"/>
<rect x="237.7" y="515.40" width="13.25" height="1.20" fill="#cccdeb"/>
<rect x="171.7" y="516.55" width="13.25" height="1.20" fill="#8b90cf"/>
<rect x="184.9" y="516.55" width="13.25" height="1.20" fill="#8f93d1"/>
<rect x="198.1" y="516.55" width="13.25" height="1.20" fill="#8e93d1"/>
<rect x="211.3" y="516.55" width="13.25" height="1.20" fill="#ede6f1"/>
<rect x="224.5" y="516.55" width="13.25" height="1.20" fill="#c1c3e7"/>
<rect x="237.7" y="516.55" width="13.25" height="1.20" fill="#c6c7e8"/>
<rect x="171.7" y="517.70" width="13.25" height="1.32" fill="#e5e0ef"/>
<rect x="184.9" y="517.70" width="13.25" height="1.32" fill="#d9d6ed"/>
<rect x="198.1" y="517.70" width="13.25" height="1.32" fill="#dfdbee"/>
<rect x="211.3" y="517.70" width="13.25" height="1.32" fill="#efe7f1"/>
<rect x="224.5" y="517.70" width="13.25" height="1.32" fill="#d8d6ed"/>
<rect x="237.7" y="517.70" width="13.25" height="1.32" fill="#dad7ed"/>
<rect x="171.7" y="518.97" width="13.25" height="1.32" fill="#d4d3ec"/>
<rect x="184.9" y="518.97" width="13.25" height="1.32" fill="#d8d6ed"/>
<rect x="198.1" y="518.97" width="13.25" height="1.32" fill="#dad7ed"/>
<rect x="211.3" y="518.97" width="13.25" height="1.32" fill="#f2e9f1"/>
<rect x="224.5" y="518.97" width="13.25" height="1.32" fill="#dddaee"/>
<rect x="237.7" y="518.97" width="13.25" height="1.32" fill="#d3d2ec"/>
<rect x="171.7" y="520.23" width="13.25" height="1.32" fill="#d2d2ec"/>
<rect x="184.9" y="520.23" width="13.25" height="1.32" fill="#d9d7ed"/>
<rect x="198.1" y="520.23" width="13.25" height="1.32" fill="#d8d6ed"/>
<rect x="211.3" y="520.23" width="13.25" height="1.32" fill="#e5e0ef"/>
<rect x="224.5" y="520.23" width="13.25" height="1.32" fill="#cacbea"/>
<rect x="237.7" y="520.23" width="13.25" height="1.32" fill="#c7c9e9"/>
<rect x="171.7" y="521.50" width="13.25" height="1.35" fill="#dad7ed"/>
<rect x="184.9" y="521.50" width="13.25" height="1.35" fill="#d9d7ed"/>
<rect x="198.1" y="521.50" width="13.25" height="1.35" fill="#d9d6ed"/>
<rect x="211.3" y="521.50" width="13.25" height="1.35" fill="#9599d4"/>
<rect x="224.5" y="521.50" width="13.25" height="1.35" fill="#cdceeb"/>
<rect x="237.7" y="521.50" width="13.25" height="1.35" fill="#c1c3e7"/>
<rect x="171.7" y="522.80" width="13.25" height="1.35" fill="#e2deef"/>
<rect x="184.9" y="522.80" width="13.25" height="1.35" fill="#e0dcee"/>
<rect x="198.1" y="522.80" width="13.25" height="1.35" fill="#e7e1ef"/>
<rect x="211.3" y="522.80" width="13.25" height="1.35" fill="#b6b9e2"/>
<rect x="224.5" y="522.80" width="13.25" height="1.35" fill="#e7e1f0"/>
<rect x="237.7" y="522.80" width="13.25" height="1.35" fill="#e6e0ef"/>
<rect x="171.7" y="524.10" width="13.25" height="1.35" fill="#c0c2e6"/>
<rect x="184.9" y="524.10" width="13.25" height="1.35" fill="#c5c7e8"/>
<rect x="198.1" y="524.10" width="13.25" height="1.35" fill="#c2c3e7"/>
<rect x="211.3" y="524.10" width="13.25" height="1.35" fill="#9196d3"/>
<rect x="224.5" y="524.10" width="13.25" height="1.35" fill="#c9cbea"/>
<rect x="237.7" y="524.10" width="13.25" height="1.35" fill="#c7c8e9"/>
<rect x="171.7" y="525.40" width="13.25" height="1.60" fill="#f4b0b2"/>
<rect x="184.9" y="525.40" width="13.25" height="1.60" fill="#f4aeb1"/>
<rect x="198.1" y="525.40" width="13.25" height="1.60" fill="#f4abae"/>
<rect x="211.3" y="525.40" width="13.25" height="1.60" fill="#d1d1ec"/>
<rect x="224.5" y="525.40" width="13.25" height="1.60" fill="#e5dfef"/>
<rect x="237.7" y="525.40" width="13.25" height="1.60" fill="#cdceeb"/>
<rect x="171.7" y="526.95" width="13.25" height="1.60" fill="#f3a5a7"/>
<rect x="184.9" y="526.95" width="13.25" height="1.60" fill="#f3aaac"/>
<rect x="198.1" y="526.95" width="13.25" height="1.60" fill="#f3a7a9"/>
<rect x="211.3" y="526.95" width="13.25" height="1.60" fill="#d0d0ec"/>
<rect x="224.5" y="526.95" width="13.25" height="1.60" fill="#ece4f0"/>
<rect x="237.7" y="526.95" width="13.25" height="1.60" fill="#d3d2ec"/>
<rect x="171.7" y="528.50" width="13.25" height="1.20" fill="#f5bcbf"/>
<rect x="184.9" y="528.50" width="13.25" height="1.20" fill="#f5bdc1"/>
<rect x="198.1" y="528.50" width="13.25" height="1.20" fill="#f5c1c4"/>
<rect x="211.3" y="528.50" width="13.25" height="1.20" fill="#bec0e5"/>
<rect x="224.5" y="528.50" width="13.25" height="1.20" fill="#bdbfe5"/>
<rect x="237.7" y="528.50" width="13.25" height="1.20" fill="#b9bbe3"/>
<rect x="171.7" y="529.65" width="13.25" height="1.20" fill="#f3a2a4"/>
<rect x="184.9" y="529.65" width="13.25" height="1.20" fill="#f2999c"/>
<rect x="198.1" y="529.65" width="13.25" height="1.20" fill="#f29ea1"/>
<rect x="211.3" y="529.65" width="13.25" height="1.20" fill="#e4dfef"/>
<rect x="224.5" y="529.65" width="13.25" height="1.20" fill="#e0dcee"/>
<rect x="237.7" y="529.65" width="13.25" height="1.20" fill="#e0dcee"/>
<rect x="171.7" y="530.80" width="13.25" height="1.20" fill="#f4acaf"/>
<rect x="184.9" y="530.80" width="13.25" height="1.20" fill="#f3a6a8"/>
<rect x="198.1" y="530.80" width="13.25" height="1.20" fill="#f3a9ab"/>
<rect x="211.3" y="530.80" width="13.25" height="1.20" fill="#c4c6e8"/>
<rect x="224.5" y="530.80" width="13.25" height="1.20" fill="#c5c7e8"/>
<rect x="237.7" y="530.80" width="13.25" height="1.20" fill="#c0c1e6"/>
<rect x="171.7" y="531.95" width="13.25" height="1.20" fill="#f6c6ca"/>
<rect x="184.9" y="531.95" width="13.25" height="1.20" fill="#f6c2c6"/>
<rect x="198.1" y="531.95" width="13.25" height="1.20" fill="#f6c9cd"/>
<rect x="211.3" y="531.95" width="13.25" height="1.20" fill="#aaaddd"/>
<rect x="224.5" y="531.95" width="13.25" height="1.20" fill="#a7aadc"/>
<rect x="237.7" y="531.95" width="13.25" height="1.20" fill="#acafde"/>
<rect x="171.7" y="533.10" width="13.25" height="1.35" fill="#f6d0d4"/>
<rect x="184.9" y="533.10" width="13.25" height="1.35" fill="#f6ccd0"/>
<rect x="198.1" y="533.10" width="13.25" height="1.35" fill="#f6d2d6"/>
<rect x="211.3" y="533.10" width="13.25" height="1.35" fill="#a1a4d9"/>
<rect x="224.5" y="533.10" width="13.25" height="1.35" fill="#d9d7ed"/>
<rect x="237.7" y="533.10" width="13.25" height="1.35" fill="#a2a6da"/>
<rect x="171.7" y="534.40" width="13.25" height="1.35" fill="#f6c6ca"/>
<rect x="184.9" y="534.40" width="13.25" height="1.35" fill="#f6cace"/>
<rect x="198.1" y="534.40" width="13.25" height="1.35" fill="#f6c2c6"/>
<rect x="211.3" y="534.40" width="13.25" height="1.35" fill="#a0a4d9"/>
<rect x="224.5" y="534.40" width="13.25" height="1.35" fill="#d2d1ec"/>
<rect x="237.7" y="534.40" width="13.25" height="1.35" fill="#a7aadc"/>
<rect x="171.7" y="535.70" width="13.25" height="1.35" fill="#f6cace"/>
<rect x="184.9" y="535.70" width="13.25" height="1.35" fill="#f6c7cb"/>
<rect x="198.1" y="535.70" width="13.25" height="1.35" fill="#f6ccd1"/>
<rect x="211.3" y="535.70" width="13.25" height="1.35" fill="#a1a5da"/>
<rect x="224.5" y="535.70" width="13.25" height="1.35" fill="#d5d4ed"/>
<rect x="237.7" y="535.70" width="13.25" height="1.35" fill="#a7abdc"/>
<rect x="250.9" y="309.00" width="13.25" height="1.55" fill="#f4abad"/>
<rect x="264.1" y="309.00" width="13.25" height="1.55" fill="#f6c7cb"/>
<rect x="277.3" y="309.00" width="13.25" height="1.55" fill="#f6cace"/>
<rect x="290.5" y="309.00" width="13.25" height="1.55" fill="#f6d4d9"/>
<rect x="303.7" y="309.00" width="13.25" height="1.55" fill="#f6c9cd"/>
<rect x="316.9" y="309.00" width="13.25" height="1.55" fill="#f4aaad"/>
<rect x="250.9" y="310.50" width="13.25" height="1.55" fill="#f6c7cb"/>
<rect x="264.1" y="310.50" width="13.25" height="1.55" fill="#f6e3e9"/>
<rect x="277.3" y="310.50" width="13.25" height="1.55" fill="#f6eaf0"/>
<rect x="290.5" y="310.50" width="13.25" height="1.55" fill="#e5e0ef"/>
<rect x="303.7" y="310.50" width="13.25" height="1.55" fill="#f6e8ee"/>
<rect x="316.9" y="310.50" width="13.25" height="1.55" fill="#f6c9cd"/>
<rect x="250.9" y="312.00" width="13.25" height="1.29" fill="#f5bdc1"/>
<rect x="264.1" y="312.00" width="13.25" height="1.29" fill="#ece4f0"/>
<rect x="277.3" y="312.00" width="13.25" height="1.29" fill="#d5d4ed"/>
<rect x="290.5" y="312.00" width="13.25" height="1.29" fill="#d7d5ed"/>
<rect x="303.7" y="312.00" width="13.25" height="1.29" fill="#d4d3ec"/>
<rect x="316.9" y="312.00" width="13.25" height="1.29" fill="#dad7ed"/>
<rect x="250.9" y="313.24" width="13.25" height="1.29" fill="#f4b0b3"/>
<rect x="264.1" y="313.24" width="13.25" height="1.29" fill="#f2e9f1"/>
<rect x="277.3" y="313.24" width="13.25" height="1.29" fill="#e2ddef"/>
<rect x="290.5" y="313.24" width="13.25" height="1.29" fill="#d7d5ed"/>
<rect x="303.7" y="313.24" width="13.25" height="1.29" fill="#d7d5ed"/>
<rect x="316.9" y="313.24" width="13.25" height="1.29" fill="#dedaee"/>
<rect x="250.9" y="314.48" width="13.25" height="1.29" fill="#f3aaac"/>
<rect x="264.1" y="314.48" width="13.25" height="1.29" fill="#f6eaf0"/>
<rect x="277.3" y="314.48" width="13.25" height="1.29" fill="#e2ddef"/>
<rect x="290.5" y="314.48" width="13.25" height="1.29" fill="#dedaee"/>
<rect x="303.7" y="314.48" width="13.25" height="1.29" fill="#e7e1ef"/>
<rect x="316.9" y="314.48" width="13.25" height="1.29" fill="#e8e1f0"/>
<rect x="250.9" y="315.72" width="13.25" height="1.29" fill="#f4adaf"/>
<rect x="264.1" y="315.72" width="13.25" height="1.29" fill="#f6e6ec"/>
<rect x="277.3" y="315.72" width="13.25" height="1.29" fill="#e8e1f0"/>
<rect x="290.5" y="315.72" width="13.25" height="1.29" fill="#e5e0ef"/>
<rect x="303.7" y="315.72" width="13.25" height="1.29" fill="#ebe4f0"/>
<rect x="316.9" y="315.72" width="13.25" height="1.29" fill="#e5dfef"/>
<rect x="250.9" y="316.96" width="13.25" height="1.29" fill="#f4b3b6"/>
<rect x="264.1" y="316.96" width="13.25" height="1.29" fill="#f1e8f1"/>
<rect x="277.3" y="316.96" width="13.25" height="1.29" fill="#e2ddef"/>
<rect x="290.5" y="316.96" width="13.25" height="1.29" fill="#efe7f1"/>
<rect x="303.7" y="316.96" width="13.25" height="1.29" fill="#ece5f0"/>
<rect x="316.9" y="316.96" width="13.25" height="1.29" fill="#f0e8f1"/>
<rect x="250.9" y="318.20" width="13.25" height="1.32" fill="#f6cdd1"/>
<rect x="264.1" y="318.20" width="13.25" height="1.32" fill="#f6eaf0"/>
<rect x="277.3" y="318.20" width="13.25" height="1.32" fill="#f6d4d9"/>
<rect x="290.5" y="318.20" width="13.25" height="1.32" fill="#eee6f1"/>
<rect x="303.7" y="318.20" width="13.25" height="1.32" fill="#f6d6db"/>
<rect x="316.9" y="318.20" width="13.25" height="1.32" fill="#f3eaf2"/>
<rect x="250.9" y="319.47" width="13.25" height="1.32" fill="#f6cdd1"/>
<rect x="264.1" y="319.47" width="13.25" height="1.32" fill="#f4eaf2"/>
<rect x="277.3" y="319.47" width="13.25" height="1.32" fill="#f6ccd0"/>
<rect x="290.5" y="319.47" width="13.25" height="1.32" fill="#f6ebf0"/>
<rect x="303.7" y="319.47" width="13.25" height="1.32" fill="#f6c9cd"/>
<rect x="316.9" y="319.47" width="13.25" height="1.32" fill="#f6ecf2"/>
<rect x="250.9" y="320.73" width="13.25" height="1.32" fill="#f6d4d8"/>
<rect x="264.1" y="320.73" width="13.25" height="1.32" fill="#f2e9f1"/>
<rect x="277.3" y="320.73" width="13.25" height="1.32" fill="#f6d5d9"/>
<rect x="290.5" y="320.73" width="13.25" height="1.32" fill="#f3eaf2"/>
<rect x="303.7" y="320.73" width="13.25" height="1.32" fill="#f6ccd0"/>
<rect x="316.9" y="320.73" width="13.25" height="1.32" fill="#ece4f0"/>
<rect x="250.9" y="322.00" width="13.25" height="1.22" fill="#f4b3b6"/>
<rect x="264.1" y="322.00" width="13.25" height="1.22" fill="#f6cace"/>
<rect x="277.3" y="322.00" width="13.25" height="1.22" fill="#f4afb2"/>
<rect x="290.5" y="322.00" width="13.25" height="1.22" fill="#f3a8aa"/>
<rect x="303.7" y="322.00" width="13.25" height="1.22" fill="#f3a8ab"/>
<rect x="316.9" y="322.00" width="13.25" height="1.22" fill="#f6c7cb"/>
<rect x="250.9" y="323.17" width="13.25" height="1.22" fill="#f5bdc0"/>
<rect x="264.1" y="323.17" width="13.25" height="1.22" fill="#f6d7dc"/>
<rect x="277.3" y="323.17" width="13.25" height="1.22" fill="#f5bdc0"/>
<rect x="290.5" y="323.17" width="13.25" height="1.22" fill="#f4afb1"/>
<rect x="303.7" y="323.17" width="13.25" height="1.22" fill="#f3a7a9"/>
<rect x="316.9" y="323.17" width="13.25" height="1.22" fill="#f6c8cc"/>
<rect x="250.9" y="324.33" width="13.25" height="1.22" fill="#f4acaf"/>
<rect x="264.1" y="324.33" width="13.25" height="1.22" fill="#f6cdd1"/>
<rect x="277.3" y="324.33" width="13.25" height="1.22" fill="#f4abae"/>
<rect x="290.5" y="324.33" width="13.25" height="1.22" fill="#f5b8bb"/>
<rect x="303.7" y="324.33" width="13.25" height="1.22" fill="#f4b2b5"/>
<rect x="316.9" y="324.33" width="13.25" height="1.22" fill="#f6d2d7"/>
<rect x="250.9" y="325.50" width="13.25" height="1.22" fill="#f4b3b6"/>
<rect x="264.1" y="325.50" width="13.25" height="1.22" fill="#f6d2d6"/>
<rect x="277.3" y="325.50" width="13.25" height="1.22" fill="#f4aeb1"/>
<rect x="290.5" y="325.50" width="13.25" height="1.22" fill="#f5b6b9"/>
<rect x="303.7" y="325.50" width="13.25" height="1.22" fill="#f4b4b7"/>
<rect x="316.9" y="325.50" width="13.25" height="1.22" fill="#f6d2d6"/>
<rect x="250.9" y="326.67" width="13.25" height="1.22" fill="#f6d2d6"/>
<rect x="264.1" y="326.67" width="13.25" height="1.22" fill="#f6e5eb"/>
<rect x="277.3" y="326.67" width="13.25" height="1.22" fill="#f6cfd3"/>
<rect x="290.5" y="326.67" width="13.25" height="1.22" fill="#f6c9cd"/>
<rect x="303.7" y="326.67" width="13.25" height="1.22" fill="#f6c4c8"/>
<rect x="316.9" y="326.67" width="13.25" height="1.22" fill="#f6e4e9"/>
<rect x="250.9" y="327.83" width="13.25" height="1.22" fill="#f18d90"/>
<rect x="264.1" y="327.83" width="13.25" height="1.22" fill="#f5b6b9"/>
<rect x="277.3" y="327.83" width="13.25" height="1.22" fill="#f19295"/>
<rect x="290.5" y="327.83" width="13.25" height="1.22" fill="#f29ea0"/>
<rect x="303.7" y="327.83" width="13.25" height="1.22" fill="#f3a4a6"/>
<rect x="316.9" y="327.83" width="13.25" height="1.22" fill="#f5bec1"/>
<rect x="250.9" y="329.00" width="13.25" height="1.25" fill="#ede5f0"/>
<rect x="264.1" y="329.00" width="13.25" height="1.25" fill="#e9e3f0"/>
<rect x="277.3" y="329.00" width="13.25" height="1.25" fill="#dad7ed"/>
<rect x="290.5" y="329.00" width="13.25" height="1.25" fill="#f5ebf2"/>
<rect x="303.7" y="329.00" width="13.25" height="1.25" fill="#f5ebf2"/>
<rect x="316.9" y="329.00" width="13.25" height="1.25" fill="#ddd9ee"/>
<rect x="250.9" y="330.20" width="13.25" height="1.25" fill="#f6e5eb"/>
<rect x="264.1" y="330.20" width="13.25" height="1.25" fill="#f6e0e6"/>
<rect x="277.3" y="330.20" width="13.25" height="1.25" fill="#f4ebf2"/>
<rect x="290.5" y="330.20" width="13.25" height="1.25" fill="#f6e2e8"/>
<rect x="303.7" y="330.20" width="13.25" height="1.25" fill="#f6e5ea"/>
<rect x="316.9" y="330.20" width="13.25" height="1.25" fill="#e6e0ef"/>
<rect x="250.9" y="331.40" width="13.25" height="1.25" fill="#f6e4ea"/>
<rect x="264.1" y="331.40" width="13.25" height="1.25" fill="#f6e6ec"/>
<rect x="277.3" y="331.40" width="13.25" height="1.25" fill="#e7e1ef"/>
<rect x="290.5" y="331.40" width="13.25" height="1.25" fill="#f6e5ea"/>
<rect x="303.7" y="331.40" width="13.25" height="1.25" fill="#f6e5eb"/>
<rect x="316.9" y="331.40" width="13.25" height="1.25" fill="#ebe4f0"/>
<rect x="250.9" y="332.60" width="13.25" height="1.25" fill="#f6e4ea"/>
<rect x="264.1" y="332.60" width="13.25" height="1.25" fill="#f6e3e8"/>
<rect x="277.3" y="332.60" width="13.25" height="1.25" fill="#f0e7f1"/>
<rect x="290.5" y="332.60" width="13.25" height="1.25" fill="#f6dce2"/>
<rect x="303.7" y="332.60" width="13.25" height="1.25" fill="#f6dee3"/>
<rect x="316.9" y="332.60" width="13.25" height="1.25" fill="#f6e8ee"/>
<rect x="250.9" y="333.80" width="13.25" height="1.25" fill="#e5e0ef"/>
<rect x="264.1" y="333.80" width="13.25" height="1.25" fill="#dedaee"/>
<rect x="277.3" y="333.80" width="13.25" height="1.25" fill="#c3c4e7"/>
<rect x="290.5" y="333.80" width="13.25" height="1.25" fill="#dad7ed"/>
<rect x="303.7" y="333.80" width="13.25" height="1.25" fill="#dcd9ee"/>
<rect x="316.9" y="333.80" width="13.25" height="1.25" fill="#cccdeb"/>
<rect x="250.9" y="335.00" width="13.25" height="1.31" fill="#f4b6b8"/>
<rect x="264.1" y="335.00" width="13.25" height="1.31" fill="#f6d3d8"/>
<rect x="277.3" y="335.00" width="13.25" height="1.31" fill="#f5b7ba"/>
<rect x="290.5" y="335.00" width="13.25" height="1.31" fill="#f6dde2"/>
<rect x="303.7" y="335.00" width="13.25" height="1.31" fill="#f5bdc1"/>
<rect x="316.9" y="335.00" width="13.25" height="1.31" fill="#f6dee3"/>
<rect x="250.9" y="336.26" width="13.25" height="1.31" fill="#f6d9dd"/>
<rect x="264.1" y="336.26" width="13.25" height="1.31" fill="#ebe4f0"/>
<rect x="277.3" y="336.26" width="13.25" height="1.31" fill="#f6d5d9"/>
<rect x="290.5" y="336.26" width="13.25" height="1.31" fill="#eee6f1"/>
<rect x="303.7" y="336.26" width="13.25" height="1.31" fill="#f6d1d5"/>
<rect x="316.9" y="336.26" width="13.25" height="1.31" fill="#efe7f1"/>
<rect x="250.9" y="337.52" width="13.25" height="1.31" fill="#f6d5da"/>
<rect x="264.1" y="337.52" width="13.25" height="1.31" fill="#f2e9f1"/>
<rect x="277.3" y="337.52" width="13.25" height="1.31" fill="#f6d4d9"/>
<rect x="290.5" y="337.52" width="13.25" height="1.31" fill="#f6ebf1"/>
<rect x="303.7" y="337.52" width="13.25" height="1.31" fill="#f6c9cd"/>
<rect x="316.9" y="337.52" width="13.25" height="1.31" fill="#f6e9ee"/>
<rect x="250.9" y="338.78" width="13.25" height="1.31" fill="#f6c4c8"/>
<rect x="264.1" y="338.78" width="13.25" height="1.31" fill="#f6e1e7"/>
<rect x="277.3" y="338.78" width="13.25" height="1.31" fill="#f6c3c7"/>
<rect x="290.5" y="338.78" width="13.25" height="1.31" fill="#f6d8dd"/>
<rect x="303.7" y="338.78" width="13.25" height="1.31" fill="#f5babd"/>
<rect x="316.9" y="338.78" width="13.25" height="1.31" fill="#f6d8dd"/>
<rect x="250.9" y="340.04" width="13.25" height="1.31" fill="#f6c4c7"/>
<rect x="264.1" y="340.04" width="13.25" height="1.31" fill="#f6e8ee"/>
<rect x="277.3" y="340.04" width="13.25" height="1.31" fill="#f5bfc2"/>
<rect x="290.5" y="340.04" width="13.25" height="1.31" fill="#f6dce1"/>
<rect x="303.7" y="340.04" width="13.25" height="1.31" fill="#f5c0c4"/>
<rect x="316.9" y="340.04" width="13.25" height="1.31" fill="#f6dbe0"/>
<rect x="250.9" y="341.30" width="13.25" height="1.29" fill="#ddd9ee"/>
<rect x="264.1" y="341.30" width="13.25" height="1.29" fill="#d8d6ed"/>
<rect x="277.3" y="341.30" width="13.25" height="1.29" fill="#f1e8f1"/>
<rect x="290.5" y="341.30" width="13.25" height="1.29" fill="#f6ecf2"/>
<rect x="303.7" y="341.30" width="13.25" height="1.29" fill="#eee6f1"/>
<rect x="316.9" y="341.30" width="13.25" height="1.29" fill="#f6dbe0"/>
<rect x="250.9" y="342.54" width="13.25" height="1.29" fill="#f0e7f1"/>
<rect x="264.1" y="342.54" width="13.25" height="1.29" fill="#f3eaf1"/>
<rect x="277.3" y="342.54" width="13.25" height="1.29" fill="#f6e4e9"/>
<rect x="290.5" y="342.54" width="13.25" height="1.29" fill="#eee6f1"/>
<rect x="303.7" y="342.54" width="13.25" height="1.29" fill="#f4eaf2"/>
<rect x="316.9" y="342.54" width="13.25" height="1.29" fill="#f6e7ed"/>
<rect x="250.9" y="343.78" width="13.25" height="1.29" fill="#f4eaf2"/>
<rect x="264.1" y="343.78" width="13.25" height="1.29" fill="#ebe4f0"/>
<rect x="277.3" y="343.78" width="13.25" height="1.29" fill="#f6e3e9"/>
<rect x="290.5" y="343.78" width="13.25" height="1.29" fill="#f5ecf2"/>
<rect x="303.7" y="343.78" width="13.25" height="1.29" fill="#eee6f1"/>
<rect x="316.9" y="343.78" width="13.25" height="1.29" fill="#f6dde2"/>
<rect x="250.9" y="345.02" width="13.25" height="1.29" fill="#e4dfef"/>
<rect x="264.1" y="345.02" width="13.25" height="1.29" fill="#e7e1ef"/>
<rect x="277.3" y="345.02" width="13.25" height="1.29" fill="#f6ebf1"/>
<rect x="290.5" y="345.02" width="13.25" height="1.29" fill="#e7e1f0"/>
<rect x="303.7" y="345.02" width="13.25" height="1.29" fill="#e8e2f0"/>
<rect x="316.9" y="345.02" width="13.25" height="1.29" fill="#f6e2e7"/>
<rect x="250.9" y="346.26" width="13.25" height="1.29" fill="#e8e2f0"/>
<rect x="264.1" y="346.26" width="13.25" height="1.29" fill="#ebe4f0"/>
<rect x="277.3" y="346.26" width="13.25" height="1.29" fill="#f6ecf2"/>
<rect x="290.5" y="346.26" width="13.25" height="1.29" fill="#e5dfef"/>
<rect x="303.7" y="346.26" width="13.25" height="1.29" fill="#e2ddef"/>
<rect x="316.9" y="346.26" width="13.25" height="1.29" fill="#f5ebf2"/>
<rect x="250.9" y="347.50" width="13.25" height="1.27" fill="#f6e0e6"/>
<rect x="264.1" y="347.50" width="13.25" height="1.27" fill="#f6e7ed"/>
<rect x="277.3" y="347.50" width="13.25" height="1.27" fill="#f6dee3"/>
<rect x="290.5" y="347.50" width="13.25" height="1.27" fill="#f2e9f1"/>
<rect x="303.7" y="347.50" width="13.25" height="1.27" fill="#f6e3e9"/>
<rect x="316.9" y="347.50" width="13.25" height="1.27" fill="#f6c6ca"/>
<rect x="250.9" y="348.72" width="13.25" height="1.27" fill="#f6e9ef"/>
<rect x="264.1" y="348.72" width="13.25" height="1.27" fill="#dedaee"/>
<rect x="277.3" y="348.72" width="13.25" height="1.27" fill="#f6e8ee"/>
<rect x="290.5" y="348.72" width="13.25" height="1.27" fill="#dedaee"/>
<rect x="303.7" y="348.72" width="13.25" height="1.27" fill="#efe7f1"/>
<rect x="316.9" y="348.72" width="13.25" height="1.27" fill="#f6d2d7"/>
<rect x="250.9" y="349.94" width="13.25" height="1.27" fill="#e4dfef"/>
<rect x="264.1" y="349.94" width="13.25" height="1.27" fill="#d2d2ec"/>
<rect x="277.3" y="349.94" width="13.25" height="1.27" fill="#e8e2f0"/>
<rect x="290.5" y="349.94" width="13.25" height="1.27" fill="#d7d5ed"/>
<rect x="303.7" y="349.94" width="13.25" height="1.27" fill="#e3deef"/>
<rect x="316.9" y="349.94" width="13.25" height="1.27" fill="#f6dee3"/>
<rect x="250.9" y="351.16" width="13.25" height="1.27" fill="#f6e2e7"/>
<rect x="264.1" y="351.16" width="13.25" height="1.27" fill="#ede5f0"/>
<rect x="277.3" y="351.16" width="13.25" height="1.27" fill="#f6e3e9"/>
<rect x="290.5" y="351.16" width="13.25" height="1.27" fill="#e8e1f0"/>
<rect x="303.7" y="351.16" width="13.25" height="1.27" fill="#f6e8ee"/>
<rect x="316.9" y="351.16" width="13.25" height="1.27" fill="#f6c7cb"/>
<rect x="250.9" y="352.38" width="13.25" height="1.27" fill="#f6e1e7"/>
<rect x="264.1" y="352.38" width="13.25" height="1.27" fill="#f0e8f1"/>
<rect x="277.3" y="352.38" width="13.25" height="1.27" fill="#f6e4ea"/>
<rect x="290.5" y="352.38" width="13.25" height="1.27" fill="#f4ebf2"/>
<rect x="303.7" y="352.38" width="13.25" height="1.27" fill="#f6e8ee"/>
<rect x="316.9" y="352.38" width="13.25" height="1.27" fill="#f6c8cd"/>
<rect x="250.9" y="353.60" width="13.25" height="1.29" fill="#e2ddef"/>
<rect x="264.1" y="353.60" width="13.25" height="1.29" fill="#dddaee"/>
<rect x="277.3" y="353.60" width="13.25" height="1.29" fill="#e0dcee"/>
<rect x="290.5" y="353.60" width="13.25" height="1.29" fill="#ede5f1"/>
<rect x="303.7" y="353.60" width="13.25" height="1.29" fill="#f6d7dc"/>
<rect x="316.9" y="353.60" width="13.25" height="1.29" fill="#d9d7ed"/>
<rect x="250.9" y="354.84" width="13.25" height="1.29" fill="#f3eaf2"/>
<rect x="264.1" y="354.84" width="13.25" height="1.29" fill="#e6e0ef"/>
<rect x="277.3" y="354.84" width="13.25" height="1.29" fill="#eee6f1"/>
<rect x="290.5" y="354.84" width="13.25" height="1.29" fill="#f6e8ed"/>
<rect x="303.7" y="354.84" width="13.25" height="1.29" fill="#f6c9cd"/>
<rect x="316.9" y="354.84" width="13.25" height="1.29" fill="#e8e1f0"/>
<rect x="250.9" y="356.08" width="13.25" height="1.29" fill="#e4dfef"/>
<rect x="264.1" y="356.08" width="13.25" height="1.29" fill="#efe7f1"/>
<rect x="277.3" y="356.08" width="13.25" height="1.29" fill="#ede5f1"/>
<rect x="290.5" y="356.08" width="13.25" height="1.29" fill="#f6e3e9"/>
<rect x="303.7" y="356.08" width="13.25" height="1.29" fill="#f6c6ca"/>
<rect x="316.9" y="356.08" width="13.25" height="1.29" fill="#e1ddef"/>
<rect x="250.9" y="357.32" width="13.25" height="1.29" fill="#eee6f1"/>
<rect x="264.1" y="357.32" width="13.25" height="1.29" fill="#e8e2f0"/>
<rect x="277.3" y="357.32" width="13.25" height="1.29" fill="#e8e1f0"/>
<rect x="290.5" y="357.32" width="13.25" height="1.29" fill="#f6e9ef"/>
<rect x="303.7" y="357.32" width="13.25" height="1.29" fill="#f6c7cb"/>
<rect x="316.9" y="357.32" width="13.25" height="1.29" fill="#e5dfef"/>
<rect x="250.9" y="358.56" width="13.25" height="1.29" fill="#e2ddef"/>
<rect x="264.1" y="358.56" width="13.25" height="1.29" fill="#dedaee"/>
<rect x="277.3" y="358.56" width="13.25" height="1.29" fill="#dad7ed"/>
<rect x="290.5" y="358.56" width="13.25" height="1.29" fill="#d5d4ec"/>
<rect x="303.7" y="358.56" width="13.25" height="1.29" fill="#f6e4e9"/>
<rect x="316.9" y="358.56" width="13.25" height="1.29" fill="#cbcceb"/>
<rect x="250.9" y="359.80" width="13.25" height="1.29" fill="#eae3f0"/>
<rect x="264.1" y="359.80" width="13.25" height="1.29" fill="#d8d5ed"/>
<rect x="277.3" y="359.80" width="13.25" height="1.29" fill="#c1c2e6"/>
<rect x="290.5" y="359.80" width="13.25" height="1.29" fill="#f6ecf2"/>
<rect x="303.7" y="359.80" width="13.25" height="1.29" fill="#e8e2f0"/>
<rect x="316.9" y="359.80" width="13.25" height="1.29" fill="#f6e7ed"/>
<rect x="250.9" y="361.04" width="13.25" height="1.29" fill="#efe7f1"/>
<rect x="264.1" y="361.04" width="13.25" height="1.29" fill="#e4dfef"/>
<rect x="277.3" y="361.04" width="13.25" height="1.29" fill="#c7c8e9"/>
<rect x="290.5" y="361.04" width="13.25" height="1.29" fill="#f1e8f1"/>
<rect x="303.7" y="361.04" width="13.25" height="1.29" fill="#dbd8ed"/>
<rect x="316.9" y="361.04" width="13.25" height="1.29" fill="#ede6f1"/>
<rect x="250.9" y="362.28" width="13.25" height="1.29" fill="#f6e6ec"/>
<rect x="264.1" y="362.28" width="13.25" height="1.29" fill="#ece5f0"/>
<rect x="277.3" y="362.28" width="13.25" height="1.29" fill="#cfcfeb"/>
<rect x="290.5" y="362.28" width="13.25" height="1.29" fill="#efe6f1"/>
<rect x="303.7" y="362.28" width="13.25" height="1.29" fill="#d4d3ec"/>
<rect x="316.9" y="362.28" width="13.25" height="1.29" fill="#e4deef"/>
<rect x="250.9" y="363.52" width="13.25" height="1.29" fill="#f5ebf2"/>
<rect x="264.1" y="363.52" width="13.25" height="1.29" fill="#e5dfef"/>
<rect x="277.3" y="363.52" width="13.25" height="1.29" fill="#d1d1ec"/>
<rect x="290.5" y="363.52" width="13.25" height="1.29" fill="#f4eaf2"/>
<rect x="303.7" y="363.52" width="13.25" height="1.29" fill="#e1ddef"/>
<rect x="316.9" y="363.52" width="13.25" height="1.29" fill="#f3eaf1"/>
<rect x="250.9" y="364.76" width="13.25" height="1.29" fill="#f1e8f1"/>
<rect x="264.1" y="364.76" width="13.25" height="1.29" fill="#dfdbee"/>
<rect x="277.3" y="364.76" width="13.25" height="1.29" fill="#c9caea"/>
<rect x="290.5" y="364.76" width="13.25" height="1.29" fill="#f4ebf2"/>
<rect x="303.7" y="364.76" width="13.25" height="1.29" fill="#e7e1ef"/>
<rect x="316.9" y="364.76" width="13.25" height="1.29" fill="#efe7f1"/>
<rect x="250.9" y="366.00" width="13.25" height="1.20" fill="#f4b5b8"/>
<rect x="264.1" y="366.00" width="13.25" height="1.20" fill="#f5b8bb"/>
<rect x="277.3" y="366.00" width="13.25" height="1.20" fill="#f5b8bc"/>
<rect x="290.5" y="366.00" width="13.25" height="1.20" fill="#f4b4b7"/>
<rect x="303.7" y="366.00" width="13.25" height="1.20" fill="#f4b5b8"/>
<rect x="316.9" y="366.00" width="13.25" height="1.20" fill="#f5b8bc"/>
<rect x="250.9" y="367.15" width="13.25" height="1.20" fill="#f4b5b8"/>
<rect x="264.1" y="367.15" width="13.25" height="1.20" fill="#f4b2b5"/>
<rect x="277.3" y="367.15" width="13.25" height="1.20" fill="#f4aeb1"/>
<rect x="290.5" y="367.15" width="13.25" height="1.20" fill="#f5c1c4"/>
<rect x="303.7" y="367.15" width="13.25" height="1.20" fill="#f6c5c9"/>
<rect x="316.9" y="367.15" width="13.25" height="1.20" fill="#f6c6ca"/>
<rect x="250.9" y="368.30" width="13.25" height="1.20" fill="#f5bec2"/>
<rect x="264.1" y="368.30" width="13.25" height="1.20" fill="#f5c2c6"/>
<rect x="277.3" y="368.30" width="13.25" height="1.20" fill="#f6c3c6"/>
<rect x="290.5" y="368.30" width="13.25" height="1.20" fill="#f6c4c8"/>
<rect x="303.7" y="368.30" width="13.25" height="1.20" fill="#f6c7cb"/>
<rect x="316.9" y="368.30" width="13.25" height="1.20" fill="#f6c9cd"/>
<rect x="250.9" y="369.45" width="13.25" height="1.20" fill="#f4b1b4"/>
<rect x="264.1" y="369.45" width="13.25" height="1.20" fill="#f4b3b5"/>
<rect x="277.3" y="369.45" width="13.25" height="1.20" fill="#f4b3b6"/>
<rect x="290.5" y="369.45" width="13.25" height="1.20" fill="#f4adb0"/>
<rect x="303.7" y="369.45" width="13.25" height="1.20" fill="#f4abad"/>
<rect x="316.9" y="369.45" width="13.25" height="1.20" fill="#f4b0b2"/>
<rect x="250.9" y="370.60" width="13.25" height="1.20" fill="#f6d1d6"/>
<rect x="264.1" y="370.60" width="13.25" height="1.20" fill="#f6cfd3"/>
<rect x="277.3" y="370.60" width="13.25" height="1.20" fill="#f5c1c5"/>
<rect x="290.5" y="370.60" width="13.25" height="1.20" fill="#f6ccd0"/>
<rect x="303.7" y="370.60" width="13.25" height="1.20" fill="#f6dde2"/>
<rect x="316.9" y="370.60" width="13.25" height="1.20" fill="#f6dde2"/>
<rect x="250.9" y="371.75" width="13.25" height="1.20" fill="#f5bcc0"/>
<rect x="264.1" y="371.75" width="13.25" height="1.20" fill="#f6c2c6"/>
<rect x="277.3" y="371.75" width="13.25" height="1.20" fill="#f5b7ba"/>
<rect x="290.5" y="371.75" width="13.25" height="1.20" fill="#f5bec1"/>
<rect x="303.7" y="371.75" width="13.25" height="1.20" fill="#f6c6ca"/>
<rect x="316.9" y="371.75" width="13.25" height="1.20" fill="#f6cace"/>
<rect x="250.9" y="372.90" width="13.25" height="1.20" fill="#f5c0c3"/>
<rect x="264.1" y="372.90" width="13.25" height="1.20" fill="#f5bcbf"/>
<rect x="277.3" y="372.90" width="13.25" height="1.20" fill="#f4b1b3"/>
<rect x="290.5" y="372.90" width="13.25" height="1.20" fill="#f4b1b4"/>
<rect x="303.7" y="372.90" width="13.25" height="1.20" fill="#f5babe"/>
<rect x="316.9" y="372.90" width="13.25" height="1.20" fill="#f6c3c7"/>
<rect x="250.9" y="374.05" width="13.25" height="1.20" fill="#f6d9de"/>
<rect x="264.1" y="374.05" width="13.25" height="1.20" fill="#f6d2d7"/>
<rect x="277.3" y="374.05" width="13.25" height="1.20" fill="#f6c5c9"/>
<rect x="290.5" y="374.05" width="13.25" height="1.20" fill="#f5bbbf"/>
<rect x="303.7" y="374.05" width="13.25" height="1.20" fill="#f6cfd3"/>
<rect x="316.9" y="374.05" width="13.25" height="1.20" fill="#f6c9cd"/>
<rect x="250.9" y="375.20" width="13.25" height="1.29" fill="#f6cfd4"/>
<rect x="264.1" y="375.20" width="13.25" height="1.29" fill="#f6d7db"/>
<rect x="277.3" y="375.20" width="13.25" height="1.29" fill="#f6cdd1"/>
<rect x="290.5" y="375.20" width="13.25" height="1.29" fill="#f6c7cb"/>
<rect x="303.7" y="375.20" width="13.25" height="1.29" fill="#f5c1c5"/>
<rect x="316.9" y="375.20" width="13.25" height="1.29" fill="#f6c6ca"/>
<rect x="250.9" y="376.44" width="13.25" height="1.29" fill="#f4b5b8"/>
<rect x="264.1" y="376.44" width="13.25" height="1.29" fill="#f5b9bd"/>
<rect x="277.3" y="376.44" width="13.25" height="1.29" fill="#f4b5b8"/>
<rect x="290.5" y="376.44" width="13.25" height="1.29" fill="#f6c4c8"/>
<rect x="303.7" y="376.44" width="13.25" height="1.29" fill="#f4b6b9"/>
<rect x="316.9" y="376.44" width="13.25" height="1.29" fill="#f6c4c7"/>
<rect x="250.9" y="377.68" width="13.25" height="1.29" fill="#f4afb1"/>
<rect x="264.1" y="377.68" width="13.25" height="1.29" fill="#f5bec1"/>
<rect x="277.3" y="377.68" width="13.25" height="1.29" fill="#f4aeb0"/>
<rect x="290.5" y="377.68" width="13.25" height="1.29" fill="#f6c2c6"/>
<rect x="303.7" y="377.68" width="13.25" height="1.29" fill="#f4b5b8"/>
<rect x="316.9" y="377.68" width="13.25" height="1.29" fill="#f5bec2"/>
<rect x="250.9" y="378.92" width="13.25" height="1.29" fill="#f4b6b9"/>
<rect x="264.1" y="378.92" width="13.25" height="1.29" fill="#f6c7cb"/>
<rect x="277.3" y="378.92" width="13.25" height="1.29" fill="#f5bec2"/>
<rect x="290.5" y="378.92" width="13.25" height="1.29" fill="#f6c5c9"/>
<rect x="303.7" y="378.92" width="13.25" height="1.29" fill="#f5b6b9"/>
<rect x="316.9" y="378.92" width="13.25" height="1.29" fill="#f6c4c7"/>
<rect x="250.9" y="380.16" width="13.25" height="1.29" fill="#f5babd"/>
<rect x="264.1" y="380.16" width="13.25" height="1.29" fill="#f6cbcf"/>
<rect x="277.3" y="380.16" width="13.25" height="1.29" fill="#f5bdc0"/>
<rect x="290.5" y="380.16" width="13.25" height="1.29" fill="#f5c0c4"/>
<rect x="303.7" y="380.16" width="13.25" height="1.29" fill="#f4b5b8"/>
<rect x="316.9" y="380.16" width="13.25" height="1.29" fill="#f6c8cc"/>
<rect x="250.9" y="381.40" width="13.25" height="1.20" fill="#f4aaad"/>
<rect x="264.1" y="381.40" width="13.25" height="1.20" fill="#f6c7cb"/>
<rect x="277.3" y="381.40" width="13.25" height="1.20" fill="#f6c7cb"/>
<rect x="290.5" y="381.40" width="13.25" height="1.20" fill="#f6d8dc"/>
<rect x="303.7" y="381.40" width="13.25" height="1.20" fill="#f6d7dc"/>
<rect x="316.9" y="381.40" width="13.25" height="1.20" fill="#f6d2d7"/>
<rect x="250.9" y="382.55" width="13.25" height="1.20" fill="#f29ea1"/>
<rect x="264.1" y="382.55" width="13.25" height="1.20" fill="#f5b9bc"/>
<rect x="277.3" y="382.55" width="13.25" height="1.20" fill="#f5bdc0"/>
<rect x="290.5" y="382.55" width="13.25" height="1.20" fill="#f6c9cd"/>
<rect x="303.7" y="382.55" width="13.25" height="1.20" fill="#f6cdd1"/>
<rect x="316.9" y="382.55" width="13.25" height="1.20" fill="#f6cbcf"/>
<rect x="250.9" y="383.70" width="13.25" height="1.20" fill="#f4aeb0"/>
<rect x="264.1" y="383.70" width="13.25" height="1.20" fill="#f6ced3"/>
<rect x="277.3" y="383.70" width="13.25" height="1.20" fill="#f6ced3"/>
<rect x="290.5" y="383.70" width="13.25" height="1.20" fill="#f6d0d4"/>
<rect x="303.7" y="383.70" width="13.25" height="1.20" fill="#f6d2d6"/>
<rect x="316.9" y="383.70" width="13.25" height="1.20" fill="#f6ced3"/>
<rect x="250.9" y="384.85" width="13.25" height="1.20" fill="#f2989a"/>
<rect x="264.1" y="384.85" width="13.25" height="1.20" fill="#f5bec1"/>
<rect x="277.3" y="384.85" width="13.25" height="1.20" fill="#f5bbbe"/>
<rect x="290.5" y="384.85" width="13.25" height="1.20" fill="#f6c8cc"/>
<rect x="303.7" y="384.85" width="13.25" height="1.20" fill="#f6cace"/>
<rect x="316.9" y="384.85" width="13.25" height="1.20" fill="#f6cbcf"/>
<rect x="250.9" y="386.00" width="13.25" height="1.20" fill="#f4b5b8"/>
<rect x="264.1" y="386.00" width="13.25" height="1.20" fill="#efe7f1"/>
<rect x="277.3" y="386.00" width="13.25" height="1.20" fill="#ece5f0"/>
<rect x="290.5" y="386.00" width="13.25" height="1.20" fill="#f6cbcf"/>
<rect x="303.7" y="386.00" width="13.25" height="1.20" fill="#f6cfd3"/>
<rect x="316.9" y="386.00" width="13.25" height="1.20" fill="#f6cbd0"/>
<rect x="250.9" y="387.15" width="13.25" height="1.20" fill="#f3a3a5"/>
<rect x="264.1" y="387.15" width="13.25" height="1.20" fill="#f6dce1"/>
<rect x="277.3" y="387.15" width="13.25" height="1.20" fill="#f6dadf"/>
<rect x="290.5" y="387.15" width="13.25" height="1.20" fill="#f5bdc0"/>
<rect x="303.7" y="387.15" width="13.25" height="1.20" fill="#f5bbbf"/>
<rect x="316.9" y="387.15" width="13.25" height="1.20" fill="#f5c2c5"/>
<rect x="250.9" y="388.30" width="13.25" height="1.20" fill="#f4adaf"/>
<rect x="264.1" y="388.30" width="13.25" height="1.20" fill="#f6e1e7"/>
<rect x="277.3" y="388.30" width="13.25" height="1.20" fill="#f6eaf0"/>
<rect x="290.5" y="388.30" width="13.25" height="1.20" fill="#f6d8dd"/>
<rect x="303.7" y="388.30" width="13.25" height="1.20" fill="#f6d1d6"/>
<rect x="316.9" y="388.30" width="13.25" height="1.20" fill="#f6d3d7"/>
<rect x="250.9" y="389.45" width="13.25" height="1.20" fill="#f19497"/>
<rect x="264.1" y="389.45" width="13.25" height="1.20" fill="#f6d8dd"/>
<rect x="277.3" y="389.45" width="13.25" height="1.20" fill="#f6d4d9"/>
<rect x="290.5" y="389.45" width="13.25" height="1.20" fill="#f4afb2"/>
<rect x="303.7" y="389.45" width="13.25" height="1.20" fill="#f4aeb0"/>
<rect x="316.9" y="389.45" width="13.25" height="1.20" fill="#f4afb1"/>
<rect x="250.9" y="390.60" width="13.25" height="1.29" fill="#f6c8cc"/>
<rect x="264.1" y="390.60" width="13.25" height="1.29" fill="#f6ebf1"/>
<rect x="277.3" y="390.60" width="13.25" height="1.29" fill="#f6e3e8"/>
<rect x="290.5" y="390.60" width="13.25" height="1.29" fill="#f5c0c4"/>
<rect x="303.7" y="390.60" width="13.25" height="1.29" fill="#f6c9cd"/>
<rect x="316.9" y="390.60" width="13.25" height="1.29" fill="#f5bdc0"/>
<rect x="250.9" y="391.84" width="13.25" height="1.29" fill="#f5c2c6"/>
<rect x="264.1" y="391.84" width="13.25" height="1.29" fill="#f6d6db"/>
<rect x="277.3" y="391.84" width="13.25" height="1.29" fill="#f6d4d8"/>
<rect x="290.5" y="391.84" width="13.25" height="1.29" fill="#f5bfc2"/>
<rect x="303.7" y="391.84" width="13.25" height="1.29" fill="#f6c5c9"/>
<rect x="316.9" y="391.84" width="13.25" height="1.29" fill="#f5b8bc"/>
<rect x="250.9" y="393.08" width="13.25" height="1.29" fill="#f6cfd4"/>
<rect x="264.1" y="393.08" width="13.25" height="1.29" fill="#f6ecf2"/>
<rect x="277.3" y="393.08" width="13.25" height="1.29" fill="#f6eaf0"/>
<rect x="290.5" y="393.08" width="13.25" height="1.29" fill="#f4afb1"/>
<rect x="303.7" y="393.08" width="13.25" height="1.29" fill="#f5bec1"/>
<rect x="316.9" y="393.08" width="13.25" height="1.29" fill="#f5b6b9"/>
<rect x="250.9" y="394.32" width="13.25" height="1.29" fill="#f5c1c5"/>
<rect x="264.1" y="394.32" width="13.25" height="1.29" fill="#f6e2e8"/>
<rect x="277.3" y="394.32" width="13.25" height="1.29" fill="#f6dde3"/>
<rect x="290.5" y="394.32" width="13.25" height="1.29" fill="#f5bdc0"/>
<rect x="303.7" y="394.32" width="13.25" height="1.29" fill="#f6c9cd"/>
<rect x="316.9" y="394.32" width="13.25" height="1.29" fill="#f5bcc0"/>
<rect x="250.9" y="395.56" width="13.25" height="1.29" fill="#f5bec1"/>
<rect x="264.1" y="395.56" width="13.25" height="1.29" fill="#f6dadf"/>
<rect x="277.3" y="395.56" width="13.25" height="1.29" fill="#f6e1e7"/>
<rect x="290.5" y="395.56" width="13.25" height="1.29" fill="#f4b2b5"/>
<rect x="303.7" y="395.56" width="13.25" height="1.29" fill="#f5bcc0"/>
<rect x="316.9" y="395.56" width="13.25" height="1.29" fill="#f4b5b8"/>
<rect x="250.9" y="396.80" width="13.25" height="1.27" fill="#f6c5c9"/>
<rect x="264.1" y="396.80" width="13.25" height="1.27" fill="#f6c5c9"/>
<rect x="277.3" y="396.80" width="13.25" height="1.27" fill="#f3a8aa"/>
<rect x="290.5" y="396.80" width="13.25" height="1.27" fill="#f3a5a7"/>
<rect x="303.7" y="396.80" width="13.25" height="1.27" fill="#f3a3a5"/>
<rect x="316.9" y="396.80" width="13.25" height="1.27" fill="#f3a3a5"/>
<rect x="250.9" y="398.02" width="13.25" height="1.27" fill="#f6c9ce"/>
<rect x="264.1" y="398.02" width="13.25" height="1.27" fill="#f6cacf"/>
<rect x="277.3" y="398.02" width="13.25" height="1.27" fill="#f4aeb0"/>
<rect x="290.5" y="398.02" width="13.25" height="1.27" fill="#f5bbbe"/>
<rect x="303.7" y="398.02" width="13.25" height="1.27" fill="#f5bfc2"/>
<rect x="316.9" y="398.02" width="13.25" height="1.27" fill="#f5bfc3"/>
<rect x="250.9" y="399.24" width="13.25" height="1.27" fill="#f6cfd3"/>
<rect x="264.1" y="399.24" width="13.25" height="1.27" fill="#f6d0d4"/>
<rect x="277.3" y="399.24" width="13.25" height="1.27" fill="#f4b5b8"/>
<rect x="290.5" y="399.24" width="13.25" height="1.27" fill="#f4b4b7"/>
<rect x="303.7" y="399.24" width="13.25" height="1.27" fill="#f4b6b9"/>
<rect x="316.9" y="399.24" width="13.25" height="1.27" fill="#f4b1b4"/>
<rect x="250.9" y="400.46" width="13.25" height="1.27" fill="#f5c1c5"/>
<rect x="264.1" y="400.46" width="13.25" height="1.27" fill="#f5babd"/>
<rect x="277.3" y="400.46" width="13.25" height="1.27" fill="#f2999c"/>
<rect x="290.5" y="400.46" width="13.25" height="1.27" fill="#f3a0a2"/>
<rect x="303.7" y="400.46" width="13.25" height="1.27" fill="#f29ea1"/>
<rect x="316.9" y="400.46" width="13.25" height="1.27" fill="#f19396"/>
<rect x="250.9" y="401.68" width="13.25" height="1.27" fill="#f6c4c7"/>
<rect x="264.1" y="401.68" width="13.25" height="1.27" fill="#f6cace"/>
<rect x="277.3" y="401.68" width="13.25" height="1.27" fill="#f4abae"/>
<rect x="290.5" y="401.68" width="13.25" height="1.27" fill="#f4b3b6"/>
<rect x="303.7" y="401.68" width="13.25" height="1.27" fill="#f4b4b7"/>
<rect x="316.9" y="401.68" width="13.25" height="1.27" fill="#f4afb1"/>
<rect x="250.9" y="402.90" width="13.25" height="1.20" fill="#f6cdd1"/>
<rect x="264.1" y="402.90" width="13.25" height="1.20" fill="#f6ebf1"/>
<rect x="277.3" y="402.90" width="13.25" height="1.20" fill="#f6e5ea"/>
<rect x="290.5" y="402.90" width="13.25" height="1.20" fill="#f6c9cd"/>
<rect x="303.7" y="402.90" width="13.25" height="1.20" fill="#f6c9cd"/>
<rect x="316.9" y="402.90" width="13.25" height="1.20" fill="#f6cfd3"/>
<rect x="250.9" y="404.05" width="13.25" height="1.20" fill="#f6c6ca"/>
<rect x="264.1" y="404.05" width="13.25" height="1.20" fill="#f6e4ea"/>
<rect x="277.3" y="404.05" width="13.25" height="1.20" fill="#f6e5ea"/>
<rect x="290.5" y="404.05" width="13.25" height="1.20" fill="#f6c2c6"/>
<rect x="303.7" y="404.05" width="13.25" height="1.20" fill="#f6c8cb"/>
<rect x="316.9" y="404.05" width="13.25" height="1.20" fill="#f6c5c9"/>
<rect x="250.9" y="405.20" width="13.25" height="1.20" fill="#f4b3b6"/>
<rect x="264.1" y="405.20" width="13.25" height="1.20" fill="#f6d1d5"/>
<rect x="277.3" y="405.20" width="13.25" height="1.20" fill="#f6d2d6"/>
<rect x="290.5" y="405.20" width="13.25" height="1.20" fill="#f4b4b7"/>
<rect x="303.7" y="405.20" width="13.25" height="1.20" fill="#f4abad"/>
<rect x="316.9" y="405.20" width="13.25" height="1.20" fill="#f4b0b3"/>
<rect x="250.9" y="406.35" width="13.25" height="1.20" fill="#f6e6ec"/>
<rect x="264.1" y="406.35" width="13.25" height="1.20" fill="#dedaee"/>
<rect x="277.3" y="406.35" width="13.25" height="1.20" fill="#d9d7ed"/>
<rect x="290.5" y="406.35" width="13.25" height="1.20" fill="#f6e3e8"/>
<rect x="303.7" y="406.35" width="13.25" height="1.20" fill="#f6e3e9"/>
<rect x="316.9" y="406.35" width="13.25" height="1.20" fill="#f6e6ec"/>
<rect x="250.9" y="407.50" width="13.25" height="1.22" fill="#f4b2b4"/>
<rect x="264.1" y="407.50" width="13.25" height="1.22" fill="#f6cfd3"/>
<rect x="277.3" y="407.50" width="13.25" height="1.22" fill="#f6cfd4"/>
<rect x="290.5" y="407.50" width="13.25" height="1.22" fill="#f4b1b4"/>
<rect x="303.7" y="407.50" width="13.25" height="1.22" fill="#f4aeb1"/>
<rect x="316.9" y="407.50" width="13.25" height="1.22" fill="#f6c9cd"/>
<rect x="250.9" y="408.68" width="13.25" height="1.22" fill="#f5b7ba"/>
<rect x="264.1" y="408.68" width="13.25" height="1.22" fill="#f6d2d7"/>
<rect x="277.3" y="408.68" width="13.25" height="1.22" fill="#f6cfd4"/>
<rect x="290.5" y="408.68" width="13.25" height="1.22" fill="#f4b5b8"/>
<rect x="303.7" y="408.68" width="13.25" height="1.22" fill="#f4b3b6"/>
<rect x="316.9" y="408.68" width="13.25" height="1.22" fill="#f6d2d6"/>
<rect x="250.9" y="409.85" width="13.25" height="1.22" fill="#f6c3c7"/>
<rect x="264.1" y="409.85" width="13.25" height="1.22" fill="#f6e1e6"/>
<rect x="277.3" y="409.85" width="13.25" height="1.22" fill="#f6dde2"/>
<rect x="290.5" y="409.85" width="13.25" height="1.22" fill="#f6c5c9"/>
<rect x="303.7" y="409.85" width="13.25" height="1.22" fill="#f6cace"/>
<rect x="316.9" y="409.85" width="13.25" height="1.22" fill="#f6e5eb"/>
<rect x="250.9" y="411.02" width="13.25" height="1.22" fill="#f4aeb1"/>
<rect x="264.1" y="411.02" width="13.25" height="1.22" fill="#f6cbd0"/>
<rect x="277.3" y="411.02" width="13.25" height="1.22" fill="#f6cdd2"/>
<rect x="290.5" y="411.02" width="13.25" height="1.22" fill="#f5b9bc"/>
<rect x="303.7" y="411.02" width="13.25" height="1.22" fill="#f4b6b9"/>
<rect x="316.9" y="411.02" width="13.25" height="1.22" fill="#f6d6da"/>
<rect x="250.9" y="412.20" width="13.25" height="1.20" fill="#f6d0d4"/>
<rect x="264.1" y="412.20" width="13.25" height="1.20" fill="#f6eaf0"/>
<rect x="277.3" y="412.20" width="13.25" height="1.20" fill="#f6d0d4"/>
<rect x="290.5" y="412.20" width="13.25" height="1.20" fill="#f5bec1"/>
<rect x="303.7" y="412.20" width="13.25" height="1.20" fill="#f5bbbe"/>
<rect x="316.9" y="412.20" width="13.25" height="1.20" fill="#f5bbbf"/>
<rect x="250.9" y="413.35" width="13.25" height="1.20" fill="#f6e3e9"/>
<rect x="264.1" y="413.35" width="13.25" height="1.20" fill="#e6e0ef"/>
<rect x="277.3" y="413.35" width="13.25" height="1.20" fill="#f6dbe0"/>
<rect x="290.5" y="413.35" width="13.25" height="1.20" fill="#f6cdd1"/>
<rect x="303.7" y="413.35" width="13.25" height="1.20" fill="#f6c7cb"/>
<rect x="316.9" y="413.35" width="13.25" height="1.20" fill="#f6c9cd"/>
<rect x="250.9" y="414.50" width="13.25" height="1.20" fill="#f6c3c7"/>
<rect x="264.1" y="414.50" width="13.25" height="1.20" fill="#f6e1e7"/>
<rect x="277.3" y="414.50" width="13.25" height="1.20" fill="#f6c3c7"/>
<rect x="290.5" y="414.50" width="13.25" height="1.20" fill="#f5bbbe"/>
<rect x="303.7" y="414.50" width="13.25" height="1.20" fill="#f5b6b9"/>
<rect x="316.9" y="414.50" width="13.25" height="1.20" fill="#f5bdc0"/>
<rect x="250.9" y="415.65" width="13.25" height="1.20" fill="#f6c8cc"/>
<rect x="264.1" y="415.65" width="13.25" height="1.20" fill="#f6e9ef"/>
<rect x="277.3" y="415.65" width="13.25" height="1.20" fill="#f6c8cc"/>
<rect x="290.5" y="415.65" width="13.25" height="1.20" fill="#f4b2b5"/>
<rect x="303.7" y="415.65" width="13.25" height="1.20" fill="#f4b4b7"/>
<rect x="316.9" y="415.65" width="13.25" height="1.20" fill="#f4afb2"/>
<rect x="250.9" y="416.80" width="13.25" height="1.29" fill="#f6dce1"/>
<rect x="264.1" y="416.80" width="13.25" height="1.29" fill="#e1ddef"/>
<rect x="277.3" y="416.80" width="13.25" height="1.29" fill="#f6e6ec"/>
<rect x="290.5" y="416.80" width="13.25" height="1.29" fill="#f6dde2"/>
<rect x="303.7" y="416.80" width="13.25" height="1.29" fill="#f6d5da"/>
<rect x="316.9" y="416.80" width="13.25" height="1.29" fill="#f5babd"/>
<rect x="250.9" y="418.04" width="13.25" height="1.29" fill="#f6cdd1"/>
<rect x="264.1" y="418.04" width="13.25" height="1.29" fill="#f6e6ec"/>
<rect x="277.3" y="418.04" width="13.25" height="1.29" fill="#f6c9cd"/>
<rect x="290.5" y="418.04" width="13.25" height="1.29" fill="#f6d6db"/>
<rect x="303.7" y="418.04" width="13.25" height="1.29" fill="#f6d3d8"/>
<rect x="316.9" y="418.04" width="13.25" height="1.29" fill="#f5bcbf"/>
<rect x="250.9" y="419.28" width="13.25" height="1.29" fill="#f6d8dd"/>
<rect x="264.1" y="419.28" width="13.25" height="1.29" fill="#e2ddef"/>
<rect x="277.3" y="419.28" width="13.25" height="1.29" fill="#f6e3e8"/>
<rect x="290.5" y="419.28" width="13.25" height="1.29" fill="#f6cdd2"/>
<rect x="303.7" y="419.28" width="13.25" height="1.29" fill="#f6d0d4"/>
<rect x="316.9" y="419.28" width="13.25" height="1.29" fill="#f4acae"/>
<rect x="250.9" y="420.52" width="13.25" height="1.29" fill="#f6c5c9"/>
<rect x="264.1" y="420.52" width="13.25" height="1.29" fill="#f6eaf0"/>
<rect x="277.3" y="420.52" width="13.25" height="1.29" fill="#f5c2c5"/>
<rect x="290.5" y="420.52" width="13.25" height="1.29" fill="#f5c0c3"/>
<rect x="303.7" y="420.52" width="13.25" height="1.29" fill="#f6c2c6"/>
<rect x="316.9" y="420.52" width="13.25" height="1.29" fill="#f3a0a2"/>
<rect x="250.9" y="421.76" width="13.25" height="1.29" fill="#f6dbe0"/>
<rect x="264.1" y="421.76" width="13.25" height="1.29" fill="#e8e2f0"/>
<rect x="277.3" y="421.76" width="13.25" height="1.29" fill="#f6dde2"/>
<rect x="290.5" y="421.76" width="13.25" height="1.29" fill="#f6dadf"/>
<rect x="303.7" y="421.76" width="13.25" height="1.29" fill="#f6d9dd"/>
<rect x="316.9" y="421.76" width="13.25" height="1.29" fill="#f5c1c4"/>
<rect x="250.9" y="423.00" width="13.25" height="1.55" fill="#f6e1e6"/>
<rect x="264.1" y="423.00" width="13.25" height="1.55" fill="#f6e0e5"/>
<rect x="277.3" y="423.00" width="13.25" height="1.55" fill="#f6dde3"/>
<rect x="290.5" y="423.00" width="13.25" height="1.55" fill="#f29597"/>
<rect x="303.7" y="423.00" width="13.25" height="1.55" fill="#f5babd"/>
<rect x="316.9" y="423.00" width="13.25" height="1.55" fill="#f5bbbf"/>
<rect x="250.9" y="424.50" width="13.25" height="1.55" fill="#f5c0c4"/>
<rect x="264.1" y="424.50" width="13.25" height="1.55" fill="#f5bec1"/>
<rect x="277.3" y="424.50" width="13.25" height="1.55" fill="#f6c3c7"/>
<rect x="290.5" y="424.50" width="13.25" height="1.55" fill="#ef797d"/>
<rect x="303.7" y="424.50" width="13.25" height="1.55" fill="#f4abad"/>
<rect x="316.9" y="424.50" width="13.25" height="1.55" fill="#f4aaad"/>
<rect x="250.9" y="426.00" width="13.25" height="1.22" fill="#cfcfeb"/>
<rect x="264.1" y="426.00" width="13.25" height="1.22" fill="#f6ecf1"/>
<rect x="277.3" y="426.00" width="13.25" height="1.22" fill="#f6cace"/>
<rect x="290.5" y="426.00" width="13.25" height="1.22" fill="#f18a8d"/>
<rect x="303.7" y="426.00" width="13.25" height="1.22" fill="#f4b6b9"/>
<rect x="316.9" y="426.00" width="13.25" height="1.22" fill="#f4b4b7"/>
<rect x="250.9" y="427.18" width="13.25" height="1.22" fill="#cbcceb"/>
<rect x="264.1" y="427.18" width="13.25" height="1.22" fill="#f6e8ed"/>
<rect x="277.3" y="427.18" width="13.25" height="1.22" fill="#f6d0d5"/>
<rect x="290.5" y="427.18" width="13.25" height="1.22" fill="#f18e91"/>
<rect x="303.7" y="427.18" width="13.25" height="1.22" fill="#f4b1b4"/>
<rect x="316.9" y="427.18" width="13.25" height="1.22" fill="#f4b3b6"/>
<rect x="250.9" y="428.35" width="13.25" height="1.22" fill="#d0d0ec"/>
<rect x="264.1" y="428.35" width="13.25" height="1.22" fill="#f6eaf0"/>
<rect x="277.3" y="428.35" width="13.25" height="1.22" fill="#f6c9cd"/>
<rect x="290.5" y="428.35" width="13.25" height="1.22" fill="#f08084"/>
<rect x="303.7" y="428.35" width="13.25" height="1.22" fill="#f4abae"/>
<rect x="316.9" y="428.35" width="13.25" height="1.22" fill="#f3aaac"/>
<rect x="250.9" y="429.52" width="13.25" height="1.22" fill="#c3c4e7"/>
<rect x="264.1" y="429.52" width="13.25" height="1.22" fill="#f2e9f1"/>
<rect x="277.3" y="429.52" width="13.25" height="1.22" fill="#f6d0d4"/>
<rect x="290.5" y="429.52" width="13.25" height="1.22" fill="#ef777a"/>
<rect x="303.7" y="429.52" width="13.25" height="1.22" fill="#f29fa1"/>
<rect x="316.9" y="429.52" width="13.25" height="1.22" fill="#f29ea0"/>
<rect x="250.9" y="430.70" width="13.25" height="1.20" fill="#f6ecf2"/>
<rect x="264.1" y="430.70" width="13.25" height="1.20" fill="#f6ebf1"/>
<rect x="277.3" y="430.70" width="13.25" height="1.20" fill="#f2e9f1"/>
<rect x="290.5" y="430.70" width="13.25" height="1.20" fill="#efe7f1"/>
<rect x="303.7" y="430.70" width="13.25" height="1.20" fill="#f1e8f1"/>
<rect x="316.9" y="430.70" width="13.25" height="1.20" fill="#f1e8f1"/>
<rect x="250.9" y="431.85" width="13.25" height="1.20" fill="#f6d5da"/>
<rect x="264.1" y="431.85" width="13.25" height="1.20" fill="#f6d8dd"/>
<rect x="277.3" y="431.85" width="13.25" height="1.20" fill="#f6dadf"/>
<rect x="290.5" y="431.85" width="13.25" height="1.20" fill="#f6d4d8"/>
<rect x="303.7" y="431.85" width="13.25" height="1.20" fill="#f6d8dd"/>
<rect x="316.9" y="431.85" width="13.25" height="1.20" fill="#f6d4d8"/>
<rect x="250.9" y="433.00" width="13.25" height="1.20" fill="#eae3f0"/>
<rect x="264.1" y="433.00" width="13.25" height="1.20" fill="#e9e2f0"/>
<rect x="277.3" y="433.00" width="13.25" height="1.20" fill="#e6e0ef"/>
<rect x="290.5" y="433.00" width="13.25" height="1.20" fill="#e5dfef"/>
<rect x="303.7" y="433.00" width="13.25" height="1.20" fill="#e6e0ef"/>
<rect x="316.9" y="433.00" width="13.25" height="1.20" fill="#e3deef"/>
<rect x="250.9" y="434.15" width="13.25" height="1.20" fill="#f2e9f1"/>
<rect x="264.1" y="434.15" width="13.25" height="1.20" fill="#f2e9f1"/>
<rect x="277.3" y="434.15" width="13.25" height="1.20" fill="#f2e9f1"/>
<rect x="290.5" y="434.15" width="13.25" height="1.20" fill="#f6ebf1"/>
<rect x="303.7" y="434.15" width="13.25" height="1.20" fill="#f6ebf1"/>
<rect x="316.9" y="434.15" width="13.25" height="1.20" fill="#f6e8ee"/>
<rect x="250.9" y="435.30" width="13.25" height="1.29" fill="#f6c9cd"/>
<rect x="264.1" y="435.30" width="13.25" height="1.29" fill="#f6c5c9"/>
<rect x="277.3" y="435.30" width="13.25" height="1.29" fill="#f6c4c8"/>
<rect x="290.5" y="435.30" width="13.25" height="1.29" fill="#f6c9ce"/>
<rect x="303.7" y="435.30" width="13.25" height="1.29" fill="#f6cacf"/>
<rect x="316.9" y="435.30" width="13.25" height="1.29" fill="#f6cbd0"/>
<rect x="250.9" y="436.54" width="13.25" height="1.29" fill="#f6d5da"/>
<rect x="264.1" y="436.54" width="13.25" height="1.29" fill="#f6cfd4"/>
<rect x="277.3" y="436.54" width="13.25" height="1.29" fill="#f6d1d6"/>
<rect x="290.5" y="436.54" width="13.25" height="1.29" fill="#f6d5d9"/>
<rect x="303.7" y="436.54" width="13.25" height="1.29" fill="#f6d3d8"/>
<rect x="316.9" y="436.54" width="13.25" height="1.29" fill="#f6d2d6"/>
<rect x="250.9" y="437.78" width="13.25" height="1.29" fill="#f6c8cb"/>
<rect x="264.1" y="437.78" width="13.25" height="1.29" fill="#f6c8cc"/>
<rect x="277.3" y="437.78" width="13.25" height="1.29" fill="#f6c7cb"/>
<rect x="290.5" y="437.78" width="13.25" height="1.29" fill="#f6cace"/>
<rect x="303.7" y="437.78" width="13.25" height="1.29" fill="#f6cbcf"/>
<rect x="316.9" y="437.78" width="13.25" height="1.29" fill="#f6ccd0"/>
<rect x="250.9" y="439.02" width="13.25" height="1.29" fill="#f6c3c6"/>
<rect x="264.1" y="439.02" width="13.25" height="1.29" fill="#f6c8cc"/>
<rect x="277.3" y="439.02" width="13.25" height="1.29" fill="#f6c6c9"/>
<rect x="290.5" y="439.02" width="13.25" height="1.29" fill="#f6c3c7"/>
<rect x="303.7" y="439.02" width="13.25" height="1.29" fill="#f6c3c6"/>
<rect x="316.9" y="439.02" width="13.25" height="1.29" fill="#f6c2c6"/>
<rect x="250.9" y="440.26" width="13.25" height="1.29" fill="#f6d5da"/>
<rect x="264.1" y="440.26" width="13.25" height="1.29" fill="#f6d8dd"/>
<rect x="277.3" y="440.26" width="13.25" height="1.29" fill="#f6d9dd"/>
<rect x="290.5" y="440.26" width="13.25" height="1.29" fill="#f6d9de"/>
<rect x="303.7" y="440.26" width="13.25" height="1.29" fill="#f6d6db"/>
<rect x="316.9" y="440.26" width="13.25" height="1.29" fill="#f6dde2"/>
<rect x="250.9" y="441.50" width="13.25" height="1.27" fill="#f6cbcf"/>
<rect x="264.1" y="441.50" width="13.25" height="1.27" fill="#f4aeb1"/>
<rect x="277.3" y="441.50" width="13.25" height="1.27" fill="#f6d1d5"/>
<rect x="290.5" y="441.50" width="13.25" height="1.27" fill="#f5b7ba"/>
<rect x="303.7" y="441.50" width="13.25" height="1.27" fill="#f4b4b7"/>
<rect x="316.9" y="441.50" width="13.25" height="1.27" fill="#f5b6b9"/>
<rect x="250.9" y="442.72" width="13.25" height="1.27" fill="#f5c1c5"/>
<rect x="264.1" y="442.72" width="13.25" height="1.27" fill="#f3a6a8"/>
<rect x="277.3" y="442.72" width="13.25" height="1.27" fill="#f6c2c6"/>
<rect x="290.5" y="442.72" width="13.25" height="1.27" fill="#f4adaf"/>
<rect x="303.7" y="442.72" width="13.25" height="1.27" fill="#f4abad"/>
<rect x="316.9" y="442.72" width="13.25" height="1.27" fill="#f3aaac"/>
<rect x="250.9" y="443.94" width="13.25" height="1.27" fill="#f6c9cd"/>
<rect x="264.1" y="443.94" width="13.25" height="1.27" fill="#f4adaf"/>
<rect x="277.3" y="443.94" width="13.25" height="1.27" fill="#f6c3c7"/>
<rect x="290.5" y="443.94" width="13.25" height="1.27" fill="#f0888b"/>
<rect x="303.7" y="443.94" width="13.25" height="1.27" fill="#f0888b"/>
<rect x="316.9" y="443.94" width="13.25" height="1.27" fill="#f08487"/>
<rect x="250.9" y="445.16" width="13.25" height="1.27" fill="#f2e9f1"/>
<rect x="264.1" y="445.16" width="13.25" height="1.27" fill="#f6cace"/>
<rect x="277.3" y="445.16" width="13.25" height="1.27" fill="#f6e8ee"/>
<rect x="290.5" y="445.16" width="13.25" height="1.27" fill="#f6cbcf"/>
<rect x="303.7" y="445.16" width="13.25" height="1.27" fill="#f6cdd2"/>
<rect x="316.9" y="445.16" width="13.25" height="1.27" fill="#f6c8cc"/>
<rect x="250.9" y="446.38" width="13.25" height="1.27" fill="#f6c2c6"/>
<rect x="264.1" y="446.38" width="13.25" height="1.27" fill="#f4aeb1"/>
<rect x="277.3" y="446.38" width="13.25" height="1.27" fill="#f6c7cb"/>
<rect x="290.5" y="446.38" width="13.25" height="1.27" fill="#f4b0b2"/>
<rect x="303.7" y="446.38" width="13.25" height="1.27" fill="#f4b1b3"/>
<rect x="316.9" y="446.38" width="13.25" height="1.27" fill="#f4b3b6"/>
<rect x="250.9" y="447.60" width="13.25" height="1.29" fill="#f4b4b7"/>
<rect x="264.1" y="447.60" width="13.25" height="1.29" fill="#f5b8bb"/>
<rect x="277.3" y="447.60" width="13.25" height="1.29" fill="#f5b8bc"/>
<rect x="290.5" y="447.60" width="13.25" height="1.29" fill="#f3a2a4"/>
<rect x="303.7" y="447.60" width="13.25" height="1.29" fill="#f5bdc0"/>
<rect x="316.9" y="447.60" width="13.25" height="1.29" fill="#f5babd"/>
<rect x="250.9" y="448.84" width="13.25" height="1.29" fill="#f5b7ba"/>
<rect x="264.1" y="448.84" width="13.25" height="1.29" fill="#f5bbbe"/>
<rect x="277.3" y="448.84" width="13.25" height="1.29" fill="#f5babe"/>
<rect x="290.5" y="448.84" width="13.25" height="1.29" fill="#f4b0b3"/>
<rect x="303.7" y="448.84" width="13.25" height="1.29" fill="#f6ccd0"/>
<rect x="316.9" y="448.84" width="13.25" height="1.29" fill="#f6cdd1"/>
<rect x="250.9" y="450.08" width="13.25" height="1.29" fill="#f6cacf"/>
<rect x="264.1" y="450.08" width="13.25" height="1.29" fill="#f6c9cd"/>
<rect x="277.3" y="450.08" width="13.25" height="1.29" fill="#f6cdd1"/>
<rect x="290.5" y="450.08" width="13.25" height="1.29" fill="#f4abad"/>
<rect x="303.7" y="450.08" width="13.25" height="1.29" fill="#f6cace"/>
<rect x="316.9" y="450.08" width="13.25" height="1.29" fill="#f6c3c6"/>
<rect x="250.9" y="451.32" width="13.25" height="1.29" fill="#f6cace"/>
<rect x="264.1" y="451.32" width="13.25" height="1.29" fill="#f6c3c6"/>
<rect x="277.3" y="451.32" width="13.25" height="1.29" fill="#f6c7cb"/>
<rect x="290.5" y="451.32" width="13.25" height="1.29" fill="#f4b0b3"/>
<rect x="303.7" y="451.32" width="13.25" height="1.29" fill="#f6ced2"/>
<rect x="316.9" y="451.32" width="13.25" height="1.29" fill="#f6cbcf"/>
<rect x="250.9" y="452.56" width="13.25" height="1.29" fill="#f5bcbf"/>
<rect x="264.1" y="452.56" width="13.25" height="1.29" fill="#f5b7ba"/>
<rect x="277.3" y="452.56" width="13.25" height="1.29" fill="#f4b5b8"/>
<rect x="290.5" y="452.56" width="13.25" height="1.29" fill="#f3a3a5"/>
<rect x="303.7" y="452.56" width="13.25" height="1.29" fill="#f5c1c5"/>
<rect x="316.9" y="452.56" width="13.25" height="1.29" fill="#f5bdc0"/>
<rect x="250.9" y="453.80" width="13.25" height="1.20" fill="#f6ecf2"/>
<rect x="264.1" y="453.80" width="13.25" height="1.20" fill="#f6e7ec"/>
<rect x="277.3" y="453.80" width="13.25" height="1.20" fill="#f3eaf2"/>
<rect x="290.5" y="453.80" width="13.25" height="1.20" fill="#f6c3c7"/>
<rect x="303.7" y="453.80" width="13.25" height="1.20" fill="#f6dce1"/>
<rect x="316.9" y="453.80" width="13.25" height="1.20" fill="#f6dfe4"/>
<rect x="250.9" y="454.95" width="13.25" height="1.20" fill="#eee6f1"/>
<rect x="264.1" y="454.95" width="13.25" height="1.20" fill="#ede5f0"/>
<rect x="277.3" y="454.95" width="13.25" height="1.20" fill="#efe7f1"/>
<rect x="290.5" y="454.95" width="13.25" height="1.20" fill="#f6d1d5"/>
<rect x="303.7" y="454.95" width="13.25" height="1.20" fill="#f6ecf2"/>
<rect x="316.9" y="454.95" width="13.25" height="1.20" fill="#f6e7ed"/>
<rect x="250.9" y="456.10" width="13.25" height="1.20" fill="#f6e9ef"/>
<rect x="264.1" y="456.10" width="13.25" height="1.20" fill="#f6e9ef"/>
<rect x="277.3" y="456.10" width="13.25" height="1.20" fill="#f6ebf1"/>
<rect x="290.5" y="456.10" width="13.25" height="1.20" fill="#f5bdc1"/>
<rect x="303.7" y="456.10" width="13.25" height="1.20" fill="#f6dee3"/>
<rect x="316.9" y="456.10" width="13.25" height="1.20" fill="#f6e0e6"/>
<rect x="250.9" y="457.25" width="13.25" height="1.20" fill="#f6ecf2"/>
<rect x="264.1" y="457.25" width="13.25" height="1.20" fill="#efe7f1"/>
<rect x="277.3" y="457.25" width="13.25" height="1.20" fill="#f1e8f1"/>
<rect x="290.5" y="457.25" width="13.25" height="1.20" fill="#f6c8cc"/>
<rect x="303.7" y="457.25" width="13.25" height="1.20" fill="#f6e9ef"/>
<rect x="316.9" y="457.25" width="13.25" height="1.20" fill="#f3eaf1"/>
<rect x="250.9" y="458.40" width="13.25" height="1.20" fill="#e2ddef"/>
<rect x="264.1" y="458.40" width="13.25" height="1.20" fill="#f6d8dd"/>
<rect x="277.3" y="458.40" width="13.25" height="1.20" fill="#f6ebf1"/>
<rect x="290.5" y="458.40" width="13.25" height="1.20" fill="#f6c6ca"/>
<rect x="303.7" y="458.40" width="13.25" height="1.20" fill="#f6dfe4"/>
<rect x="316.9" y="458.40" width="13.25" height="1.20" fill="#f5c0c4"/>
<rect x="250.9" y="459.55" width="13.25" height="1.20" fill="#d7d5ed"/>
<rect x="264.1" y="459.55" width="13.25" height="1.20" fill="#f6e4e9"/>
<rect x="277.3" y="459.55" width="13.25" height="1.20" fill="#e9e3f0"/>
<rect x="290.5" y="459.55" width="13.25" height="1.20" fill="#f6c3c7"/>
<rect x="303.7" y="459.55" width="13.25" height="1.20" fill="#f6e3e9"/>
<rect x="316.9" y="459.55" width="13.25" height="1.20" fill="#f6c3c7"/>
<rect x="250.9" y="460.70" width="13.25" height="1.20" fill="#c5c6e8"/>
<rect x="264.1" y="460.70" width="13.25" height="1.20" fill="#eae3f0"/>
<rect x="277.3" y="460.70" width="13.25" height="1.20" fill="#dad7ed"/>
<rect x="290.5" y="460.70" width="13.25" height="1.20" fill="#f6d2d6"/>
<rect x="303.7" y="460.70" width="13.25" height="1.20" fill="#f0e8f1"/>
<rect x="316.9" y="460.70" width="13.25" height="1.20" fill="#f6d3d8"/>
<rect x="250.9" y="461.85" width="13.25" height="1.20" fill="#c3c4e7"/>
<rect x="264.1" y="461.85" width="13.25" height="1.20" fill="#e7e1f0"/>
<rect x="277.3" y="461.85" width="13.25" height="1.20" fill="#d8d6ed"/>
<rect x="290.5" y="461.85" width="13.25" height="1.20" fill="#f6e7ec"/>
<rect x="303.7" y="461.85" width="13.25" height="1.20" fill="#d3d2ec"/>
<rect x="316.9" y="461.85" width="13.25" height="1.20" fill="#f6e3e8"/>
<rect x="250.9" y="463.00" width="13.25" height="1.60" fill="#b2b5e1"/>
<rect x="264.1" y="463.00" width="13.25" height="1.60" fill="#f6e9ee"/>
<rect x="277.3" y="463.00" width="13.25" height="1.60" fill="#f4eaf2"/>
<rect x="290.5" y="463.00" width="13.25" height="1.60" fill="#f5b9bc"/>
<rect x="303.7" y="463.00" width="13.25" height="1.60" fill="#f4b5b8"/>
<rect x="316.9" y="463.00" width="13.25" height="1.60" fill="#f4b5b8"/>
<rect x="250.9" y="464.55" width="13.25" height="1.60" fill="#acaede"/>
<rect x="264.1" y="464.55" width="13.25" height="1.60" fill="#f3eaf1"/>
<rect x="277.3" y="464.55" width="13.25" height="1.60" fill="#f6ecf2"/>
<rect x="290.5" y="464.55" width="13.25" height="1.60" fill="#f5bcbf"/>
<rect x="303.7" y="464.55" width="13.25" height="1.60" fill="#f5babd"/>
<rect x="316.9" y="464.55" width="13.25" height="1.60" fill="#f5bcbf"/>
<rect x="250.9" y="466.10" width="13.25" height="1.60" fill="#eae3f0"/>
<rect x="264.1" y="466.10" width="13.25" height="1.60" fill="#f6ccd0"/>
<rect x="277.3" y="466.10" width="13.25" height="1.60" fill="#e4dfef"/>
<rect x="290.5" y="466.10" width="13.25" height="1.60" fill="#f39fa1"/>
<rect x="303.7" y="466.10" width="13.25" height="1.60" fill="#f5c0c4"/>
<rect x="316.9" y="466.10" width="13.25" height="1.60" fill="#f6c2c6"/>
<rect x="250.9" y="467.65" width="13.25" height="1.60" fill="#e2deef"/>
<rect x="264.1" y="467.65" width="13.25" height="1.60" fill="#f6cace"/>
<rect x="277.3" y="467.65" width="13.25" height="1.60" fill="#e1ddef"/>
<rect x="290.5" y="467.65" width="13.25" height="1.60" fill="#f4b4b7"/>
<rect x="303.7" y="467.65" width="13.25" height="1.60" fill="#f6d1d6"/>
<rect x="316.9" y="467.65" width="13.25" height="1.60" fill="#f6d1d6"/>
<rect x="250.9" y="469.20" width="13.25" height="1.20" fill="#c7c9e9"/>
<rect x="264.1" y="469.20" width="13.25" height="1.20" fill="#f5ecf2"/>
<rect x="277.3" y="469.20" width="13.25" height="1.20" fill="#f6e7ed"/>
<rect x="290.5" y="469.20" width="13.25" height="1.20" fill="#e6e0ef"/>
<rect x="303.7" y="469.20" width="13.25" height="1.20" fill="#f6e9ee"/>
<rect x="316.9" y="469.20" width="13.25" height="1.20" fill="#f6e7ec"/>
<rect x="250.9" y="470.35" width="13.25" height="1.20" fill="#dbd8ee"/>
<rect x="264.1" y="470.35" width="13.25" height="1.20" fill="#f6e0e6"/>
<rect x="277.3" y="470.35" width="13.25" height="1.20" fill="#f6e2e7"/>
<rect x="290.5" y="470.35" width="13.25" height="1.20" fill="#ede6f1"/>
<rect x="303.7" y="470.35" width="13.25" height="1.20" fill="#f6e5ea"/>
<rect x="316.9" y="470.35" width="13.25" height="1.20" fill="#f6e1e7"/>
<rect x="250.9" y="471.50" width="13.25" height="1.20" fill="#bfc1e6"/>
<rect x="264.1" y="471.50" width="13.25" height="1.20" fill="#ebe4f0"/>
<rect x="277.3" y="471.50" width="13.25" height="1.20" fill="#eee6f1"/>
<rect x="290.5" y="471.50" width="13.25" height="1.20" fill="#ceceeb"/>
<rect x="303.7" y="471.50" width="13.25" height="1.20" fill="#e6e0ef"/>
<rect x="316.9" y="471.50" width="13.25" height="1.20" fill="#e8e1f0"/>
<rect x="250.9" y="472.65" width="13.25" height="1.20" fill="#bdbfe5"/>
<rect x="264.1" y="472.65" width="13.25" height="1.20" fill="#eae3f0"/>
<rect x="277.3" y="472.65" width="13.25" height="1.20" fill="#e7e1f0"/>
<rect x="290.5" y="472.65" width="13.25" height="1.20" fill="#dad7ed"/>
<rect x="303.7" y="472.65" width="13.25" height="1.20" fill="#ece5f0"/>
<rect x="316.9" y="472.65" width="13.25" height="1.20" fill="#eee6f1"/>
<rect x="250.9" y="473.80" width="13.25" height="1.29" fill="#e7e1f0"/>
<rect x="264.1" y="473.80" width="13.25" height="1.29" fill="#d7d5ed"/>
<rect x="277.3" y="473.80" width="13.25" height="1.29" fill="#d2d2ec"/>
<rect x="290.5" y="473.80" width="13.25" height="1.29" fill="#f6ecf2"/>
<rect x="303.7" y="473.80" width="13.25" height="1.29" fill="#f0e8f1"/>
<rect x="316.9" y="473.80" width="13.25" height="1.29" fill="#efe7f1"/>
<rect x="250.9" y="475.04" width="13.25" height="1.29" fill="#c8c9e9"/>
<rect x="264.1" y="475.04" width="13.25" height="1.29" fill="#aeb0df"/>
<rect x="277.3" y="475.04" width="13.25" height="1.29" fill="#a9acdd"/>
<rect x="290.5" y="475.04" width="13.25" height="1.29" fill="#ceceeb"/>
<rect x="303.7" y="475.04" width="13.25" height="1.29" fill="#cfcfeb"/>
<rect x="316.9" y="475.04" width="13.25" height="1.29" fill="#cdceeb"/>
<rect x="250.9" y="476.28" width="13.25" height="1.29" fill="#c0c2e6"/>
<rect x="264.1" y="476.28" width="13.25" height="1.29" fill="#aeb1df"/>
<rect x="277.3" y="476.28" width="13.25" height="1.29" fill="#aaaddd"/>
<rect x="290.5" y="476.28" width="13.25" height="1.29" fill="#cfcfeb"/>
<rect x="303.7" y="476.28" width="13.25" height="1.29" fill="#cecfeb"/>
<rect x="316.9" y="476.28" width="13.25" height="1.29" fill="#cbcceb"/>
<rect x="250.9" y="477.52" width="13.25" height="1.29" fill="#e8e1f0"/>
<rect x="264.1" y="477.52" width="13.25" height="1.29" fill="#d2d2ec"/>
<rect x="277.3" y="477.52" width="13.25" height="1.29" fill="#d9d6ed"/>
<rect x="290.5" y="477.52" width="13.25" height="1.29" fill="#e1ddef"/>
<rect x="303.7" y="477.52" width="13.25" height="1.29" fill="#e4dfef"/>
<rect x="316.9" y="477.52" width="13.25" height="1.29" fill="#e6e0ef"/>
<rect x="250.9" y="478.76" width="13.25" height="1.29" fill="#e9e2f0"/>
<rect x="264.1" y="478.76" width="13.25" height="1.29" fill="#d2d1ec"/>
<rect x="277.3" y="478.76" width="13.25" height="1.29" fill="#cecfeb"/>
<rect x="290.5" y="478.76" width="13.25" height="1.29" fill="#eee6f1"/>
<rect x="303.7" y="478.76" width="13.25" height="1.29" fill="#f3eaf1"/>
<rect x="316.9" y="478.76" width="13.25" height="1.29" fill="#f1e9f1"/>
<rect x="250.9" y="480.00" width="13.25" height="1.20" fill="#c2c4e7"/>
<rect x="264.1" y="480.00" width="13.25" height="1.20" fill="#ede5f0"/>
<rect x="277.3" y="480.00" width="13.25" height="1.20" fill="#ede6f1"/>
<rect x="290.5" y="480.00" width="13.25" height="1.20" fill="#f4b3b5"/>
<rect x="303.7" y="480.00" width="13.25" height="1.20" fill="#f5b6b9"/>
<rect x="316.9" y="480.00" width="13.25" height="1.20" fill="#f6d0d5"/>
<rect x="250.9" y="481.15" width="13.25" height="1.20" fill="#e2ddef"/>
<rect x="264.1" y="481.15" width="13.25" height="1.20" fill="#f6d7dc"/>
<rect x="277.3" y="481.15" width="13.25" height="1.20" fill="#f6d7dc"/>
<rect x="290.5" y="481.15" width="13.25" height="1.20" fill="#f4adaf"/>
<rect x="303.7" y="481.15" width="13.25" height="1.20" fill="#f4aeb0"/>
<rect x="316.9" y="481.15" width="13.25" height="1.20" fill="#f6cace"/>
<rect x="250.9" y="482.30" width="13.25" height="1.60" fill="#eae4f0"/>
<rect x="264.1" y="482.30" width="13.25" height="1.60" fill="#ebe4f0"/>
<rect x="277.3" y="482.30" width="13.25" height="1.60" fill="#f6e6ec"/>
<rect x="290.5" y="482.30" width="13.25" height="1.60" fill="#f19093"/>
<rect x="303.7" y="482.30" width="13.25" height="1.60" fill="#f19396"/>
<rect x="316.9" y="482.30" width="13.25" height="1.60" fill="#f5b7ba"/>
<rect x="250.9" y="483.85" width="13.25" height="1.60" fill="#c7c8e9"/>
<rect x="264.1" y="483.85" width="13.25" height="1.60" fill="#cdceeb"/>
<rect x="277.3" y="483.85" width="13.25" height="1.60" fill="#e2ddef"/>
<rect x="290.5" y="483.85" width="13.25" height="1.60" fill="#f4b5b8"/>
<rect x="303.7" y="483.85" width="13.25" height="1.60" fill="#f4b6b9"/>
<rect x="316.9" y="483.85" width="13.25" height="1.60" fill="#f6d4d9"/>
<rect x="250.9" y="485.40" width="13.25" height="1.32" fill="#d6d4ed"/>
<rect x="264.1" y="485.40" width="13.25" height="1.32" fill="#d7d5ed"/>
<rect x="277.3" y="485.40" width="13.25" height="1.32" fill="#d4d3ec"/>
<rect x="290.5" y="485.40" width="13.25" height="1.32" fill="#f6c9cd"/>
<rect x="303.7" y="485.40" width="13.25" height="1.32" fill="#f6c7cb"/>
<rect x="316.9" y="485.40" width="13.25" height="1.32" fill="#cccdeb"/>
<rect x="250.9" y="486.67" width="13.25" height="1.32" fill="#d8d6ed"/>
<rect x="264.1" y="486.67" width="13.25" height="1.32" fill="#d8d6ed"/>
<rect x="277.3" y="486.67" width="13.25" height="1.32" fill="#d6d5ed"/>
<rect x="290.5" y="486.67" width="13.25" height="1.32" fill="#f6c3c7"/>
<rect x="303.7" y="486.67" width="13.25" height="1.32" fill="#f6c3c7"/>
<rect x="316.9" y="486.67" width="13.25" height="1.32" fill="#cecfeb"/>
<rect x="250.9" y="487.93" width="13.25" height="1.32" fill="#a9acdd"/>
<rect x="264.1" y="487.93" width="13.25" height="1.32" fill="#a9acdd"/>
<rect x="277.3" y="487.93" width="13.25" height="1.32" fill="#a5a8db"/>
<rect x="290.5" y="487.93" width="13.25" height="1.32" fill="#f6e5ea"/>
<rect x="303.7" y="487.93" width="13.25" height="1.32" fill="#f6e6ec"/>
<rect x="316.9" y="487.93" width="13.25" height="1.32" fill="#aeb1df"/>
<rect x="250.9" y="489.20" width="13.25" height="1.20" fill="#f6eaf0"/>
<rect x="264.1" y="489.20" width="13.25" height="1.20" fill="#f6dadf"/>
<rect x="277.3" y="489.20" width="13.25" height="1.20" fill="#f6ebf1"/>
<rect x="290.5" y="489.20" width="13.25" height="1.20" fill="#f6ced2"/>
<rect x="303.7" y="489.20" width="13.25" height="1.20" fill="#f6dfe5"/>
<rect x="316.9" y="489.20" width="13.25" height="1.20" fill="#ece4f0"/>
<rect x="250.9" y="490.35" width="13.25" height="1.20" fill="#d3d2ec"/>
<rect x="264.1" y="490.35" width="13.25" height="1.20" fill="#ece5f0"/>
<rect x="277.3" y="490.35" width="13.25" height="1.20" fill="#cfcfec"/>
<rect x="290.5" y="490.35" width="13.25" height="1.20" fill="#f6e6ec"/>
<rect x="303.7" y="490.35" width="13.25" height="1.20" fill="#f2e9f1"/>
<rect x="316.9" y="490.35" width="13.25" height="1.20" fill="#dbd8ee"/>
<rect x="250.9" y="491.50" width="13.25" height="1.20" fill="#cdcdeb"/>
<rect x="264.1" y="491.50" width="13.25" height="1.20" fill="#dedaee"/>
<rect x="277.3" y="491.50" width="13.25" height="1.20" fill="#c7c8e9"/>
<rect x="290.5" y="491.50" width="13.25" height="1.20" fill="#f0e8f1"/>
<rect x="303.7" y="491.50" width="13.25" height="1.20" fill="#e2ddef"/>
<rect x="316.9" y="491.50" width="13.25" height="1.20" fill="#bfc1e6"/>
<rect x="250.9" y="492.65" width="13.25" height="1.20" fill="#d1d0ec"/>
<rect x="264.1" y="492.65" width="13.25" height="1.20" fill="#ece5f0"/>
<rect x="277.3" y="492.65" width="13.25" height="1.20" fill="#d2d1ec"/>
<rect x="290.5" y="492.65" width="13.25" height="1.20" fill="#f6e9ee"/>
<rect x="303.7" y="492.65" width="13.25" height="1.20" fill="#ede6f1"/>
<rect x="316.9" y="492.65" width="13.25" height="1.20" fill="#cbccea"/>
<rect x="250.9" y="493.80" width="13.25" height="1.29" fill="#dcd9ee"/>
<rect x="264.1" y="493.80" width="13.25" height="1.29" fill="#e0dcee"/>
<rect x="277.3" y="493.80" width="13.25" height="1.29" fill="#e7e1f0"/>
<rect x="290.5" y="493.80" width="13.25" height="1.29" fill="#d4d3ec"/>
<rect x="303.7" y="493.80" width="13.25" height="1.29" fill="#f4ebf2"/>
<rect x="316.9" y="493.80" width="13.25" height="1.29" fill="#d8d6ed"/>
<rect x="250.9" y="495.04" width="13.25" height="1.29" fill="#cbcceb"/>
<rect x="264.1" y="495.04" width="13.25" height="1.29" fill="#cacbea"/>
<rect x="277.3" y="495.04" width="13.25" height="1.29" fill="#cecfeb"/>
<rect x="290.5" y="495.04" width="13.25" height="1.29" fill="#cccdeb"/>
<rect x="303.7" y="495.04" width="13.25" height="1.29" fill="#e5e0ef"/>
<rect x="316.9" y="495.04" width="13.25" height="1.29" fill="#d0d0ec"/>
<rect x="250.9" y="496.28" width="13.25" height="1.29" fill="#c3c5e8"/>
<rect x="264.1" y="496.28" width="13.25" height="1.29" fill="#cccdeb"/>
<rect x="277.3" y="496.28" width="13.25" height="1.29" fill="#c8caea"/>
<rect x="290.5" y="496.28" width="13.25" height="1.29" fill="#cbcceb"/>
<rect x="303.7" y="496.28" width="13.25" height="1.29" fill="#e2ddef"/>
<rect x="316.9" y="496.28" width="13.25" height="1.29" fill="#c8c9e9"/>
<rect x="250.9" y="497.52" width="13.25" height="1.29" fill="#e7e1ef"/>
<rect x="264.1" y="497.52" width="13.25" height="1.29" fill="#e9e2f0"/>
<rect x="277.3" y="497.52" width="13.25" height="1.29" fill="#e7e1f0"/>
<rect x="290.5" y="497.52" width="13.25" height="1.29" fill="#f1e8f1"/>
<rect x="303.7" y="497.52" width="13.25" height="1.29" fill="#f6e3e9"/>
<rect x="316.9" y="497.52" width="13.25" height="1.29" fill="#f0e8f1"/>
<rect x="250.9" y="498.76" width="13.25" height="1.29" fill="#dbd8ed"/>
<rect x="264.1" y="498.76" width="13.25" height="1.29" fill="#d9d7ed"/>
<rect x="277.3" y="498.76" width="13.25" height="1.29" fill="#dad7ed"/>
<rect x="290.5" y="498.76" width="13.25" height="1.29" fill="#d8d6ed"/>
<rect x="303.7" y="498.76" width="13.25" height="1.29" fill="#f3eaf1"/>
<rect x="316.9" y="498.76" width="13.25" height="1.29" fill="#dbd8ee"/>
<rect x="250.9" y="500.00" width="13.25" height="1.29" fill="#c5c6e8"/>
<rect x="264.1" y="500.00" width="13.25" height="1.29" fill="#cacbea"/>
<rect x="277.3" y="500.00" width="13.25" height="1.29" fill="#cccdeb"/>
<rect x="290.5" y="500.00" width="13.25" height="1.29" fill="#babce4"/>
<rect x="303.7" y="500.00" width="13.25" height="1.29" fill="#c1c3e7"/>
<rect x="316.9" y="500.00" width="13.25" height="1.29" fill="#bfc1e6"/>
<rect x="250.9" y="501.24" width="13.25" height="1.29" fill="#cacbea"/>
<rect x="264.1" y="501.24" width="13.25" height="1.29" fill="#cbcceb"/>
<rect x="277.3" y="501.24" width="13.25" height="1.29" fill="#d4d3ec"/>
<rect x="290.5" y="501.24" width="13.25" height="1.29" fill="#c0c1e6"/>
<rect x="303.7" y="501.24" width="13.25" height="1.29" fill="#babce4"/>
<rect x="316.9" y="501.24" width="13.25" height="1.29" fill="#bcbee5"/>
<rect x="250.9" y="502.48" width="13.25" height="1.29" fill="#b4b7e1"/>
<rect x="264.1" y="502.48" width="13.25" height="1.29" fill="#c0c2e6"/>
<rect x="277.3" y="502.48" width="13.25" height="1.29" fill="#babce4"/>
<rect x="290.5" y="502.48" width="13.25" height="1.29" fill="#b6b8e2"/>
<rect x="303.7" y="502.48" width="13.25" height="1.29" fill="#bbbde4"/>
<rect x="316.9" y="502.48" width="13.25" height="1.29" fill="#bec0e6"/>
<rect x="250.9" y="503.72" width="13.25" height="1.29" fill="#d8d6ed"/>
<rect x="264.1" y="503.72" width="13.25" height="1.29" fill="#d7d5ed"/>
<rect x="277.3" y="503.72" width="13.25" height="1.29" fill="#d4d3ec"/>
<rect x="290.5" y="503.72" width="13.25" height="1.29" fill="#c0c2e6"/>
<rect x="303.7" y="503.72" width="13.25" height="1.29" fill="#bbbde4"/>
<rect x="316.9" y="503.72" width="13.25" height="1.29" fill="#bec0e5"/>
<rect x="250.9" y="504.96" width="13.25" height="1.29" fill="#b1b3e0"/>
<rect x="264.1" y="504.96" width="13.25" height="1.29" fill="#acafde"/>
<rect x="277.3" y="504.96" width="13.25" height="1.29" fill="#b1b4e0"/>
<rect x="290.5" y="504.96" width="13.25" height="1.29" fill="#c0c1e6"/>
<rect x="303.7" y="504.96" width="13.25" height="1.29" fill="#bcbee5"/>
<rect x="316.9" y="504.96" width="13.25" height="1.29" fill="#c8caea"/>
<rect x="250.9" y="506.20" width="13.25" height="1.20" fill="#c5c7e8"/>
<rect x="264.1" y="506.20" width="13.25" height="1.20" fill="#c1c3e7"/>
<rect x="277.3" y="506.20" width="13.25" height="1.20" fill="#9ea1d8"/>
<rect x="290.5" y="506.20" width="13.25" height="1.20" fill="#b3b6e1"/>
<rect x="303.7" y="506.20" width="13.25" height="1.20" fill="#adafde"/>
<rect x="316.9" y="506.20" width="13.25" height="1.20" fill="#b6b8e2"/>
<rect x="250.9" y="507.35" width="13.25" height="1.20" fill="#eee6f1"/>
<rect x="264.1" y="507.35" width="13.25" height="1.20" fill="#f3eaf1"/>
<rect x="277.3" y="507.35" width="13.25" height="1.20" fill="#e1dcee"/>
<rect x="290.5" y="507.35" width="13.25" height="1.20" fill="#e5dfef"/>
<rect x="303.7" y="507.35" width="13.25" height="1.20" fill="#e1dcee"/>
<rect x="316.9" y="507.35" width="13.25" height="1.20" fill="#e1ddef"/>
<rect x="250.9" y="508.50" width="13.25" height="1.55" fill="#e2ddef"/>
<rect x="264.1" y="508.50" width="13.25" height="1.55" fill="#e5dfef"/>
<rect x="277.3" y="508.50" width="13.25" height="1.55" fill="#9195d2"/>
<rect x="290.5" y="508.50" width="13.25" height="1.55" fill="#8d92d1"/>
<rect x="303.7" y="508.50" width="13.25" height="1.55" fill="#babce4"/>
<rect x="316.9" y="508.50" width="13.25" height="1.55" fill="#bbbde4"/>
<rect x="250.9" y="510.00" width="13.25" height="1.40" fill="#e4dfef"/>
<rect x="264.1" y="510.00" width="13.25" height="1.40" fill="#d8d6ed"/>
<rect x="277.3" y="510.00" width="13.25" height="1.40" fill="#a3a7db"/>
<rect x="290.5" y="510.00" width="13.25" height="1.40" fill="#aaaddd"/>
<rect x="303.7" y="510.00" width="13.25" height="1.40" fill="#c8c9e9"/>
<rect x="316.9" y="510.00" width="13.25" height="1.40" fill="#a7aadc"/>
<rect x="250.9" y="511.35" width="13.25" height="1.40" fill="#e2ddef"/>
<rect x="264.1" y="511.35" width="13.25" height="1.40" fill="#e0dcee"/>
<rect x="277.3" y="511.35" width="13.25" height="1.40" fill="#b4b6e1"/>
<rect x="290.5" y="511.35" width="13.25" height="1.40" fill="#b4b7e1"/>
<rect x="303.7" y="511.35" width="13.25" height="1.40" fill="#cccdeb"/>
<rect x="316.9" y="511.35" width="13.25" height="1.40" fill="#b2b5e1"/>
<rect x="250.9" y="512.70" width="13.25" height="1.40" fill="#f6e1e7"/>
<rect x="264.1" y="512.70" width="13.25" height="1.40" fill="#f6e5ea"/>
<rect x="277.3" y="512.70" width="13.25" height="1.40" fill="#dad7ed"/>
<rect x="290.5" y="512.70" width="13.25" height="1.40" fill="#dcd9ee"/>
<rect x="303.7" y="512.70" width="13.25" height="1.40" fill="#f5ebf2"/>
<rect x="316.9" y="512.70" width="13.25" height="1.40" fill="#d9d6ed"/>
<rect x="250.9" y="514.05" width="13.25" height="1.40" fill="#eee6f1"/>
<rect x="264.1" y="514.05" width="13.25" height="1.40" fill="#e9e2f0"/>
<rect x="277.3" y="514.05" width="13.25" height="1.40" fill="#b7b9e2"/>
<rect x="290.5" y="514.05" width="13.25" height="1.40" fill="#b1b4e0"/>
<rect x="303.7" y="514.05" width="13.25" height="1.40" fill="#d2d1ec"/>
<rect x="316.9" y="514.05" width="13.25" height="1.40" fill="#bfc1e6"/>
<rect x="250.9" y="515.40" width="13.25" height="1.20" fill="#f6e5eb"/>
<rect x="264.1" y="515.40" width="13.25" height="1.20" fill="#e7e1ef"/>
<rect x="277.3" y="515.40" width="13.25" height="1.20" fill="#d2d1ec"/>
<rect x="290.5" y="515.40" width="13.25" height="1.20" fill="#d4d3ec"/>
<rect x="303.7" y="515.40" width="13.25" height="1.20" fill="#e5e0ef"/>
<rect x="316.9" y="515.40" width="13.25" height="1.20" fill="#d5d4ed"/>
<rect x="250.9" y="516.55" width="13.25" height="1.20" fill="#ece5f0"/>
<rect x="264.1" y="516.55" width="13.25" height="1.20" fill="#dfdbee"/>
<rect x="277.3" y="516.55" width="13.25" height="1.20" fill="#d0d0ec"/>
<rect x="290.5" y="516.55" width="13.25" height="1.20" fill="#dbd8ee"/>
<rect x="303.7" y="516.55" width="13.25" height="1.20" fill="#f2e9f1"/>
<rect x="316.9" y="516.55" width="13.25" height="1.20" fill="#dcd9ee"/>
<rect x="250.9" y="517.70" width="13.25" height="1.20" fill="#eee6f1"/>
<rect x="264.1" y="517.70" width="13.25" height="1.20" fill="#dcd9ee"/>
<rect x="277.3" y="517.70" width="13.25" height="1.20" fill="#c3c4e7"/>
<rect x="290.5" y="517.70" width="13.25" height="1.20" fill="#c5c7e8"/>
<rect x="303.7" y="517.70" width="13.25" height="1.20" fill="#e3deef"/>
<rect x="316.9" y="517.70" width="13.25" height="1.20" fill="#c9cbea"/>
<rect x="250.9" y="518.85" width="13.25" height="1.20" fill="#f6eaef"/>
<rect x="264.1" y="518.85" width="13.25" height="1.20" fill="#dbd8ed"/>
<rect x="277.3" y="518.85" width="13.25" height="1.20" fill="#cccdeb"/>
<rect x="290.5" y="518.85" width="13.25" height="1.20" fill="#d8d6ed"/>
<rect x="303.7" y="518.85" width="13.25" height="1.20" fill="#ede5f0"/>
<rect x="316.9" y="518.85" width="13.25" height="1.20" fill="#d6d4ed"/>
<rect x="250.9" y="520.00" width="13.25" height="1.20" fill="#d0d0ec"/>
<rect x="264.1" y="520.00" width="13.25" height="1.20" fill="#cacbea"/>
<rect x="277.3" y="520.00" width="13.25" height="1.20" fill="#d0d0ec"/>
<rect x="290.5" y="520.00" width="13.25" height="1.20" fill="#d1d1ec"/>
<rect x="303.7" y="520.00" width="13.25" height="1.20" fill="#ece5f0"/>
<rect x="316.9" y="520.00" width="13.25" height="1.20" fill="#d3d2ec"/>
<rect x="250.9" y="521.15" width="13.25" height="1.20" fill="#cfcfec"/>
<rect x="264.1" y="521.15" width="13.25" height="1.20" fill="#c9caea"/>
<rect x="277.3" y="521.15" width="13.25" height="1.20" fill="#c9caea"/>
<rect x="290.5" y="521.15" width="13.25" height="1.20" fill="#c2c4e7"/>
<rect x="303.7" y="521.15" width="13.25" height="1.20" fill="#ddd9ee"/>
<rect x="316.9" y="521.15" width="13.25" height="1.20" fill="#cccdeb"/>
<rect x="250.9" y="522.30" width="13.25" height="1.20" fill="#d4d3ec"/>
<rect x="264.1" y="522.30" width="13.25" height="1.20" fill="#d7d5ed"/>
<rect x="277.3" y="522.30" width="13.25" height="1.20" fill="#d2d1ec"/>
<rect x="290.5" y="522.30" width="13.25" height="1.20" fill="#d5d4ed"/>
<rect x="303.7" y="522.30" width="13.25" height="1.20" fill="#e5e0ef"/>
<rect x="316.9" y="522.30" width="13.25" height="1.20" fill="#d8d6ed"/>
<rect x="250.9" y="523.45" width="13.25" height="1.20" fill="#d9d7ed"/>
<rect x="264.1" y="523.45" width="13.25" height="1.20" fill="#dad7ed"/>
<rect x="277.3" y="523.45" width="13.25" height="1.20" fill="#dcd8ee"/>
<rect x="290.5" y="523.45" width="13.25" height="1.20" fill="#d6d5ed"/>
<rect x="303.7" y="523.45" width="13.25" height="1.20" fill="#e3deef"/>
<rect x="316.9" y="523.45" width="13.25" height="1.20" fill="#cecfeb"/>
<rect x="250.9" y="524.60" width="13.25" height="1.20" fill="#a5a8db"/>
<rect x="264.1" y="524.60" width="13.25" height="1.20" fill="#d0d0ec"/>
<rect x="277.3" y="524.60" width="13.25" height="1.20" fill="#d6d5ed"/>
<rect x="290.5" y="524.60" width="13.25" height="1.20" fill="#ceceeb"/>
<rect x="303.7" y="524.60" width="13.25" height="1.20" fill="#d2d2ec"/>
<rect x="316.9" y="524.60" width="13.25" height="1.20" fill="#cdceeb"/>
<rect x="250.9" y="525.75" width="13.25" height="1.20" fill="#b0b2e0"/>
<rect x="264.1" y="525.75" width="13.25" height="1.20" fill="#e2ddef"/>
<rect x="277.3" y="525.75" width="13.25" height="1.20" fill="#dcd9ee"/>
<rect x="290.5" y="525.75" width="13.25" height="1.20" fill="#dddaee"/>
<rect x="303.7" y="525.75" width="13.25" height="1.20" fill="#d9d7ed"/>
<rect x="316.9" y="525.75" width="13.25" height="1.20" fill="#e0dcee"/>
<rect x="250.9" y="526.90" width="13.25" height="1.20" fill="#9398d4"/>
<rect x="264.1" y="526.90" width="13.25" height="1.20" fill="#ceceeb"/>
<rect x="277.3" y="526.90" width="13.25" height="1.20" fill="#c5c7e8"/>
<rect x="290.5" y="526.90" width="13.25" height="1.20" fill="#d8d6ed"/>
<rect x="303.7" y="526.90" width="13.25" height="1.20" fill="#dad7ed"/>
<rect x="316.9" y="526.90" width="13.25" height="1.20" fill="#d8d6ed"/>
<rect x="250.9" y="528.05" width="13.25" height="1.20" fill="#bdbfe5"/>
<rect x="264.1" y="528.05" width="13.25" height="1.20" fill="#eae3f0"/>
<rect x="277.3" y="528.05" width="13.25" height="1.20" fill="#e8e2f0"/>
<rect x="290.5" y="528.05" width="13.25" height="1.20" fill="#efe7f1"/>
<rect x="303.7" y="528.05" width="13.25" height="1.20" fill="#eee6f1"/>
<rect x="316.9" y="528.05" width="13.25" height="1.20" fill="#efe7f1"/>
<rect x="250.9" y="529.20" width="13.25" height="1.35" fill="#d9d6ed"/>
<rect x="264.1" y="529.20" width="13.25" height="1.35" fill="#d4d3ec"/>
<rect x="277.3" y="529.20" width="13.25" height="1.35" fill="#aeb1df"/>
<rect x="290.5" y="529.20" width="13.25" height="1.35" fill="#c7c8e9"/>
<rect x="303.7" y="529.20" width="13.25" height="1.35" fill="#cdceeb"/>
<rect x="316.9" y="529.20" width="13.25" height="1.35" fill="#d6d4ed"/>
<rect x="250.9" y="530.50" width="13.25" height="1.35" fill="#dbd8ed"/>
<rect x="264.1" y="530.50" width="13.25" height="1.35" fill="#dad7ed"/>
<rect x="277.3" y="530.50" width="13.25" height="1.35" fill="#9ea2d8"/>
<rect x="290.5" y="530.50" width="13.25" height="1.35" fill="#dcd9ee"/>
<rect x="303.7" y="530.50" width="13.25" height="1.35" fill="#dfdbee"/>
<rect x="316.9" y="530.50" width="13.25" height="1.35" fill="#d7d5ed"/>
<rect x="250.9" y="531.80" width="13.25" height="1.35" fill="#a1a4d9"/>
<rect x="264.1" y="531.80" width="13.25" height="1.35" fill="#a0a3d9"/>
<rect x="277.3" y="531.80" width="13.25" height="1.35" fill="#747ac4"/>
<rect x="290.5" y="531.80" width="13.25" height="1.35" fill="#abaede"/>
<rect x="303.7" y="531.80" width="13.25" height="1.35" fill="#a7aadc"/>
<rect x="316.9" y="531.80" width="13.25" height="1.35" fill="#afb1df"/>
<rect x="250.9" y="533.10" width="13.25" height="1.35" fill="#dbd8ed"/>
<rect x="264.1" y="533.10" width="13.25" height="1.35" fill="#d2d2ec"/>
<rect x="277.3" y="533.10" width="13.25" height="1.35" fill="#cfcfeb"/>
<rect x="290.5" y="533.10" width="13.25" height="1.35" fill="#cfcfeb"/>
<rect x="303.7" y="533.10" width="13.25" height="1.35" fill="#c3c4e7"/>
<rect x="316.9" y="533.10" width="13.25" height="1.35" fill="#c8caea"/>
<rect x="250.9" y="534.40" width="13.25" height="1.35" fill="#dddaee"/>
<rect x="264.1" y="534.40" width="13.25" height="1.35" fill="#d1d1ec"/>
<rect x="277.3" y="534.40" width="13.25" height="1.35" fill="#d2d1ec"/>
<rect x="290.5" y="534.40" width="13.25" height="1.35" fill="#cbccea"/>
<rect x="303.7" y="534.40" width="13.25" height="1.35" fill="#cccdeb"/>
<rect x="316.9" y="534.40" width="13.25" height="1.35" fill="#c6c7e8"/>
<rect x="250.9" y="535.70" width="13.25" height="1.35" fill="#e7e1f0"/>
<rect x="264.1" y="535.70" width="13.25" height="1.35" fill="#e6e0ef"/>
<rect x="277.3" y="535.70" width="13.25" height="1.35" fill="#e5e0ef"/>
<rect x="290.5" y="535.70" width="13.25" height="1.35" fill="#d7d5ed"/>
<rect x="303.7" y="535.70" width="13.25" height="1.35" fill="#d1d1ec"/>
<rect x="316.9" y="535.70" width="13.25" height="1.35" fill="#d3d2ec"/>
</g>
<!-- column labels -->
<g font-size="8.7" text-anchor="end">
<text transform="translate(102.2,540.4) rotate(-90)" fill="#55639c" stroke="#55639c">S7</text>
<text transform="translate(115.4,540.4) rotate(-90)" fill="#55639c" stroke="#55639c">S8</text>
<text transform="translate(128.6,540.4) rotate(-90)" fill="#55639c" stroke="#55639c">S9</text>
<text transform="translate(141.8,540.4) rotate(-90)" fill="#9fcf86" stroke="#9fcf86">S12</text>
<text transform="translate(155,540.4) rotate(-90)" fill="#9fcf86" stroke="#9fcf86">S11</text>
<text transform="translate(168.2,540.4) rotate(-90)" fill="#9fcf86" stroke="#9fcf86">S10</text>
<text transform="translate(181.4,540.4) rotate(-90)" fill="#d46060" stroke="#d46060">S6</text>
<text transform="translate(194.6,540.4) rotate(-90)" fill="#d46060" stroke="#d46060">S4</text>
<text transform="translate(207.8,540.4) rotate(-90)" fill="#d46060" stroke="#d46060">S5</text>
<text transform="translate(221,540.4) rotate(-90)" fill="#f0c878" stroke="#f0c878">S18</text>
<text transform="translate(234.2,540.4) rotate(-90)" fill="#f0c878" stroke="#f0c878">S16</text>
<text transform="translate(247.4,540.4) rotate(-90)" fill="#f0c878" stroke="#f0c878">S17</text>
<text transform="translate(260.6,540.4) rotate(-90)" fill="#8c7fb4" stroke="#8c7fb4">S15</text>
<text transform="translate(273.8,540.4) rotate(-90)" fill="#8c7fb4" stroke="#8c7fb4">S14</text>
<text transform="translate(287,540.4) rotate(-90)" fill="#8c7fb4" stroke="#8c7fb4">S13</text>
<text transform="translate(300.2,540.4) rotate(-90)" fill="#333" stroke="#333">S1</text>
<text transform="translate(313.4,540.4) rotate(-90)" fill="#333" stroke="#333">S2</text>
<text transform="translate(326.6,540.4) rotate(-90)" fill="#333" stroke="#333">S3</text>
</g>
</g>
</svg>
</body></html>
